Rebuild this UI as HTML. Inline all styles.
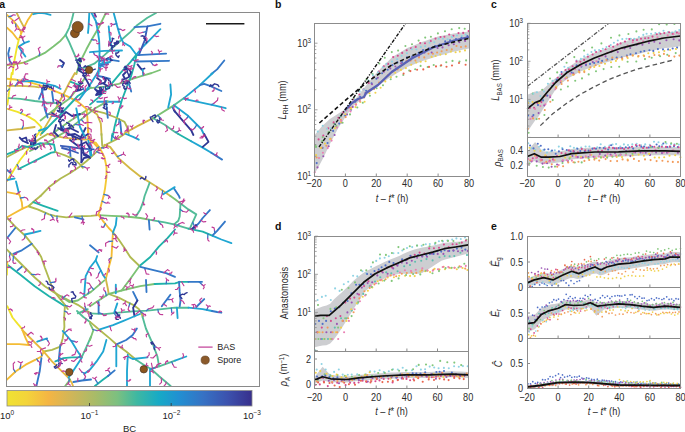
<!DOCTYPE html>
<html><head><meta charset="utf-8"><style>
html,body{margin:0;padding:0;background:#fff;overflow:hidden}
svg{display:block}
text{font-family:"Liberation Sans",sans-serif}
</style></head><body>
<svg width="685" height="432" viewBox="0 0 685 432">
<rect width="685" height="432" fill="#fff"/>
<defs><clipPath id="netclip"><rect x="7" y="13" width="252" height="373"/></clipPath></defs>
<g clip-path="url(#netclip)" fill="none" stroke-linecap="round" stroke-linejoin="round">
<path d="M12.5,74.0 L14.6,59.4 L16.8,47.9 L18.9,39.3 L21.1,33.5" stroke="#f0e42c" stroke-width="1.85"/>
<path d="M21.1,33.5 L23.9,27.8 L27.5,20.6 L32.6,13.0" stroke="#f4bc34" stroke-width="1.85"/>
<path d="M7.0,14.9 L13.2,20.6 L18.2,27.1 L21.1,32.1" stroke="#f4bc34" stroke-width="1.85"/>
<path d="M7.0,27.8 L12.5,32.8 L17.5,39.3" stroke="#f4bc34" stroke-width="1.85"/>
<path d="M16.8,13.0 L20.4,20.6 L23.9,27.1" stroke="#d2b848" stroke-width="1.85"/>
<path d="M7.0,65.1 L14.6,64.4 L24.7,62.3" stroke="#b0ba50" stroke-width="1.85"/>
<path d="M24.7,62.3 L34.7,57.9 L44.8,52.9 L53.4,46.5 L60.6,40.7 L65.6,35.0" stroke="#7cc274" stroke-width="1.85"/>
<path d="M65.6,35.0 L69.2,27.8 L72.0,19.2 L73.5,13.0" stroke="#52bc98" stroke-width="1.85"/>
<path d="M65.6,35.0 L69.2,42.2 L73.5,52.2 L77.8,62.3 L80.0,69.4" stroke="#52bc98" stroke-width="1.85"/>
<path d="M76.4,74.0 L78.5,66.6 L82.1,58.0 L86.4,49.3 L91.0,40.7 L98.6,27.8 L105.8,13.0" stroke="#7cc274" stroke-width="1.85"/>
<path d="M18.9,46.5 L24.7,42.9 L29.0,41.4" stroke="#1fa6d2" stroke-width="1.85"/>
<path d="M18.9,47.2 L22.5,52.2 L25.4,56.5" stroke="#1fa6d2" stroke-width="1.85"/>
<path d="M9.6,47.9 L8.2,53.6 L9.6,60.8 L11.7,63.7" stroke="#3478c8" stroke-width="1.85"/>
<path d="M33.3,14.2 L39.0,12.9 L44.8,13.4 L50.5,14.9" stroke="#1fa6d2" stroke-width="1.85"/>
<path d="M89.3,13.0 L88.6,26.4 L88.0,33.0" stroke="#1fa6d2" stroke-width="1.85"/>
<path d="M80.0,69.4 L86.0,67.0 L94.3,63.7 L104.4,55.1 L118.7,42.2 L130.2,32.1 L137.4,24.9 L147.4,17.7 L156.0,13.0" stroke="#52bc98" stroke-width="1.85"/>
<path d="M136.0,55.1 L143.1,46.5 L150.3,39.3 L160.4,29.2" stroke="#1fa6d2" stroke-width="1.85"/>
<path d="M134.5,27.1 L147.4,26.4 L160.4,23.8" stroke="#3478c8" stroke-width="1.85"/>
<path d="M147.4,26.4 L144.6,40.7 L138.8,55.1" stroke="#3a5cb8" stroke-width="1.85"/>
<path d="M113.7,13.0 L117.3,26.4 L120.2,36.4 L123.0,42.2 L130.2,46.5 L134.5,52.2 L136.5,55.0" stroke="#1fa6d2" stroke-width="1.85"/>
<path d="M137.4,55.1 L166.1,53.6" stroke="#3478c8" stroke-width="1.85"/>
<path d="M136.0,61.5 L169.0,60.8" stroke="#3478c8" stroke-width="1.85"/>
<path d="M91.3,12.5 L95.9,21.3 L97.7,30.5 L99.1,39.8 L99.6,52.0 L98.6,74.0" stroke="#1fa6d2" stroke-width="1.85"/>
<path d="M90.0,52.2 L104.4,50.8 L122.0,50.5" stroke="#1fa6d2" stroke-width="1.85"/>
<path d="M94.0,12.5 L95.9,16.6" stroke="#2f3794" stroke-width="1.85"/>
<path d="M108.7,26.4 L110.1,40.7 L112.0,48.0" stroke="#1fa6d2" stroke-width="1.85"/>
<path d="M224.3,60.5 L217.1,69.4 L211.3,74.0" stroke="#3478c8" stroke-width="1.85"/>
<path d="M12.5,74.0 L11.7,73.0 L9.6,87.4 L8.2,98.8 L7.4,104.6" stroke="#f0e42c" stroke-width="1.85"/>
<path d="M7.0,78.7 L14.6,79.5 L27.5,81.6 L41.9,85.9 L56.3,91.7 L66.3,95.9" stroke="#f4c834" stroke-width="1.85"/>
<path d="M66.3,95.9 L77.8,101.7 L86.4,108.9" stroke="#f4bc34" stroke-width="1.85"/>
<path d="M7.0,85.9 L20.4,85.9 L34.7,86.6 L39.0,87.4" stroke="#d2b848" stroke-width="1.85"/>
<path d="M40.5,135.0 L49.1,120.4 L56.3,107.5 L63.4,94.5 L69.2,83.0 L74.9,73.0 L76.4,74.0" stroke="#d2b848" stroke-width="1.85"/>
<path d="M20.4,81.6 L31.8,80.9 L46.2,83.8 L54.8,85.9 L60.6,88.8" stroke="#1fa6d2" stroke-width="1.85"/>
<path d="M8.9,98.1 L20.4,98.8 L34.7,101.0 L46.2,102.4 L56.3,103.2" stroke="#52bc98" stroke-width="1.85"/>
<path d="M7.4,108.9 L17.5,111.8 L27.5,116.1 L34.7,120.4 L39.0,124.7 L41.4,127.1 L39.8,131.3 L35.6,137.5 L32.0,143.0 L28.5,148.5 L24.0,155.0 L19.7,160.5 L13.5,170.5 L7.0,181.0" stroke="#f0e42c" stroke-width="1.85"/>
<path d="M50.5,135.0 L70.0,121.0 L91.0,107.5" stroke="#7cc274" stroke-width="1.85"/>
<path d="M41.9,133.3 L60.0,115.0 L77.8,96.0 L91.0,87.4" stroke="#1fb2aa" stroke-width="1.85"/>
<path d="M40.5,120.4 L55.0,109.0 L69.2,98.8 L78.0,88.0 L86.4,75.9" stroke="#7cc274" stroke-width="1.85"/>
<path d="M43.3,88.8 L39.0,98.8" stroke="#3478c8" stroke-width="1.85"/>
<path d="M41.9,88.8 L44.8,108.9 L47.6,117.5" stroke="#3478c8" stroke-width="1.85"/>
<path d="M52.0,91.7 L53.4,101.7" stroke="#3478c8" stroke-width="1.85"/>
<path d="M86.4,108.9 L87.4,117.8 L88.3,136.3 L91.1,141.9" stroke="#f4bc34" stroke-width="1.85"/>
<path d="M7.0,130.4 L20.4,129.0 L34.7,127.0" stroke="#d2b848" stroke-width="1.85"/>
<path d="M90.0,88.1 L104.4,86.6 L118.7,83.8 L133.1,78.7 L144.6,75.2 L151.7,73.0 L160.0,70.0" stroke="#7cc274" stroke-width="1.85"/>
<path d="M136.5,55.0 L134.4,64.4 L131.2,75.8 L127.1,86.2 L121.9,100.0 L117.3,116.1 L114.4,127.6 L113.0,135.0" stroke="#1fb2aa" stroke-width="1.85"/>
<path d="M90.0,104.6 L98.6,97.4 L110.4,85.2 L120.8,72.7 L130.2,62.3 L136.0,55.1" stroke="#1fb2aa" stroke-width="1.85"/>
<path d="M90.0,109.6 L104.4,113.2 L115.8,117.5 L124.5,121.8 L128.0,129.0 L128.8,135.0" stroke="#b0ba50" stroke-width="1.85"/>
<path d="M90.0,109.6 L97.2,114.6 L100.8,123.3 L101.5,135.0" stroke="#d2b848" stroke-width="1.85"/>
<path d="M124.5,133.3 L137.4,126.1 L153.2,118.2" stroke="#d4b440" stroke-width="1.85"/>
<path d="M153.2,118.2 L175.0,104.6" stroke="#7cc274" stroke-width="1.85"/>
<path d="M153.2,118.2 L164.7,124.7 L175.0,131.9 L178.3,134.0" stroke="#52bc98" stroke-width="1.85"/>
<path d="M170.4,84.5 L171.1,94.5 L168.2,107.5" stroke="#1fa6d2" stroke-width="1.85"/>
<path d="M172.6,107.5 L175.0,111.8" stroke="#3478c8" stroke-width="1.85"/>
<path d="M97.2,101.7 L120.2,101.7" stroke="#1fa6d2" stroke-width="1.85"/>
<path d="M120.2,121.8 L121.6,135.0" stroke="#3478c8" stroke-width="1.85"/>
<path d="M212.8,73.0 L199.8,85.2 L184.0,98.1" stroke="#1fa6d2" stroke-width="1.85"/>
<path d="M184.0,98.1 L174.0,105.3" stroke="#52bc98" stroke-width="1.85"/>
<path d="M184.0,98.8 L214.2,105.3 L225.7,108.2" stroke="#1fa6d2" stroke-width="1.85"/>
<path d="M199.8,85.2 L204.2,83.8 L209.9,85.9 L221.4,91.0" stroke="#3478c8" stroke-width="1.85"/>
<path d="M174.0,105.3 L188.4,116.1 L201.3,129.0 L204.2,135.0" stroke="#1fa6d2" stroke-width="1.85"/>
<path d="M174.0,110.3 L181.2,118.9 L191.2,130.4 L193.4,135.0" stroke="#2f3794" stroke-width="1.85"/>
<path d="M178.3,134.0 L191.2,141.2" stroke="#1fb2aa" stroke-width="1.85"/>
<path d="M191.2,141.2 L202.7,147.6 L211.3,152.7" stroke="#1fa6d2" stroke-width="1.85"/>
<path d="M211.3,152.7 L222.1,159.6" stroke="#3478c8" stroke-width="1.85"/>
<path d="M204.2,134.0 L208.5,141.9 L202.7,146.9" stroke="#2f3794" stroke-width="1.85"/>
<path d="M174.0,188.6 L179.0,196.0 L179.7,197.9" stroke="#3478c8" stroke-width="1.85"/>
<path d="M7.0,157.0 L20.4,149.8 L30.4,145.5 L40.5,138.3 L47.6,134.0" stroke="#b0ba50" stroke-width="1.85"/>
<path d="M47.6,134.0 L56.3,136.2 L63.4,137.6 L74.9,139.0 L86.4,139.7 L91.0,138.3" stroke="#dcb848" stroke-width="1.85"/>
<path d="M40.5,196.0 L49.1,187.1 L60.6,178.5 L70.6,172.8 L79.2,167.0 L86.4,161.3 L91.0,157.0 L98.6,149.8 L107.2,144.0 L115.8,139.7 L124.5,134.0" stroke="#b0ba50" stroke-width="1.85"/>
<path d="M16.0,181.4 L18.9,192.9" stroke="#1fa6d2" stroke-width="1.85"/>
<path d="M7.0,180.0 L14.6,178.5" stroke="#1fa6d2" stroke-width="1.85"/>
<path d="M7.0,192.1 L18.9,194.3" stroke="#f4bc34" stroke-width="1.85"/>
<path d="M7.0,169.9 L10.3,172.8" stroke="#3478c8" stroke-width="1.85"/>
<path d="M91.1,141.9 L95.7,142.6 L100.0,148.4 L104.4,157.0 L106.5,167.0 L106.5,177.1 L105.0,188.6 L103.6,196.0" stroke="#f4c834" stroke-width="1.85"/>
<path d="M104.4,144.8 L110.1,146.9 L118.7,158.4 L130.2,168.5 L140.3,176.4 L150.3,182.8 L161.8,190.0 L170.4,196.0" stroke="#d4b844" stroke-width="1.85"/>
<path d="M101.5,134.0 L102.2,145.5" stroke="#b0ba50" stroke-width="1.85"/>
<path d="M112.3,134.0 L111.5,140.5" stroke="#1fb2aa" stroke-width="1.85"/>
<path d="M125.9,134.0 L133.1,136.9 L138.8,139.7" stroke="#1fa6d2" stroke-width="1.85"/>
<path d="M149.6,182.8 L144.6,196.0 L143.1,202.2 L140.3,209.4 L135.9,216.5" stroke="#52bc98" stroke-width="1.85"/>
<path d="M163.2,194.3 L174.7,187.1" stroke="#1fa6d2" stroke-width="1.85"/>
<path d="M90.0,142.6 L91.4,155.5" stroke="#1fa6d2" stroke-width="1.85"/>
<path d="M7.0,217.3 L14.6,213.0 L22.5,208.6 L29.0,205.8" stroke="#f4bc34" stroke-width="1.85"/>
<path d="M18.9,194.3 L19.6,195.0 L21.8,202.2 L22.5,208.6" stroke="#f4bc34" stroke-width="1.85"/>
<path d="M29.0,205.8 L34.7,200.7 L40.5,196.0" stroke="#b0ba50" stroke-width="1.85"/>
<path d="M29.0,206.5 L37.6,209.4 L49.1,214.4 L54.8,215.8 L66.3,217.3 L74.9,216.5 L91.0,215.8 L98.6,215.1" stroke="#b0ba50" stroke-width="1.85"/>
<path d="M98.6,215.1 L111.5,215.8 L125.9,216.5 L140.3,218.0 L151.7,220.1" stroke="#7cc274" stroke-width="1.85"/>
<path d="M151.7,220.1 L164.7,222.3 L174.0,224.4 L188.4,228.7" stroke="#52bc98" stroke-width="1.85"/>
<path d="M188.4,228.7 L202.7,231.6 L212.8,235.9" stroke="#1fb2aa" stroke-width="1.85"/>
<path d="M212.8,235.9 L221.4,239.5 L231.4,243.1" stroke="#1fa6d2" stroke-width="1.85"/>
<path d="M33.3,202.2 L43.3,205.8 L53.4,209.4 L57.7,210.8" stroke="#1fb2aa" stroke-width="1.85"/>
<path d="M7.0,218.0 L16.0,227.3 L24.7,235.2 L31.8,243.8 L37.6,251.0 L41.2,257.0 L44.8,267.5 L49.1,279.0 L53.4,290.5 L59.1,297.6 L64.9,304.8 L67.7,309.1" stroke="#b0ba50" stroke-width="1.85"/>
<path d="M15.3,228.0 L7.0,238.1" stroke="#3478c8" stroke-width="1.85"/>
<path d="M24.7,234.5 L31.8,233.0 L40.5,230.9" stroke="#1fa6d2" stroke-width="1.85"/>
<path d="M31.8,243.8 L21.8,250.3 L13.2,253.9" stroke="#3478c8" stroke-width="1.85"/>
<path d="M74.9,217.3 L83.5,219.4" stroke="#3478c8" stroke-width="1.85"/>
<path d="M103.6,196.0 L101.5,203.6 L99.3,212.2 L97.9,215.1" stroke="#f4bc34" stroke-width="1.85"/>
<path d="M98.6,215.1 L102.9,220.8 L108.7,228.0 L113.0,232.3 L112.3,242.4 L111.5,257.0 L108.7,267.5 L105.8,279.0" stroke="#f4bc34" stroke-width="1.85"/>
<path d="M113.0,232.3 L118.7,239.5 L124.5,248.1 L130.2,257.0 L139.5,266.0" stroke="#b0ba50" stroke-width="1.85"/>
<path d="M175.0,229.5 L167.5,238.1 L158.9,246.7 L150.3,257.0 L139.5,266.0" stroke="#1fb2aa" stroke-width="1.85"/>
<path d="M116.6,218.0 L115.8,225.2 L113.0,232.3" stroke="#1fa6d2" stroke-width="1.85"/>
<path d="M90.0,245.3 L98.6,252.4" stroke="#3478c8" stroke-width="1.85"/>
<path d="M148.9,220.1 L149.6,229.5" stroke="#3478c8" stroke-width="1.85"/>
<path d="M170.4,196.0 L175.0,199.3 L180.5,203.6" stroke="#7cc274" stroke-width="1.85"/>
<path d="M180.5,203.6 L188.4,209.4 L196.3,214.4 L192.7,222.3 L189.8,228.7" stroke="#52bc98" stroke-width="1.85"/>
<path d="M180.5,203.6 L179.7,216.5 L178.3,220.8 L174.0,224.4" stroke="#52bc98" stroke-width="1.85"/>
<path d="M194.1,228.0 L198.4,223.7 L202.7,218.0 L209.9,210.1" stroke="#3478c8" stroke-width="1.85"/>
<path d="M192.0,229.0 L196.0,225.0" stroke="#2f3794" stroke-width="1.85"/>
<path d="M212.8,235.2 L217.1,230.9 L225.0,221.6" stroke="#3478c8" stroke-width="1.85"/>
<path d="M7.0,249.6 L13.2,256.0 L24.7,267.5 L34.7,277.5 L44.8,286.2 L53.4,291.9 L60.6,296.2 L69.2,300.5 L77.8,304.8 L86.4,310.6 L91.0,313.4" stroke="#b0ba50" stroke-width="1.85"/>
<path d="M7.0,264.6 L20.4,274.7 L34.7,286.2 L49.1,296.2 L60.6,303.4 L64.9,306.3" stroke="#1fb2aa" stroke-width="1.85"/>
<path d="M60.6,296.2 L69.2,302.0 L77.8,300.5 L86.4,294.8 L91.0,291.9 L104.4,280.4" stroke="#7cc274" stroke-width="1.85"/>
<path d="M97.2,256.0 L95.7,260.3 L90.0,267.5 L85.7,276.1 L85.0,284.7 L84.2,296.2" stroke="#1fa6d2" stroke-width="1.85"/>
<path d="M95.7,260.3 L102.9,274.7 L105.8,279.0" stroke="#1fa6d2" stroke-width="1.85"/>
<path d="M7.4,261.7 L6.9,274.7" stroke="#f0e42c" stroke-width="1.85"/>
<path d="M64.9,306.3 L64.1,318.0 L64.4,326.9 L62.7,338.4 L60.3,346.6 L52.0,349.9 L43.8,351.5" stroke="#b0ba50" stroke-width="1.85"/>
<path d="M77.8,313.4 L87.8,309.1" stroke="#52bc98" stroke-width="1.85"/>
<path d="M17.5,270.4 L21.8,266.8" stroke="#3478c8" stroke-width="1.85"/>
<path d="M105.8,279.0 L107.9,289.0 L108.7,294.0" stroke="#d2b848" stroke-width="1.85"/>
<path d="M108.7,294.0 L118.7,297.6 L127.3,302.0 L133.1,304.8 L138.8,309.1 L141.7,313.4 L142.6,317.0" stroke="#b0ba50" stroke-width="1.85"/>
<path d="M142.6,317.0 L145.9,328.5 L152.5,343.3 L157.4,356.5 L159.1,366.3" stroke="#52bc98" stroke-width="1.85"/>
<path d="M90.0,306.3 L98.6,300.5 L108.7,294.0 L121.6,290.5 L140.3,286.2 L154.6,284.0" stroke="#7cc274" stroke-width="1.85"/>
<path d="M154.6,284.0 L175.0,283.3 L179.7,281.8 L188.4,281.8" stroke="#1fb2aa" stroke-width="1.85"/>
<path d="M188.4,281.8 L202.0,281.8" stroke="#3478c8" stroke-width="1.85"/>
<path d="M121.6,290.5 L130.2,279.0 L139.5,266.0" stroke="#7cc274" stroke-width="1.85"/>
<path d="M140.3,266.8 L154.6,270.4 L166.1,273.2 L175.0,276.8" stroke="#3478c8" stroke-width="1.85"/>
<path d="M90.0,313.4 L104.4,314.1 L118.7,312.7 L133.1,311.3 L147.4,310.6 L161.8,309.1 L175.0,307.7 L188.4,307.7" stroke="#52bc98" stroke-width="1.85"/>
<path d="M188.4,307.7 L202.7,309.1 L212.0,311.0" stroke="#1fa6d2" stroke-width="1.85"/>
<path d="M212.0,311.0 L217.1,312.0 L221.4,312.7" stroke="#3478c8" stroke-width="1.85"/>
<path d="M98.6,302.0 L98.6,313.4" stroke="#3478c8" stroke-width="1.85"/>
<path d="M133.1,291.9 L137.4,300.5" stroke="#3478c8" stroke-width="1.85"/>
<path d="M137.4,300.5 L133.1,307.7 L134.5,316.3" stroke="#2f3794" stroke-width="1.85"/>
<path d="M115.8,284.7 L115.8,293.3" stroke="#1fa6d2" stroke-width="1.85"/>
<path d="M117.3,303.4 L114.4,312.0" stroke="#1fa6d2" stroke-width="1.85"/>
<path d="M115.8,312.0 L120.2,318.0" stroke="#2f3794" stroke-width="1.85"/>
<path d="M161.8,306.3 L170.4,294.8" stroke="#3478c8" stroke-width="1.85"/>
<path d="M146.0,280.0 L146.5,292.0" stroke="#3478c8" stroke-width="1.85"/>
<path d="M179.0,281.8 L179.7,291.9 L180.5,300.5 L179.7,306.3" stroke="#3478c8" stroke-width="1.85"/>
<path d="M196.3,307.0 L204.2,299.1" stroke="#3478c8" stroke-width="1.85"/>
<path d="M176.9,307.7 L177.6,318.0" stroke="#1fa6d2" stroke-width="1.85"/>
<path d="M7.4,306.3 L12.5,317.5 L17.5,323.6 L22.4,329.3" stroke="#f0e42c" stroke-width="1.85"/>
<path d="M22.4,330.2 L32.3,340.0 L42.2,349.9 L52.0,361.4 L61.9,371.3 L68.5,377.8 L71.8,382.8 L73.0,386.0" stroke="#e8b840" stroke-width="1.85"/>
<path d="M22.4,330.2 L25.7,338.4 L29.0,345.0" stroke="#f4bc34" stroke-width="1.85"/>
<path d="M7.0,344.1 L19.2,344.1 L29.0,345.0" stroke="#f4bc34" stroke-width="1.85"/>
<path d="M7.0,379.5 L15.9,371.3 L25.7,364.7 L35.6,359.7 L41.4,356.5 L43.8,351.5" stroke="#f4bc34" stroke-width="1.85"/>
<path d="M41.4,358.1 L39.7,371.3 L36.4,386.0" stroke="#3478c8" stroke-width="1.85"/>
<path d="M62.7,331.0 L71.8,341.7 L76.7,349.9 L81.6,357.3" stroke="#1fa6d2" stroke-width="1.85"/>
<path d="M55.3,361.4 L63.5,358.1 L71.8,357.3 L81.6,357.3" stroke="#1fb2aa" stroke-width="1.85"/>
<path d="M81.6,357.3 L86.6,346.6 L91.0,336.7" stroke="#52bc98" stroke-width="1.85"/>
<path d="M81.6,358.1 L75.1,368.0 L68.5,377.8" stroke="#1fa6d2" stroke-width="1.85"/>
<path d="M77.0,311.0 L83.3,317.0 L90.0,321.9" stroke="#52bc98" stroke-width="1.85"/>
<path d="M60.3,345.0 L58.6,361.4" stroke="#3478c8" stroke-width="1.85"/>
<path d="M65.2,386.0 L70.1,379.5" stroke="#7cc274" stroke-width="1.85"/>
<path d="M73.4,382.0 L82.0,380.5 L91.0,379.5" stroke="#3478c8" stroke-width="1.85"/>
<path d="M37.2,341.7 L47.1,338.4" stroke="#1fa6d2" stroke-width="1.85"/>
<path d="M90.0,321.9 L99.9,330.2 L109.7,338.4 L117.1,345.0 L126.2,351.5 L136.0,359.7" stroke="#b0ba50" stroke-width="1.85"/>
<path d="M136.0,359.7 L145.9,366.3 L150.8,368.8 L159.1,376.2 L170.6,386.0" stroke="#52bc98" stroke-width="1.85"/>
<path d="M99.9,329.3 L113.0,325.2 L122.9,321.1 L132.7,317.0 L140.0,314.0" stroke="#1fa6d2" stroke-width="1.85"/>
<path d="M117.1,344.1 L126.2,340.0 L132.7,335.1 L136.9,328.5" stroke="#3478c8" stroke-width="1.85"/>
<path d="M150.8,368.8 L159.1,366.3 L175.0,360.6" stroke="#52bc98" stroke-width="1.85"/>
<path d="M175.0,360.6 L186.3,356.5" stroke="#1fa6d2" stroke-width="1.85"/>
<path d="M106.4,340.0 L103.2,351.5 L96.6,361.4 L90.0,369.6 L84.0,374.0" stroke="#1fa6d2" stroke-width="1.85"/>
<path d="M116.3,345.8 L116.3,359.7 L116.3,366.3" stroke="#1fa6d2" stroke-width="1.85"/>
<path d="M127.8,354.8 L127.0,371.3 L127.0,386.0" stroke="#1fa6d2" stroke-width="1.85"/>
<path d="M150.0,368.8 L150.0,386.0" stroke="#1fa6d2" stroke-width="1.85"/>
<path d="M94.9,386.0 L103.2,379.5 L108.0,376.0" stroke="#1fb2aa" stroke-width="1.85"/>
<path d="M108.0,376.0 L114.7,370.4" stroke="#3478c8" stroke-width="1.85"/>
<path d="M127.8,356.5 L132.7,359.0 L147.5,357.3" stroke="#1fa6d2" stroke-width="1.85"/>
<path d="M90.0,323.6 L93.3,330.2 L90.0,340.0" stroke="#7cc274" stroke-width="1.85"/>
<path d="M58.1,128.0 L67.7,133.5 L80.0,139.0 L82.8,133.5 L85.6,128.0" stroke="#2f3794" stroke-width="1.85"/>
<path d="M60.9,145.8 L70.0,147.0 L81.4,148.6 L93.8,149.3" stroke="#3a5cb8" stroke-width="1.85"/>
<path d="M81.4,140.3 L81.4,148.6 L81.4,162.3" stroke="#2f3794" stroke-width="1.85"/>
<path d="M82.8,152.7 L89.7,156.8 L84.0,158.0 L81.4,162.3" stroke="#2f3794" stroke-width="1.85"/>
<path d="M88.3,140.3 L89.5,148.0 L90.4,155.4" stroke="#1fa6d2" stroke-width="1.85"/>
<path d="M69.8,147.2 L70.5,156.8" stroke="#3478c8" stroke-width="1.85"/>
<path d="M88.3,128.0 L88.3,138.3 L93.8,143.1 L100.0,150.0" stroke="#f4bc34" stroke-width="1.85"/>
<path d="M29.3,147.2 L40.3,143.1 L54.0,144.5 L55.4,152.0" stroke="#1fb2aa" stroke-width="1.85"/>
<path d="M55.4,152.0 L51.3,152.7 L40.3,158.2 L26.6,165.0 L18.3,169.2" stroke="#1fb2aa" stroke-width="1.85"/>
<path d="M55.4,152.0 L65.0,155.4 L74.6,159.6 L80.0,164.4 L82.8,167.8" stroke="#b0ba50" stroke-width="1.85"/>
<path d="M6.0,154.7 L14.2,151.3 L22.5,145.8 L29.3,147.2" stroke="#1fb2aa" stroke-width="1.85"/>
<path d="M39.0,130.7 L47.2,128.0" stroke="#1fa6d2" stroke-width="1.85"/>
<path d="M19.7,137.6 L23.0,141.0 L28.0,143.1" stroke="#2f3794" stroke-width="1.85"/>
<path d="M22.0,139.0 L26.0,137.5 L27.0,141.0" stroke="#2f3794" stroke-width="1.85"/>
<path d="M79.2,99.6 L88.5,87.1 L95.8,75.6 L104.2,60.0" stroke="#1fa6d2" stroke-width="1.85"/>
<path d="M96.9,75.6 L103.0,77.0 L110.0,78.8" stroke="#3478c8" stroke-width="1.85"/>
<path d="M84.4,76.7 L87.0,81.0 L89.6,86.0" stroke="#2f3794" stroke-width="1.85"/>
<path d="M70.8,81.9 L79.2,85.0" stroke="#1fb2aa" stroke-width="1.85"/>
<path d="M99.0,64.2 L104.0,63.0 L110.0,62.0" stroke="#1fa6d2" stroke-width="1.85"/>
<path d="M100.0,61.2 L106.2,59.2 L118.8,61.2" stroke="#3478c8" stroke-width="1.85"/>
<path d="M100.0,65.4 L108.0,64.0" stroke="#3478c8" stroke-width="1.85"/>
<path d="M137.5,64.4 L141.7,69.6 L144.5,68.5" stroke="#2f3794" stroke-width="1.85"/>
<path d="M124.0,70.0 L128.0,68.5 L131.0,72.0 L129.0,77.0 L125.0,79.0 L123.0,75.0 L126.0,72.0" stroke="#2f3794" stroke-width="1.85"/>
<path d="M103.0,77.0 L106.0,80.0 L104.0,84.0 L108.0,86.0" stroke="#2f3794" stroke-width="1.85"/>
<path d="M129.2,84.2 L131.2,91.5" stroke="#3478c8" stroke-width="1.85"/>
<path d="M142.7,69.6 L143.2,74.8" stroke="#1fa6d2" stroke-width="1.85"/>
<path d="M77.0,62.0 L80.0,66.0 L78.0,70.0 L83.0,73.0 L84.0,76.0" stroke="#2f3794" stroke-width="1.85"/>
<path d="M97.0,78.0 L101.0,81.0 L99.0,84.0 L104.0,83.0" stroke="#2f3794" stroke-width="1.85"/>
<path d="M95.0,89.0 L98.0,92.0 L96.0,95.0 L101.0,94.0" stroke="#2f3794" stroke-width="1.85"/>
<path d="M75.0,86.0 L78.0,89.0 L76.0,91.0 L80.0,90.0" stroke="#2f3794" stroke-width="1.85"/>
<path d="M60.0,60.0 L64.0,63.0 L62.0,67.0" stroke="#2f3794" stroke-width="1.85"/>
<path d="M30.0,151.0 L48.5,141.9 L67.0,130.7 L85.6,115.9 L94.8,108.5 L107.8,101.1" stroke="#7cc274" stroke-width="1.85"/>
<path d="M52.0,113.0 L60.0,118.0 L66.0,112.0 L72.0,116.0 L80.0,114.0" stroke="#2f3794" stroke-width="1.85"/>
<path d="M60.0,122.0 L62.0,130.0 L70.0,128.0 L78.0,132.0" stroke="#2f3794" stroke-width="1.85"/>
<path d="M68.0,135.0 L75.0,134.0 L82.0,138.0 L88.0,134.0" stroke="#2f3794" stroke-width="1.85"/>
<path d="M70.0,140.0 L78.0,146.0 L86.0,142.0 L91.0,150.0" stroke="#2f3794" stroke-width="1.85"/>
<path d="M82.0,145.0 L84.0,155.0 L90.0,158.0" stroke="#2f3794" stroke-width="1.85"/>
<path d="M56.0,125.0 L54.0,132.0 L58.0,136.0" stroke="#2f3794" stroke-width="1.85"/>
<path d="M76.3,108.5 L80.0,127.0 L85.6,138.0" stroke="#1fa6d2" stroke-width="1.85"/>
<path d="M106.0,101.0 L107.8,117.8" stroke="#3478c8" stroke-width="1.85"/>
<path d="M62.0,148.0 L70.0,150.0 L78.0,153.0" stroke="#3a5cb8" stroke-width="1.85"/>
<path d="M83.9,67.0 L85.3,65.8 L86.6,67.1 L88.2,66.2 L89.5,67.4 L91.0,68.5 L91.8,70.0 L93.6,69.7 L95.3,69.1" stroke="#2f3794" stroke-width="1.4"/>
<path d="M79.8,66.6 L78.4,65.6 L79.9,64.6 L80.4,66.3 L79.9,68.0 L78.6,69.3 L79.6,70.8 L80.6,69.3 L81.8,67.9 L80.3,67.0 L78.9,68.2" stroke="#2f3794" stroke-width="1.4"/>
<path d="M81.1,58.5 L79.4,58.2 L78.5,59.8 L79.5,61.3 L81.3,61.6 L80.8,59.9 L79.1,60.5 L77.4,60.0 L75.6,60.1" stroke="#2f3794" stroke-width="1.4"/>
<path d="M85.2,72.9 L86.9,72.5 L87.4,70.8 L86.4,69.3 L85.1,70.5 L83.4,69.8 L81.6,69.9 L81.2,68.2" stroke="#2f3794" stroke-width="1.4"/>
<path d="M112.2,49.6 L111.3,48.0 L112.9,47.3 L111.9,45.9 L110.3,45.1 L109.8,43.4" stroke="#2f3794" stroke-width="1.4"/>
<path d="M112.7,45.7 L114.4,46.2 L114.9,44.5 L114.1,42.9 L115.9,42.6 L117.0,44.0 L118.5,42.9 L118.3,41.1 L116.5,41.3 L117.1,43.1 L115.7,44.2" stroke="#2f3794" stroke-width="1.4"/>
<path d="M108.8,45.6 L108.9,43.8 L110.5,43.0 L111.8,41.7 L112.4,40.0 L112.2,38.2 L113.9,38.8" stroke="#2f3794" stroke-width="1.4"/>
<path d="M42.0,88.3 L43.1,86.9 L44.6,87.9 L46.1,86.9 L47.1,85.4 L48.7,86.2 L49.7,87.7 L51.2,86.7 L51.5,88.4 L53.3,88.8" stroke="#2f3794" stroke-width="1.4"/>
<path d="M44.6,87.9 L44.5,89.7 L46.3,89.5 L46.9,87.8 L48.2,86.6 L46.6,85.8 L44.8,85.8 L43.2,85.0" stroke="#2f3794" stroke-width="1.4"/>
<path d="M57.3,110.5 L58.9,111.2 L60.1,109.9 L59.0,108.5 L60.5,107.4 L61.9,108.5 L63.6,107.9" stroke="#2f3794" stroke-width="1.4"/>
<path d="M57.9,111.4 L59.6,112.1 L61.4,112.0 L63.2,111.7 L62.7,109.9 L61.1,110.8 L62.0,112.4" stroke="#2f3794" stroke-width="1.4"/>
<path d="M61.1,108.5 L59.6,107.6 L60.0,105.9 L61.1,104.4 L60.8,102.7 L59.0,102.5 L58.0,101.0 L56.7,102.3 L57.1,104.0" stroke="#2f3794" stroke-width="1.4"/>
<path d="M82.5,89.2 L80.8,90.0 L80.2,88.3 L81.3,86.8 L79.7,86.0 L78.0,85.7 L76.8,87.1 L78.4,87.9" stroke="#2f3794" stroke-width="1.4"/>
<path d="M80.3,83.1 L81.6,81.9 L82.8,83.2 L81.1,83.9 L79.4,83.5 L78.4,81.9" stroke="#2f3794" stroke-width="1.4"/>
<path d="M82.7,75.7 L84.5,75.9 L86.1,75.1 L86.7,73.4 L84.9,73.3 L83.3,72.5" stroke="#2f3794" stroke-width="1.4"/>
<path d="M64.1,120.7 L62.9,119.4 L61.7,120.8 L60.4,121.9 L58.6,121.5 L59.1,119.8 L60.8,119.2" stroke="#2f3794" stroke-width="1.4"/>
<path d="M73.6,127.9 L72.5,126.5 L71.3,125.1 L70.1,126.5 L68.6,125.5 L69.9,124.2 L68.3,123.4 L66.7,122.6" stroke="#2f3794" stroke-width="1.4"/>
<path d="M63.2,126.6 L61.5,127.2 L62.3,128.8 L62.0,130.6 L60.5,129.7 L61.3,128.1" stroke="#2f3794" stroke-width="1.4"/>
<path d="M128.8,76.1 L128.4,74.4 L127.6,72.7 L127.2,71.0 L126.9,69.2 L126.7,67.4 L125.3,66.3 L124.2,67.7 L126.0,68.2 L125.0,69.8" stroke="#2f3794" stroke-width="1.4"/>
<path d="M123.9,79.2 L122.1,79.2 L122.7,80.9 L124.4,81.6 L125.1,83.2 L126.9,83.1 L127.3,81.4 L129.0,81.8 L130.2,83.2" stroke="#2f3794" stroke-width="1.4"/>
<path d="M126.5,80.1 L127.4,81.7 L127.4,83.5 L125.7,84.1 L124.3,83.0 L122.7,83.8 L122.9,85.6 L124.6,86.3 L123.7,87.9 L124.9,89.3 L126.4,88.3" stroke="#2f3794" stroke-width="1.4"/>
<path d="M106.1,86.0 L105.3,87.5 L106.0,89.2 L107.8,88.9 L109.4,88.3 L110.0,86.6" stroke="#2f3794" stroke-width="1.4"/>
<path d="M105.3,81.1 L105.1,79.3 L106.4,78.1 L107.9,79.0 L108.8,80.6 L110.4,81.2 L110.3,83.0 L111.6,84.3 L112.2,85.9" stroke="#2f3794" stroke-width="1.4"/>
<path d="M99.1,91.0 L97.3,90.5 L97.5,92.3 L99.3,92.3 L101.1,92.0 L100.2,90.4 L101.5,89.2 L101.1,87.5 L99.3,87.6 L99.9,89.3 L99.6,91.1" stroke="#2f3794" stroke-width="1.4"/>
<path d="M97.7,93.4 L99.4,92.8 L101.0,93.5 L102.3,92.2 L103.4,90.8 L102.4,89.3 L101.4,90.9 L100.6,92.5" stroke="#2f3794" stroke-width="1.4"/>
<path d="M106.9,107.7 L106.3,109.4 L104.8,108.6 L103.2,107.7 L104.6,106.6 L103.9,105.0 L105.4,103.9 L107.1,104.3" stroke="#2f3794" stroke-width="1.4"/>
<path d="M153.0,121.6 L152.0,120.1 L150.8,118.9 L150.3,117.1 L152.0,116.8 L153.4,115.6 L155.1,114.9 L155.9,116.5 L154.7,117.8" stroke="#2f3794" stroke-width="1.4"/>
<path d="M159.5,121.9 L158.1,123.0 L156.8,121.6 L157.6,120.0 L159.1,121.0 L160.2,119.5 L159.4,117.9" stroke="#2f3794" stroke-width="1.4"/>
<path d="M72.1,136.5 L73.1,138.0 L72.6,139.7 L74.4,139.6 L76.1,139.5 L75.6,137.8 L74.1,136.7 L72.4,136.2" stroke="#2f3794" stroke-width="1.4"/>
<path d="M68.5,159.8 L69.4,161.3 L70.7,160.1 L72.1,159.0 L73.9,159.2 L73.5,161.0" stroke="#2f3794" stroke-width="1.4"/>
<path d="M74.6,162.0 L75.9,163.2 L76.1,165.0 L74.3,164.8 L72.5,164.6 L73.1,162.9 L71.3,162.4 L70.2,163.8 L68.9,165.1 L68.9,166.9" stroke="#2f3794" stroke-width="1.4"/>
<path d="M33.6,142.9 L32.4,144.3 L30.6,144.5 L30.8,142.7 L32.6,142.8 L34.2,143.5 L35.9,143.0 L35.5,141.2 L35.5,139.4 L34.1,138.3" stroke="#2f3794" stroke-width="1.4"/>
<path d="M29.0,139.8 L29.7,141.4 L31.0,140.2 L31.8,141.8 L32.5,143.5 L33.7,144.7" stroke="#2f3794" stroke-width="1.4"/>
<path d="M35.0,141.9 L34.7,143.7 L33.0,143.1 L31.2,142.8 L31.7,141.0 L33.5,140.9 L35.1,140.1 L35.3,138.3 L35.4,136.5 L34.4,135.0 L35.9,134.0" stroke="#2f3794" stroke-width="1.4"/>
<path d="M37.7,146.9 L36.9,148.5 L35.4,149.5 L34.6,147.9 L32.9,148.6 L31.6,147.4" stroke="#2f3794" stroke-width="1.4"/>
<path d="M46.1,281.2 L47.6,282.1 L47.8,283.9 L49.4,284.7 L51.1,285.4 L52.7,286.2 L54.0,287.4 L53.0,288.9 L51.4,289.7 L49.7,289.1 L49.1,287.4" stroke="#2f3794" stroke-width="1.4"/>
<path d="M72.4,302.1 L71.9,300.4 L71.7,298.6 L73.4,298.2 L75.2,298.0 L75.8,296.3 L74.6,295.0 L73.5,293.5 L73.0,291.8 L71.2,292.1" stroke="#2f3794" stroke-width="1.4"/>
<path d="M90.7,312.8 L91.0,314.6 L92.3,315.7 L91.0,316.9 L91.5,318.7 L89.8,318.4 L89.9,316.7" stroke="#2f3794" stroke-width="1.4"/>
<path d="M181.9,298.7 L180.9,297.2 L179.6,296.0 L181.0,294.9 L182.6,294.1 L184.3,294.6 L185.4,293.3 L187.1,292.6" stroke="#2f3794" stroke-width="1.4"/>
<path d="M209.8,86.4 L210.7,84.8 L211.9,86.1 L213.3,84.9 L214.6,83.8 L216.3,84.4 L218.0,85.0 L218.9,86.6" stroke="#2f3794" stroke-width="1.4"/>
<path d="M145.9,176.4 L145.7,178.1 L144.7,179.6 L143.2,178.5 L141.7,177.6 L140.3,178.7" stroke="#2f3794" stroke-width="1.4"/>
<path d="M152.6,341.9 L150.9,342.6 L151.8,344.2 L153.2,343.1 L154.0,344.7 L155.0,346.2 L154.1,347.8 L154.5,349.6" stroke="#2f3794" stroke-width="1.4"/>
<path d="M56.9,364.6 L55.9,366.1 L54.2,366.8 L55.4,368.2 L57.1,367.7 L58.5,366.5 L59.1,364.8 L58.7,363.1 L60.5,362.9 L62.2,363.6" stroke="#2f3794" stroke-width="1.4"/>
<path d="M118.3,319.4 L116.5,319.2 L115.4,317.8 L116.7,316.5 L118.4,316.0 L119.8,314.9" stroke="#2f3794" stroke-width="1.4"/>
<path d="M146.0,43.0 L147.0,41.5 L145.5,40.5 L145.5,38.7 L143.8,38.3 L144.5,36.6 L142.9,35.8 L141.1,36.1" stroke="#2f3794" stroke-width="1.4"/>
<path d="M118.9,51.8 L117.6,53.1 L115.8,53.0 L115.9,54.8 L117.1,56.2 L118.4,57.4 L119.1,55.7" stroke="#2f3794" stroke-width="1.4"/>
<path d="M112.4,60.4 L110.7,60.7 L110.9,58.9 L109.8,57.5 L108.1,57.9 L106.6,58.9 L107.1,60.6" stroke="#2f3794" stroke-width="1.4"/>
<path d="M8.8,16.6 L11.7,16.0 M15.7,23.9 L15.8,26.4 M39.1,55.7 L39.8,53.0 M79.3,67.2 L81.6,68.4 M91.6,39.6 L94.0,40.0 M24.5,43.0 L22.8,39.9 M21.4,50.7 L21.3,53.0 M146.4,31.5 L142.9,32.3 M116.6,23.7 L113.6,24.5 M118.1,29.0 L120.8,29.3 M150.4,61.2 L153.0,64.8 M96.2,22.7 L98.6,23.6 M99.4,55.8 L102.9,58.5 M93.3,51.9 L94.3,54.2 M9.4,88.9 L7.2,91.1 M17.4,80.0 L18.4,81.7 M63.4,94.7 L64.0,96.6 M69.9,97.7 L71.3,96.2 M15.2,85.9 L17.5,82.7 M51.5,116.2 L55.9,116.4 M22.7,81.5 L24.1,78.2 M53.9,85.7 L53.3,87.9 M20.8,113.2 L22.2,111.6 M17.2,164.6 L18.2,166.7 M62.4,126.5 L65.0,129.3 M84.7,91.5 L82.9,87.7 M46.4,113.8 L49.6,114.3 M22.1,128.8 L23.4,125.6 M95.6,87.5 L98.8,84.5 M103.3,86.7 L103.6,89.0 M132.6,59.4 L134.4,60.6 M119.3,119.2 L118.8,123.0 M157.7,115.4 L160.8,118.3 M175.7,132.3 L178.2,131.3 M211.3,104.7 L213.7,103.5 M188.3,116.1 L186.6,118.5 M196.9,124.6 L194.5,128.3 M32.3,144.2 L32.0,141.8 M96.6,151.7 L99.1,152.9 M101.6,147.8 L103.7,148.0 M98.9,146.9 L96.7,148.6 M103.9,194.4 L108.0,195.5 M117.3,156.6 L121.3,155.0 M162.6,190.6 L162.3,193.7 M112.1,135.8 L114.7,138.3 M90.7,149.2 L87.9,151.5 M20.5,198.0 L24.6,197.4 M45.6,212.9 L44.6,215.3 M50.8,214.8 L52.9,217.7 M57.0,216.1 L57.0,218.5 M82.0,216.2 L82.8,220.6 M158.5,221.3 L160.6,224.0 M177.2,225.3 L178.9,224.1 M207.9,233.8 L207.7,238.3 M25.1,235.7 L24.6,238.0 M50.4,282.6 L54.9,282.0 M65.3,305.5 L67.7,306.2 M102.2,201.2 L105.1,202.8 M100.6,217.7 L104.1,218.7 M105.3,223.7 L103.8,226.9 M112.9,234.0 L114.9,234.6 M112.4,241.2 L108.7,241.5 M111.3,257.8 L109.3,259.0 M192.7,222.4 L194.3,225.7 M180.1,209.3 L182.6,211.2 M214.7,233.3 L214.5,230.1 M10.2,252.9 L9.5,256.4 M13.5,256.3 L13.0,260.7 M31.5,274.3 L35.8,274.6 M63.4,297.6 L65.3,296.0 M88.0,293.8 L88.8,291.6 M93.7,289.6 L91.3,286.8 M100.8,270.5 L98.7,273.7 M64.6,311.2 L66.9,312.2 M86.3,309.7 L85.0,306.6 M129.9,303.2 L128.8,306.9 M153.9,347.0 L156.3,347.2 M106.3,295.5 L105.4,291.5 M166.2,283.6 L166.5,280.9 M199.0,281.8 L202.2,284.7 M144.5,267.9 L145.2,269.8 M114.0,313.2 L116.1,315.8 M139.5,311.0 L142.8,313.3 M146.3,310.7 L148.3,309.0 M157.9,309.5 L158.4,312.3 M171.3,308.1 L171.8,312.6 M206.6,309.9 L207.8,307.7 M98.6,312.5 L102.3,313.8 M166.8,299.6 L170.0,299.5 M69.3,379.0 L68.8,382.2 M15.2,372.0 L13.5,369.1 M19.9,368.6 L20.7,365.0 M36.8,359.0 L38.1,361.1 M41.8,355.6 L41.4,353.4 M64.3,332.9 L67.2,330.7 M70.8,340.6 L74.9,341.5 M80.6,355.8 L77.5,357.8 M59.0,357.5 L62.9,359.3 M83.2,380.4 L84.7,378.5 M46.2,338.7 L48.1,341.2 M151.1,369.1 L155.4,367.7 M130.8,336.6 L132.8,337.5 M171.7,361.8 L172.7,364.3 M84.8,373.4 L81.9,372.2 M98.0,383.6 L95.6,379.9 M110.6,373.8 L109.2,371.4 M92.9,329.5 L97.0,330.7 M38.4,143.8 L40.5,145.4 M81.7,166.4 L84.9,167.2 M107.6,59.4 L109.4,57.5 M100.8,65.3 L104.4,67.3 M62.8,65.5 L60.1,65.9 M75.0,124.3 L78.3,124.8 M81.2,119.4 L83.0,121.5" stroke="#3478c8" stroke-width="1.3"/>
<path d="M13.5,67.4 L10.6,66.3 M10.6,66.3 L8.9,68.4 M14.1,62.9 L18.4,63.2 M18.4,63.2 L20.3,60.8 M19.6,37.3 L21.5,37.3 L22.5,38.9 M22.8,30.1 L24.6,29.2 L24.5,27.2 M24.6,29.2 L25.3,27.4 M11.7,16.0 L13.3,14.8 L15.3,15.1 M12.8,20.2 L11.7,21.9 L12.6,23.6 M11.7,21.9 L13.0,23.2 M15.8,26.4 L16.5,28.8 L18.9,29.4 M16.5,28.8 L14.8,31.0 M19.9,30.0 L22.4,30.0 L24.1,31.9 M22.4,30.0 L23.7,27.1 M19.1,17.8 L14.9,20.7 M11.6,64.7 L13.9,61.7 M13.9,61.7 L16.8,61.9 M17.1,63.9 L18.0,68.1 M18.0,68.1 L15.7,69.9 M24.0,62.4 L25.3,64.2 L27.5,63.8 M25.3,64.2 L27.9,63.8 M39.8,53.0 L38.3,48.6 M38.3,48.6 L40.1,47.2 M75.2,56.1 L77.3,56.7 L79.0,55.4 M77.3,56.7 L78.6,54.1 M81.6,68.4 L83.3,70.0 L83.7,72.2 M81.9,58.6 L83.5,58.7 L84.8,59.7 M83.5,58.7 L83.9,60.6 M94.0,40.0 L95.8,39.9 L97.0,41.3 M99.9,25.0 L98.6,24.2 L97.2,25.1 M105.1,14.4 L106.9,13.7 L108.7,14.1 M19.3,46.3 L23.0,49.5 M23.0,49.5 L23.0,52.1 M22.8,39.9 L22.9,37.5 L24.9,36.1 M22.9,37.5 L20.5,35.5 M21.3,53.0 L20.6,55.2 L21.8,57.3 M20.6,55.2 L22.0,58.1 M9.0,57.6 L10.2,57.5 L10.8,56.4 L12.1,56.6 M10.4,61.8 L9.7,64.0 L7.6,64.3 M9.7,64.0 L7.5,64.4 M88.7,23.8 L92.0,25.8 M98.5,60.2 L98.7,58.3 L97.2,57.2 M98.7,58.3 L96.9,56.8 M109.9,50.1 L112.1,51.3 L114.4,50.4 M112.1,51.3 L112.8,53.7 M154.2,35.4 L156.3,36.6 L158.7,36.3 M142.9,32.3 L139.7,33.3 M139.7,33.3 L137.7,32.5 M145.3,37.0 L147.0,38.4 L146.5,40.5 M147.0,38.4 L146.8,40.9 M140.8,50.1 L139.3,49.7 L139.2,48.1 M113.6,24.5 L112.4,24.3 L111.4,23.4 L110.3,23.9 M112.4,24.3 L111.1,26.4 M120.8,29.3 L122.7,30.6 L124.9,29.7 M122.7,30.6 L124.4,29.8 M119.9,35.3 L118.7,36.6 L118.6,38.3 M123.4,42.4 L122.9,43.3 L123.1,44.3 L122.5,45.1 M122.9,43.3 L124.6,45.6 M151.8,54.3 L152.4,52.7 L151.4,51.3 M159.3,54.0 L159.3,51.8 L158.2,49.9 M159.3,51.8 L161.7,51.0 M153.0,64.8 L154.9,65.6 L156.5,64.2 M154.9,65.6 L157.3,64.7 M98.6,23.6 L101.2,24.0 L103.6,22.7 M101.2,24.0 L102.7,22.2 M97.6,30.0 L99.1,31.0 L99.7,32.6 M99.2,42.8 L98.1,43.9 L96.7,43.2 M102.9,58.5 L107.2,60.8 M98.9,67.7 L100.5,69.1 L102.5,68.7 M100.5,69.1 L100.0,71.8 M94.3,54.2 L95.2,55.4 L96.8,55.6 L98.0,56.7 M94.9,14.4 L94.5,15.4 L94.9,16.4 L95.9,16.7 M109.2,31.9 L111.1,33.0 L110.9,35.1 M110.7,42.8 L109.5,43.2 L108.7,42.3 L108.9,41.1 M109.5,43.2 L108.6,46.1 M7.2,91.1 L6.0,92.5 L6.7,94.1 L6.1,95.8 M6.0,92.5 L6.3,94.6 M18.4,81.7 L18.7,82.9 L19.8,83.0 L20.8,82.4 M18.7,82.9 L16.8,85.0 M23.7,81.0 L25.5,79.1 L24.2,76.8 M25.5,79.1 L28.2,79.8 M39.4,85.2 L40.2,86.9 L42.0,87.7 M64.0,96.6 L64.7,99.2 L62.7,101.0 M71.3,96.2 L73.5,91.8 M73.5,91.8 L75.3,91.3 M80.9,104.3 L79.9,106.0 L78.0,105.9 M9.6,85.9 L10.4,85.0 L11.6,84.8 L12.3,83.8 M10.4,85.0 L10.3,81.9 M17.5,82.7 L21.3,81.3 M21.3,81.3 L22.3,78.9 M22.6,86.0 L22.7,84.2 L21.7,82.6 L20.0,83.1 M22.7,84.2 L20.7,83.3 M28.9,86.3 L30.9,84.9 L30.4,82.5 M55.9,116.4 L57.9,116.8 L59.5,118.2 M57.9,116.8 L59.0,115.0 M58.2,104.0 L57.4,100.6 M57.4,100.6 L55.0,99.6 M62.0,97.1 L61.3,95.6 L62.0,94.1 M67.6,86.1 L71.6,87.7 M71.3,79.3 L75.4,81.3 M24.1,78.2 L25.5,73.9 M25.5,73.9 L27.8,73.9 M46.5,83.9 L47.3,81.9 L46.8,79.8 M47.3,81.9 L49.8,81.5 M53.3,87.9 L52.9,90.3 L55.0,91.7 M52.9,90.3 L54.7,91.2 M59.1,88.0 L60.0,86.5 L59.4,84.8 M11.8,98.3 L13.1,95.9 L15.7,95.2 M24.8,99.5 L26.1,98.6 L26.4,97.1 M26.1,98.6 L26.5,96.7 M42.6,102.0 L43.1,103.2 L44.4,103.5 L45.6,102.8 M43.1,103.2 L42.1,106.0 M50.4,102.7 L51.1,103.6 L52.3,103.7 L53.1,102.9 M51.1,103.6 L50.5,106.3 M8.8,109.3 L10.0,107.7 L11.9,107.1 M10.0,107.7 L9.8,105.4 M22.2,111.6 L22.7,110.2 L21.5,109.4 L20.4,110.3 M22.7,110.2 L21.0,109.3 M26.4,115.6 L28.0,114.3 L30.1,114.0 M33.3,141.0 L32.0,140.2 L31.9,138.6 M32.0,140.2 L29.9,140.6 M26.5,151.3 L26.9,152.9 L26.3,154.3 M18.2,166.7 L18.3,168.3 L19.5,169.4 L21.1,169.3 M11.2,174.3 L11.6,175.8 L10.3,176.7 L10.4,178.2 M11.6,175.8 L13.7,176.5 M7.4,180.3 L6.2,180.7 L5.0,180.1 L3.7,180.4 M6.2,180.7 L4.5,179.5 M52.3,133.7 L54.9,137.2 M65.0,129.3 L68.4,130.3 M68.4,130.3 L68.9,133.2 M73.6,118.7 L74.3,116.3 L73.3,114.0 M75.5,98.5 L77.4,100.1 L79.8,99.1 M82.9,87.7 L82.5,86.8 L82.6,85.8 L83.5,85.3 M82.5,86.8 L80.2,87.1 M58.6,106.4 L60.3,106.9 L60.7,108.7 M60.3,106.9 L61.2,109.6 M77.6,88.5 L76.7,87.1 L75.0,87.0 M76.7,87.1 L77.9,85.5 M81.8,82.5 L80.3,81.3 L78.5,81.7 M80.3,81.3 L81.1,78.4 M86.3,76.0 L88.0,75.4 L89.7,76.0 M88.0,75.4 L88.7,73.3 M41.2,93.6 L43.0,95.3 L43.6,97.6 M43.0,95.3 L42.5,97.6 M43.6,100.8 L46.9,103.8 M46.9,103.8 L49.2,103.7 M44.5,106.5 L47.0,108.6 M47.0,108.6 L46.3,111.6 M49.6,114.3 L54.8,115.6 M54.8,115.6 L56.6,113.1 M87.0,114.5 L84.9,115.1 L83.5,116.8 M84.9,115.1 L84.1,117.2 M87.6,122.4 L91.9,122.8 M87.9,127.7 L91.2,129.6 M91.2,129.6 L91.2,131.9 M90.1,139.9 L92.5,140.6 L94.8,139.5 M92.5,140.6 L94.3,139.4 M23.4,125.6 L23.2,120.9 M23.2,120.9 L20.9,119.6 M98.8,84.5 L101.1,82.0 M101.1,82.0 L99.7,80.1 M103.6,89.0 L103.5,90.8 L102.2,91.9 L102.8,93.5 M103.5,90.8 L106.0,91.9 M108.2,85.9 L109.0,84.4 L110.7,84.7 L111.8,83.5 M109.0,84.4 L108.3,82.2 M114.6,84.6 L117.6,87.5 M117.6,87.5 L120.2,86.9 M120.8,83.1 L122.3,79.9 M132.4,78.9 L133.3,77.2 L135.1,76.5 M133.3,77.2 L135.9,76.9 M133.4,67.9 L130.3,69.8 M130.3,69.8 L128.0,68.0 M129.2,80.8 L125.1,80.9 M125.1,80.9 L124.7,83.1 M127.0,86.5 L128.2,88.7 L130.6,88.4 M128.2,88.7 L130.6,88.8 M122.9,97.5 L124.4,98.8 L126.4,98.1 M119.7,107.7 L121.0,108.1 L121.8,106.9 L121.8,105.5 M121.0,108.1 L123.0,105.9 M113.6,131.9 L114.9,132.7 L116.4,132.4 L117.8,132.8 M92.8,102.2 L92.4,100.4 L90.7,99.9 M98.7,97.3 L100.1,98.6 L102.0,98.3 M100.1,98.6 L102.9,97.8 M102.5,93.4 L105.6,93.5 M123.0,70.3 L125.8,71.3 M127.5,65.3 L129.7,66.7 L132.1,65.4 M134.4,60.6 L135.9,61.1 L136.7,59.8 L138.3,59.8 M93.6,110.5 L94.7,109.7 L94.5,108.4 L95.5,107.6 M109.6,115.2 L110.3,113.9 L110.0,112.4 L108.6,112.0 M118.8,123.0 L118.5,124.4 L117.0,124.6 L116.5,125.9 M127.5,127.9 L126.7,130.0 L125.0,131.3 M126.7,130.0 L128.1,131.5 M94.5,112.7 L95.9,111.3 L97.8,111.6 M98.2,117.0 L101.7,118.7 M101.7,118.7 L102.3,121.7 M128.0,131.3 L128.0,125.8 M132.2,129.0 L131.8,127.1 L130.1,126.0 M131.8,127.1 L133.0,125.2 M143.6,123.0 L143.0,121.6 L143.2,120.0 M143.0,121.6 L144.7,120.3 M160.8,118.3 L161.7,120.0 L163.5,120.2 M166.1,125.7 L167.5,130.2 M167.5,130.2 L165.5,131.6 M171.3,129.3 L173.4,128.4 L173.7,126.2 M178.2,131.3 L179.4,130.3 L180.8,130.8 M179.4,130.3 L179.0,127.8 M112.9,101.7 L113.5,102.6 L113.1,103.5 L112.1,103.6 M119.0,101.7 L119.2,99.1 L118.0,96.7 M119.2,99.1 L120.9,97.6 M194.7,89.4 L194.4,90.5 L195.5,91.2 L195.2,92.3 M184.6,97.6 L185.6,98.9 L185.6,100.5 M185.6,98.9 L188.3,98.1 M195.7,101.3 L196.5,100.0 L198.0,100.3 M213.7,103.5 L217.5,100.2 M217.5,100.2 L217.9,97.8 M221.5,107.2 L222.0,109.8 L224.3,111.1 M214.0,87.7 L214.2,90.0 L212.3,91.2 M214.2,90.0 L213.0,91.4 M174.4,105.6 L173.6,108.6 M173.6,108.6 L174.8,110.0 M179.5,109.4 L179.1,114.3 M179.1,114.3 L180.6,115.9 M186.6,118.5 L183.7,121.0 M183.7,121.0 L184.7,123.7 M194.5,128.3 L192.5,130.0 L190.4,128.5 M200.4,128.1 L202.0,128.2 L203.2,127.2 M202.0,128.2 L203.6,126.5 M203.8,134.2 L202.5,137.8 M202.5,137.8 L200.0,137.9 M214.6,154.8 L216.4,154.5 L217.3,156.0 M216.4,154.5 L217.1,152.7 M205.2,135.8 L203.2,137.0 L201.1,136.2 M15.7,152.3 L15.9,150.7 L14.8,149.5 M15.9,150.7 L18.6,150.4 M22.4,148.9 L23.2,147.6 L24.6,146.9 M23.2,147.6 L22.1,145.6 M32.0,141.8 L33.6,137.2 M33.6,137.2 L32.6,135.6 M49.5,134.5 L50.0,133.4 L51.0,132.9 L52.1,133.2 M50.0,133.4 L52.2,133.3 M63.5,137.6 L65.7,136.1 L66.5,133.5 M65.7,136.1 L67.5,137.4 M81.3,139.4 L82.5,138.2 L84.2,138.0 L85.5,136.8 M48.5,187.7 L49.8,188.8 L49.8,190.4 M54.4,183.1 L54.5,181.5 L55.9,180.7 M70.3,173.0 L70.5,171.2 L72.2,170.6 M70.5,171.2 L72.2,170.5 M75.3,169.6 L75.6,167.5 L74.1,166.0 M99.1,152.9 L102.7,153.7 M102.7,153.7 L103.1,155.7 M103.7,148.0 L106.3,147.2 L107.3,144.7 M106.3,147.2 L108.3,148.2 M116.3,139.4 L116.3,138.2 L115.5,137.3 L115.4,136.2 M116.3,138.2 L118.3,135.7 M122.5,135.3 L122.4,133.9 L121.2,133.3 L120.6,132.1 M122.4,133.9 L120.6,133.1 M16.6,193.9 L20.3,191.5 M8.6,171.3 L9.7,171.0 L10.7,171.4 L11.7,171.0 M9.7,171.0 L10.7,169.0 M96.7,148.6 L93.9,151.9 M93.9,151.9 L94.1,154.1 M104.7,158.4 L103.2,158.9 L102.1,157.7 M103.2,158.9 L101.3,157.9 M106.1,165.3 L108.0,165.8 L108.8,167.4 M108.0,165.8 L109.9,164.2 M106.5,171.1 L107.5,172.5 L109.1,172.2 M107.5,172.5 L110.0,172.3 M106.5,175.7 L105.7,176.6 L106.1,177.7 L105.1,178.5 M108.0,195.5 L109.4,196.4 L110.2,197.8 M109.4,196.4 L108.5,198.6 M114.0,152.1 L113.5,153.1 L112.6,153.6 L111.5,153.5 M113.5,153.1 L111.5,153.2 M121.3,155.0 L123.5,154.0 L125.4,155.4 M123.5,154.0 L123.5,152.1 M120.7,160.1 L120.3,161.3 L121.2,162.2 L120.6,163.3 M120.3,161.3 L118.2,161.1 M156.6,186.7 L157.4,188.9 L155.9,190.7 M162.3,193.7 L160.9,197.8 M160.9,197.8 L162.6,199.0 M114.7,138.3 L119.3,139.4 M136.0,138.3 L138.1,135.0 M143.0,202.4 L143.8,203.2 L143.8,204.2 L144.7,204.8 M143.8,203.2 L143.4,205.0 M137.3,214.2 L134.9,215.3 L132.6,214.0 M134.9,215.3 L133.0,214.1 M90.0,142.9 L92.5,143.0 L93.9,140.9 M87.9,151.5 L86.9,153.0 L85.1,153.0 M24.6,197.4 L26.2,197.7 L27.4,198.7 L28.0,200.2 M35.4,200.2 L38.0,202.8 M38.0,202.8 L39.9,202.8 M44.6,215.3 L44.4,218.6 M44.4,218.6 L41.6,219.9 M52.9,217.7 L53.1,219.2 L54.4,220.1 M53.1,219.2 L50.3,220.4 M57.0,218.5 L56.7,220.0 L57.9,220.8 M56.7,220.0 L58.0,222.2 M69.0,217.1 L71.9,213.0 M82.8,220.6 L83.4,224.4 M96.1,215.3 L96.6,211.9 M96.6,211.9 L99.5,210.6 M100.3,215.2 L101.0,217.6 L99.6,219.7 M101.0,217.6 L103.9,218.0 M121.2,216.3 L122.1,217.3 L123.5,217.5 L124.0,218.8 M128.9,216.8 L129.1,214.6 L127.7,212.9 M129.1,214.6 L126.4,213.3 M146.1,219.1 L147.6,216.1 M147.6,216.1 L145.8,213.7 M152.6,220.3 L154.1,219.5 L154.7,218.1 M154.1,219.5 L154.3,217.5 M160.6,224.0 L162.4,225.3 L163.0,227.5 M178.9,224.1 L182.1,222.4 M182.1,222.4 L184.2,223.3 M207.7,238.3 L207.9,240.0 L209.1,241.2 M8.0,219.0 L9.6,219.3 L10.5,220.8 M9.6,219.3 L11.1,218.1 M13.3,224.6 L12.7,226.3 L10.9,226.8 M12.7,226.3 L10.4,226.6 M20.6,231.4 L22.5,230.0 L24.9,229.8 M24.6,238.0 L23.6,239.4 L22.1,240.1 M37.4,250.7 L37.1,252.2 L38.3,253.1 L38.5,254.6 M37.1,252.2 L39.0,253.1 M42.6,261.2 L43.8,261.5 L44.9,260.9 L46.1,261.3 M43.8,261.5 L44.4,264.1 M54.9,282.0 L56.0,281.0 L55.6,279.4 M56.0,281.0 L55.9,278.2 M60.8,299.7 L62.3,298.7 L64.0,299.1 M62.3,298.7 L62.5,296.2 M67.7,306.2 L69.9,306.9 L71.7,305.3 M7.5,237.5 L10.6,241.5 M10.6,241.5 L9.2,243.7 M33.7,232.5 L33.8,230.1 L31.6,228.9 M33.8,230.1 L31.9,228.3 M16.9,252.3 L16.7,253.6 L15.9,254.5 L14.7,254.1 M16.7,253.6 L14.1,255.0 M82.7,219.2 L82.8,221.4 L84.5,222.7 M82.8,221.4 L81.2,223.1 M105.1,202.8 L106.7,203.2 L108.2,202.8 L109.8,203.2 M106.7,203.2 L108.0,202.0 M100.5,207.5 L101.2,208.5 L100.9,209.7 L99.8,210.3 M104.1,218.7 L106.1,218.3 L107.1,220.1 M103.8,226.9 L103.0,227.5 L102.1,227.1 L101.7,226.2 M103.0,227.5 L101.3,227.0 M114.9,234.6 L116.1,235.6 L115.5,237.0 M108.7,241.5 L105.6,243.3 M105.6,243.3 L105.7,246.3 M112.1,246.3 L116.4,248.2 M116.4,248.2 L118.0,246.3 M109.3,259.0 L108.7,260.3 L109.5,261.5 L109.2,262.9 M108.4,268.5 L109.4,270.2 L108.9,272.1 M116.9,237.2 L115.7,238.5 L116.0,240.2 L117.2,241.6 M115.7,238.5 L113.3,238.6 M124.3,247.8 L124.0,249.1 L124.6,250.3 L123.7,251.3 M124.0,249.1 L126.3,250.5 M174.1,230.6 L174.7,232.9 L177.1,233.1 M174.7,232.9 L173.4,235.0 M166.2,239.4 L166.4,240.5 L167.4,240.8 L167.5,241.9 M166.4,240.5 L164.4,242.0 M155.4,250.9 L156.6,252.4 L156.2,254.2 M156.6,252.4 L156.5,254.2 M97.2,251.2 L99.3,249.6 L102.0,250.0 M99.3,249.6 L101.5,251.3 M178.7,202.2 L182.8,201.1 M182.8,201.1 L184.0,198.9 M181.3,204.2 L184.8,200.3 M194.3,225.7 L195.7,226.7 L197.5,226.8 M195.7,226.7 L195.2,229.2 M189.9,228.5 L192.9,230.4 M192.9,230.4 L193.6,232.3 M182.6,211.2 L186.6,212.2 M186.6,212.2 L188.5,210.1 M174.2,224.2 L175.0,226.3 L173.9,228.3 M175.0,226.3 L177.3,227.0 M201.0,220.3 L203.1,221.9 L205.8,221.6 M206.0,214.4 L205.5,213.5 L204.5,213.5 L203.8,212.6 M214.5,230.1 L214.1,227.9 L212.0,227.1 M9.5,256.4 L10.4,259.7 M10.4,259.7 L9.0,261.5 M13.0,260.7 L13.0,262.3 L14.1,263.5 L15.8,263.1 M25.9,268.7 L26.1,270.9 L24.5,272.3 M26.1,270.9 L24.4,272.2 M35.8,274.6 L37.9,274.0 L40.1,274.7 M40.1,282.1 L40.4,283.5 L39.8,284.7 L38.7,285.5 M51.1,290.4 L52.1,289.8 L52.9,290.6 L54.0,290.8 M52.1,289.8 L51.9,287.8 M65.3,296.0 L67.1,294.8 L69.0,295.9 M83.7,308.8 L84.5,311.4 L82.2,312.9 M84.5,311.4 L86.3,312.0 M88.2,311.7 L87.9,313.3 L89.0,314.5 L88.9,316.1 M87.9,313.3 L89.3,314.8 M51.7,297.8 L53.5,297.6 L55.1,298.3 M83.8,296.6 L84.8,297.7 L86.4,297.9 M88.8,291.6 L88.3,289.5 L90.1,288.4 M88.3,289.5 L90.9,287.8 M91.3,286.8 L89.2,283.4 M89.2,283.4 L86.8,282.9 M99.7,284.5 L100.3,282.1 L98.7,280.1 M90.4,267.0 L91.1,268.4 L92.7,268.6 M91.1,268.4 L93.4,268.6 M88.0,271.5 L90.4,272.7 L91.5,275.1 M90.4,272.7 L91.1,275.8 M85.5,278.8 L81.2,279.9 M81.2,279.9 L80.9,282.7 M84.4,293.4 L82.8,294.1 L81.5,292.9 L79.8,292.9 M82.8,294.1 L80.4,292.3 M98.7,273.7 L97.9,276.9 M97.9,276.9 L96.2,278.1 M103.3,275.3 L104.9,274.8 L105.7,273.4 M7.4,261.8 L6.0,263.1 L6.7,264.9 M6.0,263.1 L3.6,263.0 M7.2,267.1 L9.1,267.6 L10.7,266.7 M66.9,312.2 L68.3,314.3 L70.6,313.5 M64.1,317.4 L65.5,318.5 L65.2,320.1 M61.4,342.9 L62.3,343.7 L61.7,344.9 L60.5,344.9 M62.3,343.7 L64.9,343.2 M85.0,306.6 L84.6,303.0 M117.1,297.0 L117.1,299.3 L115.1,300.3 M117.1,299.3 L119.0,299.8 M125.7,301.2 L124.8,303.0 L123.1,304.1 M124.8,303.0 L126.4,305.6 M128.8,306.9 L128.1,309.4 L129.9,311.2 M128.1,309.4 L129.2,311.1 M139.9,310.7 L135.8,314.3 M148.2,333.7 L146.1,334.7 L146.5,336.9 M156.3,347.2 L158.4,348.2 L159.5,350.1 M158.4,348.2 L160.6,347.5 M156.6,354.4 L153.0,358.0 M153.0,358.0 L150.8,357.7 M158.8,364.3 L157.2,364.5 L156.7,366.0 L157.1,367.5 M157.2,364.5 L156.1,366.7 M90.4,306.0 L89.4,304.7 L87.8,305.1 M89.4,304.7 L91.6,302.4 M96.6,301.9 L99.6,305.7 M101.6,298.6 L101.5,297.0 L103.0,296.4 L103.2,294.8 M101.5,297.0 L99.8,296.6 M105.4,291.5 L103.7,289.8 L104.1,287.5 M133.1,287.8 L132.8,286.1 L133.5,284.4 M132.8,286.1 L129.8,285.0 M166.5,280.9 L166.8,279.9 L167.9,279.9 L168.6,280.7 M166.8,279.9 L166.0,278.0 M181.5,281.8 L183.9,285.7 M202.2,284.7 L203.6,285.7 L204.2,287.4 L203.3,288.8 M203.6,285.7 L205.1,284.6 M125.1,285.9 L127.1,287.4 L129.6,286.8 M127.1,287.4 L126.4,289.7 M128.5,281.3 L129.9,281.1 L130.5,282.4 L129.9,283.6 M129.9,281.1 L131.0,278.5 M145.2,269.8 L146.3,273.9 M146.3,273.9 L148.9,274.3 M164.0,272.7 L167.6,269.6 M167.6,269.6 L169.2,270.7 M169.3,274.5 L169.9,273.1 L171.3,273.2 L172.0,271.9 M116.1,315.8 L116.4,316.9 L115.7,317.8 L115.8,318.9 M116.4,316.9 L119.5,317.1 M121.6,312.4 L121.9,310.4 L121.2,308.5 M121.9,310.4 L124.7,310.0 M142.8,313.3 L143.9,314.3 L145.4,314.4 L145.8,315.8 M143.9,314.3 L143.8,316.1 M148.3,309.0 L152.7,307.6 M152.7,307.6 L153.8,305.8 M158.4,312.3 L160.0,314.4 L162.7,314.6 M171.8,312.6 L172.5,313.5 L173.6,313.2 L173.9,312.0 M172.5,313.5 L171.3,315.0 M192.9,308.1 L193.9,307.0 L193.3,305.6 M207.8,307.7 L208.1,306.5 L209.2,305.9 L210.4,306.3 M208.1,306.5 L206.3,304.8 M218.7,312.3 L219.9,311.0 L221.5,311.6 M102.3,313.8 L103.7,315.7 L106.0,315.5 M103.7,315.7 L106.6,314.8 M115.8,287.8 L116.5,288.5 L116.6,289.5 L116.0,290.2 M163.4,304.1 L166.5,306.1 M170.0,299.5 L171.8,299.5 L173.1,298.3 M171.8,299.5 L173.0,302.2 M179.4,287.3 L177.8,288.0 L177.1,289.5 L175.4,289.5 M180.5,300.1 L182.9,301.3 L184.3,303.6 M196.4,306.9 L194.7,304.3 M194.7,304.3 L191.8,304.7 M200.9,302.4 L199.7,300.2 L201.4,298.3 M199.7,300.2 L201.8,298.1 M8.9,309.6 L10.4,308.9 L11.9,309.7 M10.4,308.9 L12.4,310.9 M21.7,328.5 L22.8,327.7 L24.1,327.6 L24.6,326.4 M27.5,335.3 L31.1,332.3 M31.1,332.3 L33.3,334.1 M32.9,340.6 L31.2,342.4 L28.7,341.9 M31.2,342.4 L28.4,341.9 M41.5,349.2 L45.5,347.9 M49.6,358.6 L48.2,360.3 L49.2,362.3 M57.9,367.3 L60.0,365.7 L60.9,363.3 M60.0,365.7 L60.0,362.8 M61.8,371.2 L63.5,370.9 L65.2,371.5 M68.8,382.2 L68.2,383.6 L66.9,384.5 M68.2,383.6 L70.3,385.2 M28.9,344.8 L30.7,345.0 L31.8,343.5 M30.7,345.0 L31.9,347.5 M13.5,369.1 L13.2,363.9 M13.2,363.9 L14.7,362.1 M20.7,365.0 L20.9,363.0 L22.6,361.8 M20.9,363.0 L18.1,361.4 M38.1,361.1 L39.4,361.9 L39.9,363.4 L39.5,365.0 M41.4,353.4 L40.3,351.2 L41.1,349.0 M40.3,351.2 L37.3,351.5 M39.3,373.2 L36.8,372.6 L34.5,373.6 M36.8,372.6 L35.8,374.6 M36.7,384.9 L34.8,385.2 L33.6,383.7 M34.8,385.2 L33.3,387.7 M67.2,330.7 L68.9,329.2 L71.2,329.0 M68.9,329.2 L71.3,330.6 M67.9,337.1 L67.1,339.7 L64.8,341.2 M67.1,339.7 L64.6,339.7 M74.9,341.5 L76.2,342.4 L77.5,341.6 M76.5,349.6 L74.9,354.4 M74.9,354.4 L72.0,355.4 M77.5,357.8 L73.7,361.5 M73.7,361.5 L71.6,360.6 M59.5,359.7 L61.2,361.7 L59.8,363.9 M81.7,357.1 L80.4,355.8 L80.5,353.9 M84.3,351.6 L86.3,350.8 L86.7,348.7 M87.1,345.5 L89.7,346.3 L92.1,345.3 M80.8,359.4 L81.0,360.9 L82.0,362.1 M85.7,318.7 L86.1,321.1 L84.9,323.1 M86.1,321.1 L84.8,322.5 M59.5,352.9 L61.0,354.4 L62.8,353.4 M61.0,354.4 L59.4,356.7 M62.9,359.3 L64.5,361.0 L66.7,360.2 M64.5,361.0 L66.8,359.4 M77.7,381.3 L77.9,378.2 M84.7,378.5 L85.6,376.7 L84.5,375.1 M85.6,376.7 L84.4,374.1 M40.8,340.5 L42.2,338.5 L41.1,336.3 M42.2,338.5 L40.3,336.2 M48.1,341.2 L49.5,343.5 L48.0,345.7 M115.8,343.8 L115.4,346.3 L113.0,346.5 M115.4,346.3 L113.1,346.7 M120.4,347.4 L121.9,346.9 L122.9,348.1 M121.9,346.9 L122.4,345.2 M144.9,365.7 L146.4,364.9 L146.8,363.2 M146.4,364.9 L148.1,366.0 M155.4,367.7 L158.4,363.8 M158.4,363.8 L160.9,363.4 M161.3,378.0 L161.5,382.3 M161.5,382.3 L159.7,384.2 M166.0,382.1 L166.0,383.6 L165.1,384.9 M166.0,383.6 L164.0,386.0 M109.4,326.3 L110.5,327.6 L110.6,329.3 L111.5,330.7 M132.8,337.5 L133.9,338.6 L135.5,338.6 L136.2,339.9 M134.8,331.9 L134.2,330.0 L135.1,328.3 M134.2,330.0 L131.7,329.0 M152.5,368.3 L151.4,363.2 M165.3,364.1 L165.8,361.9 L167.5,360.5 M165.8,361.9 L168.1,361.3 M172.7,364.3 L174.2,367.1 M174.2,367.1 L176.3,367.2 M182.5,357.9 L183.6,355.8 L182.9,353.5 M94.0,364.7 L92.1,363.8 L92.0,361.8 M92.1,363.8 L90.7,365.7 M89.6,369.9 L89.5,371.0 L88.5,371.5 L87.5,371.0 M89.5,371.0 L87.7,372.5 M81.9,372.2 L79.2,368.7 M127.7,356.4 L125.4,356.5 L123.4,357.7 M125.4,356.5 L124.7,359.4 M127.0,380.7 L129.0,381.1 L130.2,379.4 M129.0,381.1 L130.7,379.8 M150.0,371.3 L152.1,371.5 L153.7,372.9 M152.1,371.5 L152.7,369.5 M95.6,379.9 L95.1,378.8 L95.5,377.7 L96.6,377.1 M95.1,378.8 L92.6,377.8 M109.2,371.4 L107.9,370.3 L108.2,368.7 L109.6,367.9 M107.9,370.3 L105.7,370.6 M146.8,357.4 L149.2,354.8 M149.2,354.8 L149.1,352.6 M97.0,330.7 L99.2,330.2 L100.8,331.7 M64.0,131.4 L65.1,130.6 L66.2,131.5 L67.4,131.0 M65.1,130.6 L65.4,128.5 M71.3,147.2 L72.9,149.3 L75.6,150.1 M72.9,149.3 L75.8,148.2 M78.8,148.2 L79.3,146.7 L78.0,145.7 L77.9,144.1 M79.3,146.7 L78.2,145.0 M88.9,144.1 L91.4,144.9 L92.1,147.4 M70.1,152.0 L68.7,152.2 L68.0,153.6 M88.3,133.7 L90.7,134.2 L91.1,136.7 M88.5,138.5 L89.3,137.7 L89.4,136.6 L88.4,136.2 M89.3,137.7 L91.6,138.1 M98.7,148.6 L98.0,149.7 L98.9,150.8 L100.2,150.4 M40.5,145.4 L41.1,146.8 L40.7,148.3 L41.7,149.4 M42.9,143.4 L44.4,144.8 L43.4,146.7 M49.2,144.0 L51.6,148.2 M51.6,148.2 L50.2,149.6 M36.3,160.2 L36.1,161.8 L34.5,162.2 M36.1,161.8 L34.0,162.3 M29.6,163.5 L28.1,161.4 L28.8,158.9 M56.8,152.5 L57.9,156.0 M57.9,156.0 L60.2,156.0 M84.9,167.2 L87.0,168.2 L89.3,167.6 M87.0,168.2 L87.5,170.1 M19.1,148.1 L18.3,146.8 L19.1,145.6 L19.2,144.1 M29.2,147.2 L30.8,149.2 L33.4,149.1 M85.6,91.0 L85.0,87.0 M85.0,87.0 L86.7,85.2 M91.8,81.9 L90.6,79.6 L88.0,79.2 M96.0,75.2 L97.2,75.0 L97.9,76.0 L98.0,77.2 M97.2,75.0 L97.5,72.7 M74.4,83.2 L74.6,84.9 L76.3,85.3 M74.6,84.9 L73.1,86.2 M104.4,62.9 L104.0,57.7 M101.6,60.7 L101.7,58.6 L102.9,56.8 M101.7,58.6 L100.1,56.6 M109.4,57.5 L110.4,56.2 L112.0,55.7 M110.4,56.2 L112.9,57.2 M104.4,67.3 L105.9,68.5 L106.0,70.4 M105.9,68.5 L107.5,67.2 M105.6,64.4 L106.3,65.4 L105.9,66.5 L106.3,67.6 M106.3,65.4 L108.3,64.4 M128.3,68.8 L130.2,68.7 L131.5,67.2 M103.3,77.3 L103.1,78.8 L104.3,79.8 M143.0,72.3 L144.2,73.4 L143.5,75.0 M76.4,90.9 L76.0,89.0 L77.2,87.6 M76.0,89.0 L77.6,87.0 M60.1,65.9 L58.4,65.7 L57.7,67.3 M43.0,144.6 L45.1,147.8 M47.6,142.3 L46.7,140.4 L44.6,140.6 M46.7,140.4 L44.7,139.7 M51.9,139.8 L53.2,140.6 L53.9,141.9 L53.1,143.1 M64.1,132.5 L64.6,130.3 L66.4,129.0 M64.6,130.3 L66.6,129.8 M78.3,124.8 L80.9,124.2 L83.3,125.4 M83.0,121.5 L84.2,123.0 L86.1,123.5 M84.2,123.0 L86.4,122.4 M85.7,115.8 L84.4,113.7 L82.1,114.4 M91.6,111.0 L88.2,106.8 M88.2,106.8 L85.7,106.6 M104.0,103.3 L104.5,97.9 M104.5,97.9 L107.4,97.2 M63.3,114.7 L65.5,116.2 L64.7,118.7 M65.5,116.2 L65.3,119.0 M72.5,141.9 L74.1,141.1 L74.1,139.2 L72.5,138.4 M82.3,146.5 L84.0,146.4 L85.0,145.0 M84.0,146.4 L85.2,148.5" stroke="#c03c96" stroke-width="1.15"/>
</g>
<rect x="6.5" y="12.5" width="253" height="374" fill="none" stroke="#8a8a8a" stroke-width="1"/>
<circle cx="74.9" cy="33.3" r="4.4" fill="#8b561f" stroke="#4a3826" stroke-width="0.7"/>
<circle cx="77.7" cy="26.9" r="5.5" fill="#8b561f" stroke="#4a3826" stroke-width="0.7"/>
<circle cx="89.1" cy="69.9" r="3.7" fill="#8b561f" stroke="#4a3826" stroke-width="0.7"/>
<circle cx="69.3" cy="372.1" r="3.7" fill="#8b561f" stroke="#4a3826" stroke-width="0.7"/>
<circle cx="143.8" cy="369.3" r="3.7" fill="#8b561f" stroke="#4a3826" stroke-width="0.7"/>
<line x1="206" y1="23.8" x2="244.4" y2="23.8" stroke="#1a1a1a" stroke-width="1.6"/>
<line x1="198.3" y1="347.1" x2="212.6" y2="347.1" stroke="#c03c96" stroke-width="1.2"/>
<text x="217.3" y="350.3" font-size="9" fill="#222" font-family="Liberation Sans, sans-serif">BAS</text>
<circle cx="205.2" cy="360.1" r="4.1" fill="#8b5a2b" stroke="#5e3c1c" stroke-width="0.6"/>
<text x="217.3" y="363.3" font-size="9" fill="#222" font-family="Liberation Sans, sans-serif">Spore</text>
<defs><linearGradient id="cb" x1="0" x2="1" y1="0" y2="0"><stop offset="0" stop-color="#f0e232"/><stop offset="0.08" stop-color="#f3d43a"/><stop offset="0.17" stop-color="#f4b544"/><stop offset="0.27" stop-color="#cdb65a"/><stop offset="0.36" stop-color="#a8bb68"/><stop offset="0.45" stop-color="#7cc080"/><stop offset="0.53" stop-color="#3eb8a2"/><stop offset="0.62" stop-color="#17aac6"/><stop offset="0.7" stop-color="#2190d2"/><stop offset="0.8" stop-color="#3672c4"/><stop offset="0.9" stop-color="#3c52ae"/><stop offset="1" stop-color="#372f8c"/></linearGradient></defs>
<rect x="7" y="390.5" width="245" height="15.5" fill="url(#cb)" stroke="#8a8a8a" stroke-width="0.8"/>
<line x1="89.5" y1="406" x2="89.5" y2="403" stroke="#333" stroke-width="0.8"/>
<line x1="171.2" y1="406" x2="171.2" y2="403" stroke="#333" stroke-width="0.8"/>
<text x="0" y="418.5" font-size="9.5" text-anchor="start" fill="#222" font-family="Liberation Sans, sans-serif">10<tspan font-size="6.5" dy="-4">0</tspan></text>
<text x="89.5" y="418.5" font-size="9.5" text-anchor="middle" fill="#222" font-family="Liberation Sans, sans-serif">10<tspan font-size="6.5" dy="-4">&#8722;1</tspan></text>
<text x="171.5" y="418.5" font-size="9.5" text-anchor="middle" fill="#222" font-family="Liberation Sans, sans-serif">10<tspan font-size="6.5" dy="-4">&#8722;2</tspan></text>
<text x="261" y="418.5" font-size="9.5" text-anchor="end" fill="#222" font-family="Liberation Sans, sans-serif">10<tspan font-size="6.5" dy="-4">&#8722;3</tspan></text>
<text x="129.5" y="431.5" font-size="9.5" text-anchor="middle" fill="#222" font-family="Liberation Sans, sans-serif">BC</text>
<polygon points="314.5,135 318.4,130.5 322.2,126 326.1,122.5 329.9,119 333.8,116.5 337.7,114 341.5,111.5 345.4,109 349.3,105.5 353.1,102 357,97 360.9,92 364.7,87.2 368.6,82.5 372.4,77.8 376.3,73 380.2,69.1 384,65.2 387.9,61.4 391.8,57.5 395.6,55.1 399.5,52.8 403.3,50.4 407.2,48 411.1,46.4 414.9,44.9 418.8,43.3 422.6,41.8 426.5,40.4 430.4,39.1 434.2,37.8 438.1,36.5 442,35.8 445.8,35 449.7,34.2 453.6,33.5 457.4,33 461.3,32.5 465.1,32 469,31.5 469,48.5 465.1,49.3 461.3,50.1 457.4,50.9 453.6,51.8 449.7,52.8 445.8,53.9 442,54.9 438.1,56 434.2,57.2 430.4,58.5 426.5,59.8 422.6,61 418.8,62.5 414.9,64 411.1,65.5 407.2,67 403.3,69.4 399.5,71.8 395.6,74.1 391.8,76.5 387.9,79.1 384,81.8 380.2,84.4 376.3,87 372.4,90.2 368.6,93.5 364.7,96.8 360.9,100 357,103 353.1,106 349.3,111.5 345.4,117 341.5,123 337.7,129 333.8,136.5 329.9,144 326.1,152 322.2,160 318.4,167 314.5,174" fill="#cdced1"/>
<circle cx="316" cy="146.9" r="1.05" fill="#82c77a"/>
<circle cx="322.7" cy="137.1" r="1.05" fill="#82c77a"/>
<circle cx="328.4" cy="132.3" r="1.05" fill="#82c77a"/>
<circle cx="333.8" cy="123.5" r="1.05" fill="#82c77a"/>
<circle cx="340.6" cy="116.4" r="1.05" fill="#82c77a"/>
<circle cx="347.4" cy="108.3" r="1.05" fill="#82c77a"/>
<circle cx="353.7" cy="98.1" r="1.05" fill="#82c77a"/>
<circle cx="360.8" cy="87.8" r="1.05" fill="#82c77a"/>
<circle cx="366.5" cy="79.4" r="1.05" fill="#82c77a"/>
<circle cx="372.6" cy="74.1" r="1.05" fill="#82c77a"/>
<circle cx="379.3" cy="63.5" r="1.05" fill="#82c77a"/>
<circle cx="384.8" cy="57.7" r="1.05" fill="#82c77a"/>
<circle cx="391.8" cy="52.1" r="1.05" fill="#82c77a"/>
<circle cx="398.1" cy="50.6" r="1.05" fill="#82c77a"/>
<circle cx="405.4" cy="46" r="1.05" fill="#82c77a"/>
<circle cx="412" cy="44.3" r="1.05" fill="#82c77a"/>
<circle cx="418.6" cy="40.6" r="1.05" fill="#82c77a"/>
<circle cx="425.2" cy="37.6" r="1.05" fill="#82c77a"/>
<circle cx="430.9" cy="36.8" r="1.05" fill="#82c77a"/>
<circle cx="437.9" cy="33.4" r="1.05" fill="#82c77a"/>
<circle cx="445" cy="31.3" r="1.05" fill="#82c77a"/>
<circle cx="451.7" cy="29.3" r="1.05" fill="#82c77a"/>
<circle cx="459.2" cy="28.1" r="1.05" fill="#82c77a"/>
<circle cx="464.7" cy="28.8" r="1.05" fill="#82c77a"/>
<circle cx="318.6" cy="139.4" r="1.05" fill="#d64b8f"/>
<circle cx="323.3" cy="135.5" r="1.05" fill="#d64b8f"/>
<circle cx="328.3" cy="128.2" r="1.05" fill="#d64b8f"/>
<circle cx="333.6" cy="122.4" r="1.05" fill="#d64b8f"/>
<circle cx="338.4" cy="117.8" r="1.05" fill="#d64b8f"/>
<circle cx="343.3" cy="112.4" r="1.05" fill="#d64b8f"/>
<circle cx="349" cy="107.4" r="1.05" fill="#d64b8f"/>
<circle cx="353.5" cy="99.5" r="1.05" fill="#d64b8f"/>
<circle cx="359.4" cy="94.5" r="1.05" fill="#d64b8f"/>
<circle cx="363.5" cy="89.3" r="1.05" fill="#d64b8f"/>
<circle cx="368.7" cy="83" r="1.05" fill="#d64b8f"/>
<circle cx="373.3" cy="77.4" r="1.05" fill="#d64b8f"/>
<circle cx="378.7" cy="71.6" r="1.05" fill="#d64b8f"/>
<circle cx="383.7" cy="66.3" r="1.05" fill="#d64b8f"/>
<circle cx="388.1" cy="63.9" r="1.05" fill="#d64b8f"/>
<circle cx="393.2" cy="57.1" r="1.05" fill="#d64b8f"/>
<circle cx="397.8" cy="55.7" r="1.05" fill="#d64b8f"/>
<circle cx="402.2" cy="52.9" r="1.05" fill="#d64b8f"/>
<circle cx="406.7" cy="50.3" r="1.05" fill="#d64b8f"/>
<circle cx="411" cy="48.2" r="1.05" fill="#d64b8f"/>
<circle cx="415.7" cy="46.9" r="1.05" fill="#d64b8f"/>
<circle cx="420.2" cy="43.1" r="1.05" fill="#d64b8f"/>
<circle cx="425" cy="43.3" r="1.05" fill="#d64b8f"/>
<circle cx="430.8" cy="41" r="1.05" fill="#d64b8f"/>
<circle cx="435.5" cy="38.6" r="1.05" fill="#d64b8f"/>
<circle cx="440.5" cy="37" r="1.05" fill="#d64b8f"/>
<circle cx="444.4" cy="36.7" r="1.05" fill="#d64b8f"/>
<circle cx="449.2" cy="34.5" r="1.05" fill="#d64b8f"/>
<circle cx="453.4" cy="35.7" r="1.05" fill="#d64b8f"/>
<circle cx="458.5" cy="33.1" r="1.05" fill="#d64b8f"/>
<circle cx="463.2" cy="32.9" r="1.05" fill="#d64b8f"/>
<circle cx="468.6" cy="31.1" r="1.05" fill="#d64b8f"/>
<circle cx="317.8" cy="131.6" r="1.05" fill="#8fd3e4"/>
<circle cx="322.7" cy="125.7" r="1.05" fill="#8fd3e4"/>
<circle cx="326.9" cy="128.7" r="1.05" fill="#8fd3e4"/>
<circle cx="330.7" cy="128.3" r="1.05" fill="#8fd3e4"/>
<circle cx="335.2" cy="124.6" r="1.05" fill="#8fd3e4"/>
<circle cx="340.7" cy="116" r="1.05" fill="#8fd3e4"/>
<circle cx="345.5" cy="110.9" r="1.05" fill="#8fd3e4"/>
<circle cx="349.7" cy="106" r="1.05" fill="#8fd3e4"/>
<circle cx="354.9" cy="99.5" r="1.05" fill="#8fd3e4"/>
<circle cx="359.7" cy="91.4" r="1.05" fill="#8fd3e4"/>
<circle cx="363.7" cy="89.5" r="1.05" fill="#8fd3e4"/>
<circle cx="368.5" cy="80.5" r="1.05" fill="#8fd3e4"/>
<circle cx="372.9" cy="75.4" r="1.05" fill="#8fd3e4"/>
<circle cx="378" cy="72.3" r="1.05" fill="#8fd3e4"/>
<circle cx="382.8" cy="67.3" r="1.05" fill="#8fd3e4"/>
<circle cx="386.4" cy="63.7" r="1.05" fill="#8fd3e4"/>
<circle cx="392" cy="61.6" r="1.05" fill="#8fd3e4"/>
<circle cx="397.2" cy="59.3" r="1.05" fill="#8fd3e4"/>
<circle cx="401.6" cy="55.8" r="1.05" fill="#8fd3e4"/>
<circle cx="406.9" cy="53.3" r="1.05" fill="#8fd3e4"/>
<circle cx="411.8" cy="49.3" r="1.05" fill="#8fd3e4"/>
<circle cx="416.4" cy="49.5" r="1.05" fill="#8fd3e4"/>
<circle cx="420.8" cy="46.9" r="1.05" fill="#8fd3e4"/>
<circle cx="425.2" cy="46.2" r="1.05" fill="#8fd3e4"/>
<circle cx="429.6" cy="42.8" r="1.05" fill="#8fd3e4"/>
<circle cx="434.3" cy="42.3" r="1.05" fill="#8fd3e4"/>
<circle cx="438.8" cy="38.8" r="1.05" fill="#8fd3e4"/>
<circle cx="443" cy="38.8" r="1.05" fill="#8fd3e4"/>
<circle cx="447.6" cy="39.3" r="1.05" fill="#8fd3e4"/>
<circle cx="452" cy="36.9" r="1.05" fill="#8fd3e4"/>
<circle cx="457" cy="35.5" r="1.05" fill="#8fd3e4"/>
<circle cx="461.8" cy="36.1" r="1.05" fill="#8fd3e4"/>
<circle cx="465.8" cy="34.5" r="1.05" fill="#8fd3e4"/>
<circle cx="316.7" cy="163.1" r="1.05" fill="#5070c8"/>
<circle cx="322.5" cy="147.9" r="1.05" fill="#5070c8"/>
<circle cx="327.6" cy="143" r="1.05" fill="#5070c8"/>
<circle cx="333.1" cy="130.9" r="1.05" fill="#5070c8"/>
<circle cx="339.2" cy="123.6" r="1.05" fill="#5070c8"/>
<circle cx="345.2" cy="115.6" r="1.05" fill="#5070c8"/>
<circle cx="351.1" cy="109.8" r="1.05" fill="#5070c8"/>
<circle cx="355.3" cy="101.7" r="1.05" fill="#5070c8"/>
<circle cx="360.1" cy="96.7" r="1.05" fill="#5070c8"/>
<circle cx="366.1" cy="90.7" r="1.05" fill="#5070c8"/>
<circle cx="371.6" cy="83.2" r="1.05" fill="#5070c8"/>
<circle cx="376.4" cy="78.8" r="1.05" fill="#5070c8"/>
<circle cx="382.1" cy="73.3" r="1.05" fill="#5070c8"/>
<circle cx="387.7" cy="69.7" r="1.05" fill="#5070c8"/>
<circle cx="392.5" cy="65.1" r="1.05" fill="#5070c8"/>
<circle cx="397.4" cy="62.4" r="1.05" fill="#5070c8"/>
<circle cx="402.1" cy="62.1" r="1.05" fill="#5070c8"/>
<circle cx="406.9" cy="57.4" r="1.05" fill="#5070c8"/>
<circle cx="412.2" cy="56.6" r="1.05" fill="#5070c8"/>
<circle cx="418.7" cy="52.9" r="1.05" fill="#5070c8"/>
<circle cx="423.1" cy="50.1" r="1.05" fill="#5070c8"/>
<circle cx="428.9" cy="48.4" r="1.05" fill="#5070c8"/>
<circle cx="435.1" cy="46" r="1.05" fill="#5070c8"/>
<circle cx="439.6" cy="44.5" r="1.05" fill="#5070c8"/>
<circle cx="445.2" cy="41.3" r="1.05" fill="#5070c8"/>
<circle cx="450.1" cy="40.3" r="1.05" fill="#5070c8"/>
<circle cx="456" cy="39.1" r="1.05" fill="#5070c8"/>
<circle cx="461.4" cy="37.9" r="1.05" fill="#5070c8"/>
<circle cx="467.4" cy="36.1" r="1.05" fill="#5070c8"/>
<circle cx="317.5" cy="167.4" r="1.05" fill="#9a55b3"/>
<circle cx="323.3" cy="156.3" r="1.05" fill="#9a55b3"/>
<circle cx="328.7" cy="146.3" r="1.05" fill="#9a55b3"/>
<circle cx="334.6" cy="135" r="1.05" fill="#9a55b3"/>
<circle cx="341.3" cy="122.4" r="1.05" fill="#9a55b3"/>
<circle cx="347" cy="114.5" r="1.05" fill="#9a55b3"/>
<circle cx="352.7" cy="106.9" r="1.05" fill="#9a55b3"/>
<circle cx="358.6" cy="98.9" r="1.05" fill="#9a55b3"/>
<circle cx="365.4" cy="93" r="1.05" fill="#9a55b3"/>
<circle cx="372" cy="84.2" r="1.05" fill="#9a55b3"/>
<circle cx="377.8" cy="77.8" r="1.05" fill="#9a55b3"/>
<circle cx="383.9" cy="71.7" r="1.05" fill="#9a55b3"/>
<circle cx="390.3" cy="68.4" r="1.05" fill="#9a55b3"/>
<circle cx="395.4" cy="66.5" r="1.05" fill="#9a55b3"/>
<circle cx="401.1" cy="63.2" r="1.05" fill="#9a55b3"/>
<circle cx="406.6" cy="61" r="1.05" fill="#9a55b3"/>
<circle cx="413.3" cy="57.3" r="1.05" fill="#9a55b3"/>
<circle cx="419" cy="55.7" r="1.05" fill="#9a55b3"/>
<circle cx="424.5" cy="52.6" r="1.05" fill="#9a55b3"/>
<circle cx="431.7" cy="52.5" r="1.05" fill="#9a55b3"/>
<circle cx="437.6" cy="48" r="1.05" fill="#9a55b3"/>
<circle cx="442.5" cy="47.4" r="1.05" fill="#9a55b3"/>
<circle cx="448.7" cy="45.2" r="1.05" fill="#9a55b3"/>
<circle cx="453.8" cy="44.3" r="1.05" fill="#9a55b3"/>
<circle cx="459.3" cy="42.3" r="1.05" fill="#9a55b3"/>
<circle cx="465.1" cy="40.9" r="1.05" fill="#9a55b3"/>
<circle cx="316.6" cy="157.5" r="1.05" fill="#f39b5a"/>
<circle cx="321.6" cy="147.7" r="1.05" fill="#f39b5a"/>
<circle cx="326.3" cy="145.8" r="1.05" fill="#f39b5a"/>
<circle cx="330.6" cy="138.8" r="1.05" fill="#f39b5a"/>
<circle cx="336.2" cy="126.6" r="1.05" fill="#f39b5a"/>
<circle cx="340.8" cy="119.8" r="1.05" fill="#f39b5a"/>
<circle cx="345.7" cy="117.1" r="1.05" fill="#f39b5a"/>
<circle cx="350.8" cy="107.8" r="1.05" fill="#f39b5a"/>
<circle cx="356.1" cy="104.4" r="1.05" fill="#f39b5a"/>
<circle cx="359.7" cy="100" r="1.05" fill="#f39b5a"/>
<circle cx="364.1" cy="97.4" r="1.05" fill="#f39b5a"/>
<circle cx="369.3" cy="90.6" r="1.05" fill="#f39b5a"/>
<circle cx="374.1" cy="89" r="1.05" fill="#f39b5a"/>
<circle cx="379.1" cy="82.6" r="1.05" fill="#f39b5a"/>
<circle cx="383.8" cy="80" r="1.05" fill="#f39b5a"/>
<circle cx="387.8" cy="75.4" r="1.05" fill="#f39b5a"/>
<circle cx="392.5" cy="71.6" r="1.05" fill="#f39b5a"/>
<circle cx="397.6" cy="69.4" r="1.05" fill="#f39b5a"/>
<circle cx="402.1" cy="64.5" r="1.05" fill="#f39b5a"/>
<circle cx="407" cy="60.7" r="1.05" fill="#f39b5a"/>
<circle cx="410.7" cy="60.6" r="1.05" fill="#f39b5a"/>
<circle cx="415.4" cy="60.6" r="1.05" fill="#f39b5a"/>
<circle cx="419" cy="57.5" r="1.05" fill="#f39b5a"/>
<circle cx="424.3" cy="57.4" r="1.05" fill="#f39b5a"/>
<circle cx="428.5" cy="53.8" r="1.05" fill="#f39b5a"/>
<circle cx="432.9" cy="53.8" r="1.05" fill="#f39b5a"/>
<circle cx="437.1" cy="52.5" r="1.05" fill="#f39b5a"/>
<circle cx="441.6" cy="51.2" r="1.05" fill="#f39b5a"/>
<circle cx="446.7" cy="50" r="1.05" fill="#f39b5a"/>
<circle cx="451.8" cy="49.4" r="1.05" fill="#f39b5a"/>
<circle cx="456.5" cy="46" r="1.05" fill="#f39b5a"/>
<circle cx="461" cy="47" r="1.05" fill="#f39b5a"/>
<circle cx="465.7" cy="46.4" r="1.05" fill="#f39b5a"/>
<circle cx="316.1" cy="155.1" r="1.05" fill="#f0d24c"/>
<circle cx="320.6" cy="148" r="1.05" fill="#f0d24c"/>
<circle cx="324.9" cy="143.5" r="1.05" fill="#f0d24c"/>
<circle cx="329.9" cy="139.3" r="1.05" fill="#f0d24c"/>
<circle cx="334.9" cy="128.3" r="1.05" fill="#f0d24c"/>
<circle cx="340.9" cy="122.1" r="1.05" fill="#f0d24c"/>
<circle cx="345.4" cy="114.2" r="1.05" fill="#f0d24c"/>
<circle cx="351.2" cy="108.8" r="1.05" fill="#f0d24c"/>
<circle cx="355.5" cy="107.1" r="1.05" fill="#f0d24c"/>
<circle cx="360.3" cy="101.9" r="1.05" fill="#f0d24c"/>
<circle cx="364.6" cy="101.8" r="1.05" fill="#f0d24c"/>
<circle cx="369.5" cy="93.2" r="1.05" fill="#f0d24c"/>
<circle cx="375.4" cy="92.7" r="1.05" fill="#f0d24c"/>
<circle cx="380.6" cy="87.7" r="1.05" fill="#f0d24c"/>
<circle cx="385.3" cy="81.4" r="1.05" fill="#f0d24c"/>
<circle cx="390.9" cy="77.3" r="1.05" fill="#f0d24c"/>
<circle cx="395.2" cy="72.8" r="1.05" fill="#f0d24c"/>
<circle cx="400.9" cy="69.9" r="1.05" fill="#f0d24c"/>
<circle cx="405.9" cy="68.1" r="1.05" fill="#f0d24c"/>
<circle cx="411.2" cy="64.8" r="1.05" fill="#f0d24c"/>
<circle cx="416.3" cy="62.5" r="1.05" fill="#f0d24c"/>
<circle cx="420.7" cy="61.8" r="1.05" fill="#f0d24c"/>
<circle cx="425.6" cy="61.3" r="1.05" fill="#f0d24c"/>
<circle cx="431.6" cy="56.9" r="1.05" fill="#f0d24c"/>
<circle cx="435.6" cy="56" r="1.05" fill="#f0d24c"/>
<circle cx="440.3" cy="54.6" r="1.05" fill="#f0d24c"/>
<circle cx="445.8" cy="54.2" r="1.05" fill="#f0d24c"/>
<circle cx="450.9" cy="51.6" r="1.05" fill="#f0d24c"/>
<circle cx="455.6" cy="52.2" r="1.05" fill="#f0d24c"/>
<circle cx="459.8" cy="51.6" r="1.05" fill="#f0d24c"/>
<circle cx="465" cy="50.4" r="1.05" fill="#f0d24c"/>
<circle cx="315.5" cy="145.8" r="1.05" fill="#82c77a"/>
<circle cx="322.3" cy="141" r="1.05" fill="#82c77a"/>
<circle cx="329.4" cy="132.3" r="1.05" fill="#82c77a"/>
<circle cx="336.3" cy="125.9" r="1.05" fill="#82c77a"/>
<circle cx="342.6" cy="122.7" r="1.05" fill="#82c77a"/>
<circle cx="350" cy="114.4" r="1.05" fill="#82c77a"/>
<circle cx="357.3" cy="107.5" r="1.05" fill="#82c77a"/>
<circle cx="362.8" cy="102.8" r="1.05" fill="#82c77a"/>
<circle cx="369.9" cy="95.7" r="1.05" fill="#82c77a"/>
<circle cx="376.6" cy="88.3" r="1.05" fill="#82c77a"/>
<circle cx="383" cy="85.2" r="1.05" fill="#82c77a"/>
<circle cx="390.7" cy="79.2" r="1.05" fill="#82c77a"/>
<circle cx="396.5" cy="76.8" r="1.05" fill="#82c77a"/>
<circle cx="403.3" cy="75" r="1.05" fill="#82c77a"/>
<circle cx="409.2" cy="70.6" r="1.05" fill="#82c77a"/>
<circle cx="415.2" cy="69.2" r="1.05" fill="#82c77a"/>
<circle cx="420.6" cy="65.9" r="1.05" fill="#82c77a"/>
<circle cx="427.7" cy="67" r="1.05" fill="#82c77a"/>
<circle cx="433.7" cy="65" r="1.05" fill="#82c77a"/>
<circle cx="440.7" cy="65.8" r="1.05" fill="#82c77a"/>
<circle cx="446.3" cy="62.3" r="1.05" fill="#82c77a"/>
<circle cx="452.5" cy="60.9" r="1.05" fill="#82c77a"/>
<circle cx="459.5" cy="61.6" r="1.05" fill="#82c77a"/>
<circle cx="466.1" cy="60.4" r="1.05" fill="#82c77a"/>
<circle cx="403.6" cy="73.6" r="1.05" fill="#e9654e"/>
<circle cx="410.4" cy="71.1" r="1.05" fill="#e9654e"/>
<circle cx="417.1" cy="69.7" r="1.05" fill="#e9654e"/>
<circle cx="423.3" cy="69.4" r="1.05" fill="#e9654e"/>
<circle cx="429" cy="66.9" r="1.05" fill="#e9654e"/>
<circle cx="436" cy="66.4" r="1.05" fill="#e9654e"/>
<circle cx="441.2" cy="65.3" r="1.05" fill="#e9654e"/>
<circle cx="446.5" cy="66.7" r="1.05" fill="#e9654e"/>
<circle cx="452" cy="65.5" r="1.05" fill="#e9654e"/>
<circle cx="459" cy="63" r="1.05" fill="#e9654e"/>
<circle cx="465.6" cy="64.7" r="1.05" fill="#e9654e"/>
<circle cx="314.7" cy="172.2" r="1.05" fill="#ea7fb3"/>
<circle cx="319" cy="158" r="1.05" fill="#ea7fb3"/>
<circle cx="322.9" cy="152.8" r="1.05" fill="#ea7fb3"/>
<circle cx="327.7" cy="148.1" r="1.05" fill="#ea7fb3"/>
<circle cx="331.6" cy="140.6" r="1.05" fill="#ea7fb3"/>
<circle cx="337" cy="127.6" r="1.05" fill="#ea7fb3"/>
<circle cx="341.3" cy="120.8" r="1.05" fill="#ea7fb3"/>
<circle cx="346.4" cy="110.6" r="1.05" fill="#ea7fb3"/>
<circle cx="350.5" cy="111.4" r="1.05" fill="#ea7fb3"/>
<circle cx="355.8" cy="104.8" r="1.05" fill="#ea7fb3"/>
<circle cx="359.9" cy="101.1" r="1.05" fill="#ea7fb3"/>
<polyline points="345,110 352,103 358,99 364,97 366,93 378,85 391.7,72 412.5,58 433,47.5 454,40.5 469,37" fill="none" stroke="#5a62b6" stroke-width="2.3" stroke-linejoin="round"/>
<polyline points="319.4,123 340,105 360.6,87.5 370.8,79.5 391.7,65 412.5,55.4 433.3,47.1 454.2,41.9 469,38.3" fill="none" stroke="#111" stroke-width="1.6" stroke-linejoin="round" stroke-dasharray="4.2,2.6"/>
<polyline points="319,147 405.5,23.5" fill="none" stroke="#111" stroke-width="1.4" stroke-linejoin="round" stroke-dasharray="3.5,1.4,1.2,1.4"/>
<rect x="314.5" y="23.5" width="155" height="153" fill="none" stroke="#8c8c8c" stroke-width="1"/>
<line x1="345.4" y1="176.5" x2="345.4" y2="173.5" stroke="#8c8c8c" stroke-width="1"/>
<line x1="376.3" y1="176.5" x2="376.3" y2="173.5" stroke="#8c8c8c" stroke-width="1"/>
<line x1="407.2" y1="176.5" x2="407.2" y2="173.5" stroke="#8c8c8c" stroke-width="1"/>
<line x1="438.1" y1="176.5" x2="438.1" y2="173.5" stroke="#8c8c8c" stroke-width="1"/>
<text transform="translate(314,186.8) scale(0.88,1)" font-size="10.4" text-anchor="middle" fill="#2b2b2b">&#8722;20</text>
<text transform="translate(345.4,186.8) scale(0.88,1)" font-size="10.4" text-anchor="middle" fill="#2b2b2b">0</text>
<text transform="translate(376.3,186.8) scale(0.88,1)" font-size="10.4" text-anchor="middle" fill="#2b2b2b">20</text>
<text transform="translate(407.2,186.8) scale(0.88,1)" font-size="10.4" text-anchor="middle" fill="#2b2b2b">40</text>
<text transform="translate(438.1,186.8) scale(0.88,1)" font-size="10.4" text-anchor="middle" fill="#2b2b2b">60</text>
<text transform="translate(469,186.8) scale(0.88,1)" font-size="10.4" text-anchor="middle" fill="#2b2b2b">80</text>
<line x1="314.5" y1="176.3" x2="317.5" y2="176.3" stroke="#8c8c8c" stroke-width="0.8"/>
<line x1="314.5" y1="156.3" x2="316.3" y2="156.3" stroke="#8c8c8c" stroke-width="0.8"/>
<line x1="314.5" y1="144.5" x2="316.3" y2="144.5" stroke="#8c8c8c" stroke-width="0.8"/>
<line x1="314.5" y1="136.2" x2="316.3" y2="136.2" stroke="#8c8c8c" stroke-width="0.8"/>
<line x1="314.5" y1="129.8" x2="316.3" y2="129.8" stroke="#8c8c8c" stroke-width="0.8"/>
<line x1="314.5" y1="124.5" x2="316.3" y2="124.5" stroke="#8c8c8c" stroke-width="0.8"/>
<line x1="314.5" y1="120.1" x2="316.3" y2="120.1" stroke="#8c8c8c" stroke-width="0.8"/>
<line x1="314.5" y1="116.2" x2="316.3" y2="116.2" stroke="#8c8c8c" stroke-width="0.8"/>
<line x1="314.5" y1="112.8" x2="316.3" y2="112.8" stroke="#8c8c8c" stroke-width="0.8"/>
<line x1="314.5" y1="109.8" x2="317.5" y2="109.8" stroke="#8c8c8c" stroke-width="0.8"/>
<line x1="314.5" y1="89.7" x2="316.3" y2="89.7" stroke="#8c8c8c" stroke-width="0.8"/>
<line x1="314.5" y1="78" x2="316.3" y2="78" stroke="#8c8c8c" stroke-width="0.8"/>
<line x1="314.5" y1="69.7" x2="316.3" y2="69.7" stroke="#8c8c8c" stroke-width="0.8"/>
<line x1="314.5" y1="63.2" x2="316.3" y2="63.2" stroke="#8c8c8c" stroke-width="0.8"/>
<line x1="314.5" y1="58" x2="316.3" y2="58" stroke="#8c8c8c" stroke-width="0.8"/>
<line x1="314.5" y1="53.5" x2="316.3" y2="53.5" stroke="#8c8c8c" stroke-width="0.8"/>
<line x1="314.5" y1="49.6" x2="316.3" y2="49.6" stroke="#8c8c8c" stroke-width="0.8"/>
<line x1="314.5" y1="46.2" x2="316.3" y2="46.2" stroke="#8c8c8c" stroke-width="0.8"/>
<line x1="314.5" y1="43.2" x2="317.5" y2="43.2" stroke="#8c8c8c" stroke-width="0.8"/>
<text transform="translate(311,179.9) scale(0.88,1)" font-size="10.4" text-anchor="end" fill="#2b2b2b">10<tspan font-size="7.2" dy="-3.9">1</tspan></text>
<text transform="translate(311,113.3) scale(0.88,1)" font-size="10.4" text-anchor="end" fill="#2b2b2b">10<tspan font-size="7.2" dy="-3.9">2</tspan></text>
<text transform="translate(311,46.8) scale(0.88,1)" font-size="10.4" text-anchor="end" fill="#2b2b2b">10<tspan font-size="7.2" dy="-3.9">3</tspan></text>
<text font-size="10.4" text-anchor="middle" fill="#2b2b2b" transform="translate(286,100) rotate(-90) scale(0.88,1)"><tspan font-style="italic">L</tspan><tspan font-size="8" dy="2.4">RH</tspan><tspan dy="-2.4"> (mm)</tspan></text>
<text transform="translate(392,202) scale(0.88,1)" font-size="10.4" text-anchor="middle" fill="#2b2b2b"><tspan font-style="italic">t</tspan> &#8211; <tspan font-style="italic">t</tspan>* (h)</text>
<polygon points="527.5,94.7 531.3,93 535.1,91.6 539,91.6 542.8,89.6 546.6,85.9 550.5,82.4 554.3,79 558.1,76.3 561.9,72.7 565.8,69.1 569.6,66.3 573.4,63.8 577.2,61.2 581,58.7 584.9,57 588.7,55.3 592.5,53.6 596.4,52 600.2,50.7 604,49.3 607.8,48 611.6,46.4 615.5,44.9 619.3,43.3 623.1,41.8 627,40.7 630.8,39.6 634.6,38.4 638.4,37.5 642.2,36.6 646.1,35.7 649.9,34.9 653.7,34.2 657.5,33.6 661.4,32.9 665.2,32.4 669,32 672.9,31.7 676.7,31.3 680.5,31 680.5,46.3 676.7,46.8 672.9,47.2 669,47.7 665.2,48.1 661.4,48.8 657.5,49.6 653.7,50.3 649.9,51.1 646.1,52.1 642.2,53.1 638.4,54.1 634.6,55 630.8,55.7 627,56.5 623.1,57.3 619.3,58.3 615.5,59.5 611.6,60.7 607.8,61.9 604,63.1 600.2,64.2 596.4,65.4 592.5,66.7 588.7,68.2 584.9,69.7 581,71.2 577.2,73.3 573.4,75.4 569.6,77.6 565.8,80 561.9,83.1 558.1,86.3 554.3,91.5 550.5,97.4 546.6,103.4 542.8,109.6 539,116.1 535.1,120.6 531.3,126 527.5,131.7" fill="#cdced1"/>
<circle cx="532.8" cy="93.6" r="1.05" fill="#82c77a"/>
<circle cx="542.2" cy="89.8" r="1.05" fill="#82c77a"/>
<circle cx="550" cy="78.5" r="1.05" fill="#82c77a"/>
<circle cx="557.2" cy="72.4" r="1.05" fill="#82c77a"/>
<circle cx="566.6" cy="62.7" r="1.05" fill="#82c77a"/>
<circle cx="574.3" cy="57.1" r="1.05" fill="#82c77a"/>
<circle cx="584.1" cy="50.6" r="1.05" fill="#82c77a"/>
<circle cx="592.1" cy="47.5" r="1.05" fill="#82c77a"/>
<circle cx="601.4" cy="43.4" r="1.05" fill="#82c77a"/>
<circle cx="611" cy="37.7" r="1.05" fill="#82c77a"/>
<circle cx="619.4" cy="35.4" r="1.05" fill="#82c77a"/>
<circle cx="628.4" cy="34" r="1.05" fill="#82c77a"/>
<circle cx="636.4" cy="31.4" r="1.05" fill="#82c77a"/>
<circle cx="643.6" cy="29.8" r="1.05" fill="#82c77a"/>
<circle cx="651.8" cy="29.4" r="1.05" fill="#82c77a"/>
<circle cx="659.1" cy="24.2" r="1.05" fill="#82c77a"/>
<circle cx="666.7" cy="24.4" r="1.05" fill="#82c77a"/>
<circle cx="674.4" cy="24" r="1.05" fill="#82c77a"/>
<circle cx="529.8" cy="101.2" r="1.05" fill="#8fd3e4"/>
<circle cx="533.4" cy="93.8" r="1.05" fill="#8fd3e4"/>
<circle cx="536.9" cy="92.3" r="1.05" fill="#8fd3e4"/>
<circle cx="540.4" cy="96.1" r="1.05" fill="#8fd3e4"/>
<circle cx="544" cy="91.5" r="1.05" fill="#8fd3e4"/>
<circle cx="547.9" cy="83.7" r="1.05" fill="#8fd3e4"/>
<circle cx="552.5" cy="80.9" r="1.05" fill="#8fd3e4"/>
<circle cx="557" cy="79.4" r="1.05" fill="#8fd3e4"/>
<circle cx="560.2" cy="74.7" r="1.05" fill="#8fd3e4"/>
<circle cx="564.4" cy="66.8" r="1.05" fill="#8fd3e4"/>
<circle cx="568.2" cy="67.8" r="1.05" fill="#8fd3e4"/>
<circle cx="572.7" cy="67.1" r="1.05" fill="#8fd3e4"/>
<circle cx="576.5" cy="60.5" r="1.05" fill="#8fd3e4"/>
<circle cx="580.9" cy="58.9" r="1.05" fill="#8fd3e4"/>
<circle cx="584.2" cy="56.4" r="1.05" fill="#8fd3e4"/>
<circle cx="587.7" cy="54.5" r="1.05" fill="#8fd3e4"/>
<circle cx="591.4" cy="52" r="1.05" fill="#8fd3e4"/>
<circle cx="594.9" cy="50.4" r="1.05" fill="#8fd3e4"/>
<circle cx="599.1" cy="50" r="1.05" fill="#8fd3e4"/>
<circle cx="602.8" cy="48.8" r="1.05" fill="#8fd3e4"/>
<circle cx="606.4" cy="47" r="1.05" fill="#8fd3e4"/>
<circle cx="610.7" cy="45.1" r="1.05" fill="#8fd3e4"/>
<circle cx="613.9" cy="42.7" r="1.05" fill="#8fd3e4"/>
<circle cx="617.8" cy="40.5" r="1.05" fill="#8fd3e4"/>
<circle cx="622.3" cy="39.1" r="1.05" fill="#8fd3e4"/>
<circle cx="626.5" cy="38.8" r="1.05" fill="#8fd3e4"/>
<circle cx="630.8" cy="38.7" r="1.05" fill="#8fd3e4"/>
<circle cx="634.2" cy="38.9" r="1.05" fill="#8fd3e4"/>
<circle cx="638.9" cy="37" r="1.05" fill="#8fd3e4"/>
<circle cx="643.3" cy="34.9" r="1.05" fill="#8fd3e4"/>
<circle cx="646.6" cy="33.8" r="1.05" fill="#8fd3e4"/>
<circle cx="651.1" cy="33.7" r="1.05" fill="#8fd3e4"/>
<circle cx="655.4" cy="33" r="1.05" fill="#8fd3e4"/>
<circle cx="659.3" cy="32.9" r="1.05" fill="#8fd3e4"/>
<circle cx="663.5" cy="30.7" r="1.05" fill="#8fd3e4"/>
<circle cx="668.1" cy="32" r="1.05" fill="#8fd3e4"/>
<circle cx="672.1" cy="32.6" r="1.05" fill="#8fd3e4"/>
<circle cx="675.5" cy="31.2" r="1.05" fill="#8fd3e4"/>
<circle cx="679.3" cy="30" r="1.05" fill="#8fd3e4"/>
<circle cx="529.8" cy="107.9" r="1.05" fill="#d64b8f"/>
<circle cx="534.1" cy="107.7" r="1.05" fill="#d64b8f"/>
<circle cx="537.4" cy="103.2" r="1.05" fill="#d64b8f"/>
<circle cx="541.4" cy="102.1" r="1.05" fill="#d64b8f"/>
<circle cx="546" cy="95.8" r="1.05" fill="#d64b8f"/>
<circle cx="549.2" cy="90" r="1.05" fill="#d64b8f"/>
<circle cx="553.3" cy="83.4" r="1.05" fill="#d64b8f"/>
<circle cx="557.7" cy="77.8" r="1.05" fill="#d64b8f"/>
<circle cx="561.6" cy="74.1" r="1.05" fill="#d64b8f"/>
<circle cx="565.5" cy="70" r="1.05" fill="#d64b8f"/>
<circle cx="568.9" cy="69.3" r="1.05" fill="#d64b8f"/>
<circle cx="572.6" cy="66.3" r="1.05" fill="#d64b8f"/>
<circle cx="576.5" cy="61.4" r="1.05" fill="#d64b8f"/>
<circle cx="580.4" cy="61.7" r="1.05" fill="#d64b8f"/>
<circle cx="584.1" cy="59.9" r="1.05" fill="#d64b8f"/>
<circle cx="587.9" cy="56.7" r="1.05" fill="#d64b8f"/>
<circle cx="592.6" cy="54.5" r="1.05" fill="#d64b8f"/>
<circle cx="596.1" cy="52" r="1.05" fill="#d64b8f"/>
<circle cx="600.7" cy="51.1" r="1.05" fill="#d64b8f"/>
<circle cx="605.6" cy="49.2" r="1.05" fill="#d64b8f"/>
<circle cx="609.2" cy="46.2" r="1.05" fill="#d64b8f"/>
<circle cx="613.2" cy="46.8" r="1.05" fill="#d64b8f"/>
<circle cx="617.5" cy="44.4" r="1.05" fill="#d64b8f"/>
<circle cx="620.6" cy="43.4" r="1.05" fill="#d64b8f"/>
<circle cx="625" cy="41.6" r="1.05" fill="#d64b8f"/>
<circle cx="629.3" cy="39.1" r="1.05" fill="#d64b8f"/>
<circle cx="633" cy="40.3" r="1.05" fill="#d64b8f"/>
<circle cx="637" cy="40" r="1.05" fill="#d64b8f"/>
<circle cx="641" cy="38.7" r="1.05" fill="#d64b8f"/>
<circle cx="645.1" cy="38.3" r="1.05" fill="#d64b8f"/>
<circle cx="648.4" cy="38" r="1.05" fill="#d64b8f"/>
<circle cx="652.5" cy="36.6" r="1.05" fill="#d64b8f"/>
<circle cx="656.8" cy="34.3" r="1.05" fill="#d64b8f"/>
<circle cx="660.4" cy="33.8" r="1.05" fill="#d64b8f"/>
<circle cx="664.3" cy="33.1" r="1.05" fill="#d64b8f"/>
<circle cx="669.1" cy="32.3" r="1.05" fill="#d64b8f"/>
<circle cx="672.7" cy="33.9" r="1.05" fill="#d64b8f"/>
<circle cx="676.9" cy="32.6" r="1.05" fill="#d64b8f"/>
<circle cx="532.4" cy="116.5" r="1.05" fill="#9a55b3"/>
<circle cx="538.6" cy="113.1" r="1.05" fill="#9a55b3"/>
<circle cx="544.3" cy="105.4" r="1.05" fill="#9a55b3"/>
<circle cx="550.2" cy="97.1" r="1.05" fill="#9a55b3"/>
<circle cx="555.9" cy="87.5" r="1.05" fill="#9a55b3"/>
<circle cx="560.8" cy="82.1" r="1.05" fill="#9a55b3"/>
<circle cx="566.8" cy="77.6" r="1.05" fill="#9a55b3"/>
<circle cx="573.3" cy="73.4" r="1.05" fill="#9a55b3"/>
<circle cx="579.1" cy="70.4" r="1.05" fill="#9a55b3"/>
<circle cx="586" cy="65.2" r="1.05" fill="#9a55b3"/>
<circle cx="592.8" cy="62.1" r="1.05" fill="#9a55b3"/>
<circle cx="599.2" cy="58.8" r="1.05" fill="#9a55b3"/>
<circle cx="605.6" cy="56.4" r="1.05" fill="#9a55b3"/>
<circle cx="611.5" cy="51.8" r="1.05" fill="#9a55b3"/>
<circle cx="617.8" cy="52.1" r="1.05" fill="#9a55b3"/>
<circle cx="624.6" cy="48.4" r="1.05" fill="#9a55b3"/>
<circle cx="630.2" cy="48" r="1.05" fill="#9a55b3"/>
<circle cx="636.8" cy="44.7" r="1.05" fill="#9a55b3"/>
<circle cx="642.4" cy="44.8" r="1.05" fill="#9a55b3"/>
<circle cx="648.9" cy="43" r="1.05" fill="#9a55b3"/>
<circle cx="654.3" cy="41.8" r="1.05" fill="#9a55b3"/>
<circle cx="659.9" cy="43.2" r="1.05" fill="#9a55b3"/>
<circle cx="666.4" cy="40.3" r="1.05" fill="#9a55b3"/>
<circle cx="673.6" cy="39.3" r="1.05" fill="#9a55b3"/>
<circle cx="679.3" cy="40.4" r="1.05" fill="#9a55b3"/>
<circle cx="528.1" cy="115.5" r="1.05" fill="#5070c8"/>
<circle cx="533.4" cy="115.1" r="1.05" fill="#5070c8"/>
<circle cx="538" cy="105.1" r="1.05" fill="#5070c8"/>
<circle cx="543.1" cy="100.4" r="1.05" fill="#5070c8"/>
<circle cx="547.4" cy="95.6" r="1.05" fill="#5070c8"/>
<circle cx="552.2" cy="86.1" r="1.05" fill="#5070c8"/>
<circle cx="556.6" cy="79.9" r="1.05" fill="#5070c8"/>
<circle cx="561.5" cy="72" r="1.05" fill="#5070c8"/>
<circle cx="566.7" cy="72.1" r="1.05" fill="#5070c8"/>
<circle cx="571.6" cy="72.5" r="1.05" fill="#5070c8"/>
<circle cx="576.6" cy="65.4" r="1.05" fill="#5070c8"/>
<circle cx="581.4" cy="66.6" r="1.05" fill="#5070c8"/>
<circle cx="585.9" cy="64.4" r="1.05" fill="#5070c8"/>
<circle cx="590" cy="63.9" r="1.05" fill="#5070c8"/>
<circle cx="594.2" cy="63" r="1.05" fill="#5070c8"/>
<circle cx="598.2" cy="61.9" r="1.05" fill="#5070c8"/>
<circle cx="602.1" cy="60.9" r="1.05" fill="#5070c8"/>
<circle cx="607.3" cy="59.4" r="1.05" fill="#5070c8"/>
<circle cx="612.2" cy="59.3" r="1.05" fill="#5070c8"/>
<circle cx="616.7" cy="57.5" r="1.05" fill="#5070c8"/>
<circle cx="621.7" cy="57.4" r="1.05" fill="#5070c8"/>
<circle cx="626.9" cy="55.5" r="1.05" fill="#5070c8"/>
<circle cx="630.5" cy="54.2" r="1.05" fill="#5070c8"/>
<circle cx="636" cy="53.3" r="1.05" fill="#5070c8"/>
<circle cx="640.7" cy="51.8" r="1.05" fill="#5070c8"/>
<circle cx="644.3" cy="51" r="1.05" fill="#5070c8"/>
<circle cx="649.4" cy="50.3" r="1.05" fill="#5070c8"/>
<circle cx="653.3" cy="50.9" r="1.05" fill="#5070c8"/>
<circle cx="657.9" cy="49.1" r="1.05" fill="#5070c8"/>
<circle cx="663" cy="49.4" r="1.05" fill="#5070c8"/>
<circle cx="668.1" cy="49.4" r="1.05" fill="#5070c8"/>
<circle cx="672.7" cy="48.5" r="1.05" fill="#5070c8"/>
<circle cx="677.1" cy="47.6" r="1.05" fill="#5070c8"/>
<circle cx="528.1" cy="103" r="1.05" fill="#f0d24c"/>
<circle cx="532.6" cy="102" r="1.05" fill="#f0d24c"/>
<circle cx="538.9" cy="103" r="1.05" fill="#f0d24c"/>
<circle cx="544.6" cy="95.7" r="1.05" fill="#f0d24c"/>
<circle cx="550.1" cy="89.3" r="1.05" fill="#f0d24c"/>
<circle cx="556.1" cy="86.7" r="1.05" fill="#f0d24c"/>
<circle cx="561.4" cy="81.5" r="1.05" fill="#f0d24c"/>
<circle cx="566.5" cy="77.5" r="1.05" fill="#f0d24c"/>
<circle cx="572.9" cy="74.7" r="1.05" fill="#f0d24c"/>
<circle cx="578.8" cy="71.5" r="1.05" fill="#f0d24c"/>
<circle cx="584.3" cy="71.1" r="1.05" fill="#f0d24c"/>
<circle cx="589.1" cy="69.3" r="1.05" fill="#f0d24c"/>
<circle cx="594.2" cy="67" r="1.05" fill="#f0d24c"/>
<circle cx="599.4" cy="66" r="1.05" fill="#f0d24c"/>
<circle cx="605" cy="63.7" r="1.05" fill="#f0d24c"/>
<circle cx="611" cy="62.2" r="1.05" fill="#f0d24c"/>
<circle cx="615.9" cy="60.9" r="1.05" fill="#f0d24c"/>
<circle cx="622.3" cy="59.8" r="1.05" fill="#f0d24c"/>
<circle cx="627.7" cy="58.1" r="1.05" fill="#f0d24c"/>
<circle cx="633" cy="55.5" r="1.05" fill="#f0d24c"/>
<circle cx="638.1" cy="56.6" r="1.05" fill="#f0d24c"/>
<circle cx="643.6" cy="55.2" r="1.05" fill="#f0d24c"/>
<circle cx="648.3" cy="53.3" r="1.05" fill="#f0d24c"/>
<circle cx="653.6" cy="53" r="1.05" fill="#f0d24c"/>
<circle cx="658.9" cy="52.3" r="1.05" fill="#f0d24c"/>
<circle cx="664.3" cy="51" r="1.05" fill="#f0d24c"/>
<circle cx="670.1" cy="50" r="1.05" fill="#f0d24c"/>
<circle cx="676" cy="49" r="1.05" fill="#f0d24c"/>
<circle cx="527.8" cy="128.7" r="1.05" fill="#f39b5a"/>
<circle cx="533" cy="118.4" r="1.05" fill="#f39b5a"/>
<circle cx="539.1" cy="118.8" r="1.05" fill="#f39b5a"/>
<circle cx="544.8" cy="110" r="1.05" fill="#f39b5a"/>
<circle cx="550.3" cy="101.8" r="1.05" fill="#f39b5a"/>
<circle cx="556.3" cy="88" r="1.05" fill="#f39b5a"/>
<circle cx="561.6" cy="84" r="1.05" fill="#f39b5a"/>
<circle cx="567.9" cy="80.6" r="1.05" fill="#f39b5a"/>
<circle cx="573.8" cy="74.6" r="1.05" fill="#f39b5a"/>
<circle cx="579.4" cy="72.4" r="1.05" fill="#f39b5a"/>
<circle cx="584.3" cy="72.1" r="1.05" fill="#f39b5a"/>
<circle cx="590.4" cy="67.4" r="1.05" fill="#f39b5a"/>
<circle cx="595.6" cy="65.2" r="1.05" fill="#f39b5a"/>
<circle cx="601.3" cy="62.8" r="1.05" fill="#f39b5a"/>
<circle cx="606.5" cy="60.1" r="1.05" fill="#f39b5a"/>
<circle cx="612.3" cy="57.6" r="1.05" fill="#f39b5a"/>
<circle cx="617.1" cy="58.7" r="1.05" fill="#f39b5a"/>
<circle cx="622.2" cy="58.4" r="1.05" fill="#f39b5a"/>
<circle cx="626.9" cy="56.6" r="1.05" fill="#f39b5a"/>
<circle cx="632.6" cy="55.4" r="1.05" fill="#f39b5a"/>
<circle cx="638.5" cy="56.1" r="1.05" fill="#f39b5a"/>
<circle cx="644.1" cy="56.1" r="1.05" fill="#f39b5a"/>
<circle cx="649.3" cy="56.7" r="1.05" fill="#f39b5a"/>
<circle cx="654.4" cy="55" r="1.05" fill="#f39b5a"/>
<circle cx="659.1" cy="55.3" r="1.05" fill="#f39b5a"/>
<circle cx="663.9" cy="53.9" r="1.05" fill="#f39b5a"/>
<circle cx="669" cy="55.9" r="1.05" fill="#f39b5a"/>
<circle cx="674.4" cy="56.6" r="1.05" fill="#f39b5a"/>
<circle cx="679.4" cy="55.6" r="1.05" fill="#f39b5a"/>
<circle cx="528.6" cy="132.8" r="1.05" fill="#82c77a"/>
<circle cx="536.7" cy="119.1" r="1.05" fill="#82c77a"/>
<circle cx="544.4" cy="115" r="1.05" fill="#82c77a"/>
<circle cx="552.7" cy="100.1" r="1.05" fill="#82c77a"/>
<circle cx="560.9" cy="89.5" r="1.05" fill="#82c77a"/>
<circle cx="567.9" cy="86.5" r="1.05" fill="#82c77a"/>
<circle cx="575.2" cy="80.8" r="1.05" fill="#82c77a"/>
<circle cx="582" cy="78.4" r="1.05" fill="#82c77a"/>
<circle cx="588.7" cy="74.4" r="1.05" fill="#82c77a"/>
<circle cx="596" cy="71.3" r="1.05" fill="#82c77a"/>
<circle cx="603.6" cy="69.1" r="1.05" fill="#82c77a"/>
<circle cx="611.3" cy="67" r="1.05" fill="#82c77a"/>
<circle cx="619.2" cy="66.7" r="1.05" fill="#82c77a"/>
<circle cx="627.6" cy="61.7" r="1.05" fill="#82c77a"/>
<circle cx="636.3" cy="61.5" r="1.05" fill="#82c77a"/>
<circle cx="645" cy="59.1" r="1.05" fill="#82c77a"/>
<circle cx="651.7" cy="57.8" r="1.05" fill="#82c77a"/>
<circle cx="660.1" cy="56.2" r="1.05" fill="#82c77a"/>
<circle cx="667.3" cy="54.7" r="1.05" fill="#82c77a"/>
<circle cx="675.7" cy="53.1" r="1.05" fill="#82c77a"/>
<circle cx="530.5" cy="118.9" r="1.05" fill="#ea7fb3"/>
<circle cx="535.1" cy="109" r="1.05" fill="#ea7fb3"/>
<circle cx="540.4" cy="106" r="1.05" fill="#ea7fb3"/>
<circle cx="545.4" cy="104.2" r="1.05" fill="#ea7fb3"/>
<circle cx="550.1" cy="95.5" r="1.05" fill="#ea7fb3"/>
<circle cx="555.3" cy="89.2" r="1.05" fill="#ea7fb3"/>
<circle cx="560.7" cy="80.7" r="1.05" fill="#ea7fb3"/>
<circle cx="565.3" cy="78.6" r="1.05" fill="#ea7fb3"/>
<circle cx="570.3" cy="73.7" r="1.05" fill="#ea7fb3"/>
<circle cx="575.2" cy="69.3" r="1.05" fill="#ea7fb3"/>
<circle cx="580.9" cy="66" r="1.05" fill="#ea7fb3"/>
<circle cx="585.7" cy="63.3" r="1.05" fill="#ea7fb3"/>
<circle cx="591.4" cy="60" r="1.05" fill="#ea7fb3"/>
<circle cx="596.4" cy="61.2" r="1.05" fill="#ea7fb3"/>
<circle cx="601.9" cy="55.9" r="1.05" fill="#ea7fb3"/>
<circle cx="607.3" cy="52.7" r="1.05" fill="#ea7fb3"/>
<circle cx="612.1" cy="50.3" r="1.05" fill="#ea7fb3"/>
<circle cx="616.8" cy="49.6" r="1.05" fill="#ea7fb3"/>
<circle cx="622" cy="48.2" r="1.05" fill="#ea7fb3"/>
<circle cx="627.6" cy="45.5" r="1.05" fill="#ea7fb3"/>
<circle cx="632.7" cy="42.3" r="1.05" fill="#ea7fb3"/>
<circle cx="638.5" cy="43.1" r="1.05" fill="#ea7fb3"/>
<circle cx="643.1" cy="41.4" r="1.05" fill="#ea7fb3"/>
<circle cx="648.8" cy="41.3" r="1.05" fill="#ea7fb3"/>
<circle cx="653.3" cy="39.9" r="1.05" fill="#ea7fb3"/>
<circle cx="657.5" cy="37.3" r="1.05" fill="#ea7fb3"/>
<circle cx="661.9" cy="38" r="1.05" fill="#ea7fb3"/>
<circle cx="667.7" cy="35.4" r="1.05" fill="#ea7fb3"/>
<circle cx="673.4" cy="34.2" r="1.05" fill="#ea7fb3"/>
<circle cx="678.9" cy="33.5" r="1.05" fill="#ea7fb3"/>
<polyline points="527.5,86.2 608.5,23.5" fill="none" stroke="#555" stroke-width="1.3" stroke-linejoin="round" stroke-dasharray="4,1.6,1.2,1.6"/>
<polyline points="540.3,125.6 553,113.5 566.7,103.3 580,94.5 594.4,86.7 608,80 622.2,74.2 636,69.5 650,65.8 672.2,60.3" fill="none" stroke="#555" stroke-width="1.3" stroke-linejoin="round" stroke-dasharray="4.6,3"/>
<polyline points="527.2,108.9 534.7,102.8 540.3,100.6 547.2,92.2 555.6,82.5 566.7,72.8 580.6,64.4 594.4,58 608.3,52.8 622.2,47.8 636.1,44.4 650,40.8 663.9,38 680.5,36" fill="none" stroke="#111" stroke-width="1.7" stroke-linejoin="round"/>
<rect x="527.5" y="23.5" width="153" height="114" fill="none" stroke="#8c8c8c" stroke-width="1"/>
<line x1="527.5" y1="137.4" x2="530.5" y2="137.4" stroke="#8c8c8c" stroke-width="0.8"/>
<line x1="527.5" y1="126" x2="529.3" y2="126" stroke="#8c8c8c" stroke-width="0.8"/>
<line x1="527.5" y1="119.3" x2="529.3" y2="119.3" stroke="#8c8c8c" stroke-width="0.8"/>
<line x1="527.5" y1="114.5" x2="529.3" y2="114.5" stroke="#8c8c8c" stroke-width="0.8"/>
<line x1="527.5" y1="110.9" x2="529.3" y2="110.9" stroke="#8c8c8c" stroke-width="0.8"/>
<line x1="527.5" y1="107.8" x2="529.3" y2="107.8" stroke="#8c8c8c" stroke-width="0.8"/>
<line x1="527.5" y1="105.3" x2="529.3" y2="105.3" stroke="#8c8c8c" stroke-width="0.8"/>
<line x1="527.5" y1="103.1" x2="529.3" y2="103.1" stroke="#8c8c8c" stroke-width="0.8"/>
<line x1="527.5" y1="101.1" x2="529.3" y2="101.1" stroke="#8c8c8c" stroke-width="0.8"/>
<line x1="527.5" y1="99.4" x2="530.5" y2="99.4" stroke="#8c8c8c" stroke-width="0.8"/>
<line x1="527.5" y1="87.9" x2="529.3" y2="87.9" stroke="#8c8c8c" stroke-width="0.8"/>
<line x1="527.5" y1="81.2" x2="529.3" y2="81.2" stroke="#8c8c8c" stroke-width="0.8"/>
<line x1="527.5" y1="76.5" x2="529.3" y2="76.5" stroke="#8c8c8c" stroke-width="0.8"/>
<line x1="527.5" y1="72.8" x2="529.3" y2="72.8" stroke="#8c8c8c" stroke-width="0.8"/>
<line x1="527.5" y1="69.8" x2="529.3" y2="69.8" stroke="#8c8c8c" stroke-width="0.8"/>
<line x1="527.5" y1="67.2" x2="529.3" y2="67.2" stroke="#8c8c8c" stroke-width="0.8"/>
<line x1="527.5" y1="65" x2="529.3" y2="65" stroke="#8c8c8c" stroke-width="0.8"/>
<line x1="527.5" y1="63.1" x2="529.3" y2="63.1" stroke="#8c8c8c" stroke-width="0.8"/>
<line x1="527.5" y1="61.3" x2="530.5" y2="61.3" stroke="#8c8c8c" stroke-width="0.8"/>
<line x1="527.5" y1="49.9" x2="529.3" y2="49.9" stroke="#8c8c8c" stroke-width="0.8"/>
<line x1="527.5" y1="43.2" x2="529.3" y2="43.2" stroke="#8c8c8c" stroke-width="0.8"/>
<line x1="527.5" y1="38.4" x2="529.3" y2="38.4" stroke="#8c8c8c" stroke-width="0.8"/>
<line x1="527.5" y1="34.8" x2="529.3" y2="34.8" stroke="#8c8c8c" stroke-width="0.8"/>
<line x1="527.5" y1="31.7" x2="529.3" y2="31.7" stroke="#8c8c8c" stroke-width="0.8"/>
<line x1="527.5" y1="29.2" x2="529.3" y2="29.2" stroke="#8c8c8c" stroke-width="0.8"/>
<line x1="527.5" y1="27" x2="529.3" y2="27" stroke="#8c8c8c" stroke-width="0.8"/>
<line x1="527.5" y1="25" x2="529.3" y2="25" stroke="#8c8c8c" stroke-width="0.8"/>
<line x1="527.5" y1="23.3" x2="530.5" y2="23.3" stroke="#8c8c8c" stroke-width="0.8"/>
<text transform="translate(523,103) scale(0.88,1)" font-size="10.4" text-anchor="end" fill="#2b2b2b">10<tspan font-size="7.2" dy="-3.9">1</tspan></text>
<text transform="translate(523,64.9) scale(0.88,1)" font-size="10.4" text-anchor="end" fill="#2b2b2b">10<tspan font-size="7.2" dy="-3.9">2</tspan></text>
<text transform="translate(523,26.9) scale(0.88,1)" font-size="10.4" text-anchor="end" fill="#2b2b2b">10<tspan font-size="7.2" dy="-3.9">3</tspan></text>
<text font-size="10.4" text-anchor="middle" fill="#2b2b2b" transform="translate(499,80) rotate(-90) scale(0.88,1)"><tspan font-style="italic">L</tspan><tspan font-size="7" dy="2.5">BAS</tspan><tspan dy="-2.5"> (mm)</tspan></text>
<polygon points="527.5,151.4 531.3,146.4 535.1,142.1 539,147 542.8,151.2 546.6,151.4 550.5,151.6 554.3,151.6 558.1,151.6 561.9,151.1 565.8,150.2 569.6,149.3 573.4,148.7 577.2,148.5 581,148.2 584.9,148 588.7,147.7 592.5,147.5 596.4,147.3 600.2,147.3 604,147.3 607.8,147.3 611.6,147.3 615.5,147.3 619.3,147.3 623.1,147.2 627,147 630.8,146.9 634.6,146.8 638.4,146.7 642.2,146.6 646.1,146.6 649.9,146.7 653.7,146.7 657.5,146.7 661.4,146.7 665.2,146.8 669,146.9 672.9,147.1 676.7,147.2 680.5,147.4 680.5,155.4 676.7,155.3 672.9,155.3 669,155.2 665.2,155.2 661.4,155.2 657.5,155.3 653.7,155.3 649.9,155.4 646.1,155.5 642.2,155.5 638.4,155.7 634.6,155.9 630.8,156.1 627,156.3 623.1,156.6 619.3,156.8 615.5,156.9 611.6,157 607.8,157.1 604,157.2 600.2,157.3 596.4,157.4 592.5,157.6 588.7,158 584.9,158.3 581,158.6 577.2,159 573.4,159.3 569.6,160 565.8,161 561.9,162 558.1,162.6 554.3,163.1 550.5,163.6 546.6,163.9 542.8,164.2 539,163 535.1,161.1 531.3,161.9 527.5,163.4" fill="#cdced1"/>
<circle cx="528.3" cy="143.3" r="1.05" fill="#8fd3e4"/>
<circle cx="531.5" cy="148.3" r="1.05" fill="#8fd3e4"/>
<circle cx="535.3" cy="150" r="1.05" fill="#8fd3e4"/>
<circle cx="539.1" cy="146.8" r="1.05" fill="#8fd3e4"/>
<circle cx="543.3" cy="150.1" r="1.05" fill="#8fd3e4"/>
<circle cx="547" cy="152.5" r="1.05" fill="#8fd3e4"/>
<circle cx="551.1" cy="151.3" r="1.05" fill="#8fd3e4"/>
<circle cx="554.8" cy="150.3" r="1.05" fill="#8fd3e4"/>
<circle cx="558.8" cy="146.6" r="1.05" fill="#8fd3e4"/>
<circle cx="562.2" cy="148" r="1.05" fill="#8fd3e4"/>
<circle cx="566.4" cy="153.7" r="1.05" fill="#8fd3e4"/>
<circle cx="570.3" cy="146.2" r="1.05" fill="#8fd3e4"/>
<circle cx="573.9" cy="147.8" r="1.05" fill="#8fd3e4"/>
<circle cx="576.9" cy="148.2" r="1.05" fill="#8fd3e4"/>
<circle cx="581.2" cy="147.6" r="1.05" fill="#8fd3e4"/>
<circle cx="585.6" cy="146.5" r="1.05" fill="#8fd3e4"/>
<circle cx="589.4" cy="146.5" r="1.05" fill="#8fd3e4"/>
<circle cx="592.6" cy="148.3" r="1.05" fill="#8fd3e4"/>
<circle cx="597.3" cy="147.3" r="1.05" fill="#8fd3e4"/>
<circle cx="600.7" cy="144.3" r="1.05" fill="#8fd3e4"/>
<circle cx="604.8" cy="146.8" r="1.05" fill="#8fd3e4"/>
<circle cx="609.5" cy="145.5" r="1.05" fill="#8fd3e4"/>
<circle cx="612.5" cy="144.5" r="1.05" fill="#8fd3e4"/>
<circle cx="616.1" cy="144" r="1.05" fill="#8fd3e4"/>
<circle cx="620.3" cy="146.6" r="1.05" fill="#8fd3e4"/>
<circle cx="623.9" cy="144.4" r="1.05" fill="#8fd3e4"/>
<circle cx="628" cy="145" r="1.05" fill="#8fd3e4"/>
<circle cx="632.3" cy="144.4" r="1.05" fill="#8fd3e4"/>
<circle cx="636.6" cy="143.8" r="1.05" fill="#8fd3e4"/>
<circle cx="641.1" cy="145.2" r="1.05" fill="#8fd3e4"/>
<circle cx="645.2" cy="144.4" r="1.05" fill="#8fd3e4"/>
<circle cx="649.8" cy="144.8" r="1.05" fill="#8fd3e4"/>
<circle cx="654" cy="141.8" r="1.05" fill="#8fd3e4"/>
<circle cx="658.5" cy="142.3" r="1.05" fill="#8fd3e4"/>
<circle cx="662.1" cy="145" r="1.05" fill="#8fd3e4"/>
<circle cx="666.4" cy="143.5" r="1.05" fill="#8fd3e4"/>
<circle cx="671" cy="144.2" r="1.05" fill="#8fd3e4"/>
<circle cx="674.5" cy="144.4" r="1.05" fill="#8fd3e4"/>
<circle cx="678.8" cy="144.6" r="1.05" fill="#8fd3e4"/>
<circle cx="530.1" cy="145.5" r="1.05" fill="#5070c8"/>
<circle cx="533.5" cy="148.4" r="1.05" fill="#5070c8"/>
<circle cx="537.8" cy="143.7" r="1.05" fill="#5070c8"/>
<circle cx="540.8" cy="145.8" r="1.05" fill="#5070c8"/>
<circle cx="544.5" cy="149.6" r="1.05" fill="#5070c8"/>
<circle cx="548.3" cy="149.3" r="1.05" fill="#5070c8"/>
<circle cx="552" cy="150.6" r="1.05" fill="#5070c8"/>
<circle cx="555.7" cy="153.8" r="1.05" fill="#5070c8"/>
<circle cx="558.9" cy="151.4" r="1.05" fill="#5070c8"/>
<circle cx="562.6" cy="149.3" r="1.05" fill="#5070c8"/>
<circle cx="566.8" cy="150" r="1.05" fill="#5070c8"/>
<circle cx="570.5" cy="151.4" r="1.05" fill="#5070c8"/>
<circle cx="573.9" cy="151.5" r="1.05" fill="#5070c8"/>
<circle cx="577.4" cy="148.7" r="1.05" fill="#5070c8"/>
<circle cx="580.3" cy="151.1" r="1.05" fill="#5070c8"/>
<circle cx="584.7" cy="151.3" r="1.05" fill="#5070c8"/>
<circle cx="588.6" cy="150.6" r="1.05" fill="#5070c8"/>
<circle cx="592.5" cy="148.8" r="1.05" fill="#5070c8"/>
<circle cx="596" cy="148.7" r="1.05" fill="#5070c8"/>
<circle cx="599.8" cy="147.7" r="1.05" fill="#5070c8"/>
<circle cx="603.8" cy="148" r="1.05" fill="#5070c8"/>
<circle cx="608.1" cy="149.6" r="1.05" fill="#5070c8"/>
<circle cx="611.1" cy="145.2" r="1.05" fill="#5070c8"/>
<circle cx="614.5" cy="148.3" r="1.05" fill="#5070c8"/>
<circle cx="618.7" cy="148" r="1.05" fill="#5070c8"/>
<circle cx="622.3" cy="148" r="1.05" fill="#5070c8"/>
<circle cx="625.8" cy="147.2" r="1.05" fill="#5070c8"/>
<circle cx="629.4" cy="147.2" r="1.05" fill="#5070c8"/>
<circle cx="633.2" cy="148.6" r="1.05" fill="#5070c8"/>
<circle cx="636.7" cy="146.1" r="1.05" fill="#5070c8"/>
<circle cx="641.3" cy="146.8" r="1.05" fill="#5070c8"/>
<circle cx="644.1" cy="146.5" r="1.05" fill="#5070c8"/>
<circle cx="648.7" cy="147.5" r="1.05" fill="#5070c8"/>
<circle cx="652.2" cy="146.8" r="1.05" fill="#5070c8"/>
<circle cx="656.6" cy="144.5" r="1.05" fill="#5070c8"/>
<circle cx="659.3" cy="146.3" r="1.05" fill="#5070c8"/>
<circle cx="663.3" cy="143.5" r="1.05" fill="#5070c8"/>
<circle cx="667.3" cy="147" r="1.05" fill="#5070c8"/>
<circle cx="670.3" cy="146.8" r="1.05" fill="#5070c8"/>
<circle cx="674" cy="146.3" r="1.05" fill="#5070c8"/>
<circle cx="677.8" cy="147" r="1.05" fill="#5070c8"/>
<circle cx="527.8" cy="163.9" r="1.05" fill="#d64b8f"/>
<circle cx="532.8" cy="158.2" r="1.05" fill="#d64b8f"/>
<circle cx="536.8" cy="157.4" r="1.05" fill="#d64b8f"/>
<circle cx="541.8" cy="159.9" r="1.05" fill="#d64b8f"/>
<circle cx="545.7" cy="156.1" r="1.05" fill="#d64b8f"/>
<circle cx="549.7" cy="160.9" r="1.05" fill="#d64b8f"/>
<circle cx="553" cy="159.4" r="1.05" fill="#d64b8f"/>
<circle cx="557" cy="156" r="1.05" fill="#d64b8f"/>
<circle cx="561.5" cy="153" r="1.05" fill="#d64b8f"/>
<circle cx="565.6" cy="153.5" r="1.05" fill="#d64b8f"/>
<circle cx="568.9" cy="150.4" r="1.05" fill="#d64b8f"/>
<circle cx="573.4" cy="151.1" r="1.05" fill="#d64b8f"/>
<circle cx="577.9" cy="152.4" r="1.05" fill="#d64b8f"/>
<circle cx="581.8" cy="148.9" r="1.05" fill="#d64b8f"/>
<circle cx="585.3" cy="150.2" r="1.05" fill="#d64b8f"/>
<circle cx="590.4" cy="150.5" r="1.05" fill="#d64b8f"/>
<circle cx="594.3" cy="148.2" r="1.05" fill="#d64b8f"/>
<circle cx="598.1" cy="151.3" r="1.05" fill="#d64b8f"/>
<circle cx="602" cy="150.8" r="1.05" fill="#d64b8f"/>
<circle cx="605.3" cy="148.6" r="1.05" fill="#d64b8f"/>
<circle cx="609.1" cy="147.4" r="1.05" fill="#d64b8f"/>
<circle cx="613" cy="147.9" r="1.05" fill="#d64b8f"/>
<circle cx="616.5" cy="148.4" r="1.05" fill="#d64b8f"/>
<circle cx="620.9" cy="148.3" r="1.05" fill="#d64b8f"/>
<circle cx="624.1" cy="149" r="1.05" fill="#d64b8f"/>
<circle cx="628.2" cy="148.3" r="1.05" fill="#d64b8f"/>
<circle cx="632" cy="146.7" r="1.05" fill="#d64b8f"/>
<circle cx="635.9" cy="145" r="1.05" fill="#d64b8f"/>
<circle cx="639.6" cy="145.4" r="1.05" fill="#d64b8f"/>
<circle cx="643.1" cy="147.9" r="1.05" fill="#d64b8f"/>
<circle cx="646.9" cy="147.8" r="1.05" fill="#d64b8f"/>
<circle cx="650.4" cy="145.9" r="1.05" fill="#d64b8f"/>
<circle cx="654.3" cy="146.8" r="1.05" fill="#d64b8f"/>
<circle cx="658.4" cy="147.6" r="1.05" fill="#d64b8f"/>
<circle cx="661.9" cy="146.8" r="1.05" fill="#d64b8f"/>
<circle cx="666" cy="146.9" r="1.05" fill="#d64b8f"/>
<circle cx="669.8" cy="146.6" r="1.05" fill="#d64b8f"/>
<circle cx="674.3" cy="145.2" r="1.05" fill="#d64b8f"/>
<circle cx="678.6" cy="147.3" r="1.05" fill="#d64b8f"/>
<circle cx="531.5" cy="161.4" r="1.05" fill="#9a55b3"/>
<circle cx="536.7" cy="161.4" r="1.05" fill="#9a55b3"/>
<circle cx="542.5" cy="163.6" r="1.05" fill="#9a55b3"/>
<circle cx="547.1" cy="163.2" r="1.05" fill="#9a55b3"/>
<circle cx="551.6" cy="166.7" r="1.05" fill="#9a55b3"/>
<circle cx="557.1" cy="164.5" r="1.05" fill="#9a55b3"/>
<circle cx="562.6" cy="160.9" r="1.05" fill="#9a55b3"/>
<circle cx="567.9" cy="161" r="1.05" fill="#9a55b3"/>
<circle cx="572.4" cy="156" r="1.05" fill="#9a55b3"/>
<circle cx="577.8" cy="157.1" r="1.05" fill="#9a55b3"/>
<circle cx="582.7" cy="157.4" r="1.05" fill="#9a55b3"/>
<circle cx="588.5" cy="157" r="1.05" fill="#9a55b3"/>
<circle cx="593.6" cy="156.7" r="1.05" fill="#9a55b3"/>
<circle cx="599.8" cy="153.9" r="1.05" fill="#9a55b3"/>
<circle cx="605.3" cy="155.5" r="1.05" fill="#9a55b3"/>
<circle cx="610.6" cy="154.5" r="1.05" fill="#9a55b3"/>
<circle cx="615" cy="152.9" r="1.05" fill="#9a55b3"/>
<circle cx="620.5" cy="154.6" r="1.05" fill="#9a55b3"/>
<circle cx="626.1" cy="151" r="1.05" fill="#9a55b3"/>
<circle cx="630.4" cy="156.1" r="1.05" fill="#9a55b3"/>
<circle cx="635.2" cy="152.4" r="1.05" fill="#9a55b3"/>
<circle cx="640.5" cy="152.5" r="1.05" fill="#9a55b3"/>
<circle cx="645.7" cy="152.8" r="1.05" fill="#9a55b3"/>
<circle cx="650" cy="154.9" r="1.05" fill="#9a55b3"/>
<circle cx="656.1" cy="152.5" r="1.05" fill="#9a55b3"/>
<circle cx="662" cy="153.1" r="1.05" fill="#9a55b3"/>
<circle cx="667" cy="152.8" r="1.05" fill="#9a55b3"/>
<circle cx="672.5" cy="150.7" r="1.05" fill="#9a55b3"/>
<circle cx="677.9" cy="152.7" r="1.05" fill="#9a55b3"/>
<circle cx="529.6" cy="147.8" r="1.05" fill="#f0d24c"/>
<circle cx="534.5" cy="150.8" r="1.05" fill="#f0d24c"/>
<circle cx="540.4" cy="151" r="1.05" fill="#f0d24c"/>
<circle cx="545.3" cy="155.4" r="1.05" fill="#f0d24c"/>
<circle cx="549.7" cy="158.4" r="1.05" fill="#f0d24c"/>
<circle cx="554.8" cy="160" r="1.05" fill="#f0d24c"/>
<circle cx="559.5" cy="156" r="1.05" fill="#f0d24c"/>
<circle cx="565.2" cy="157.5" r="1.05" fill="#f0d24c"/>
<circle cx="570.4" cy="156.9" r="1.05" fill="#f0d24c"/>
<circle cx="575.9" cy="155.3" r="1.05" fill="#f0d24c"/>
<circle cx="580.9" cy="156.8" r="1.05" fill="#f0d24c"/>
<circle cx="586.1" cy="157.5" r="1.05" fill="#f0d24c"/>
<circle cx="591.3" cy="154.8" r="1.05" fill="#f0d24c"/>
<circle cx="596.4" cy="158.3" r="1.05" fill="#f0d24c"/>
<circle cx="601.4" cy="157.4" r="1.05" fill="#f0d24c"/>
<circle cx="606.9" cy="156.4" r="1.05" fill="#f0d24c"/>
<circle cx="611.9" cy="156.2" r="1.05" fill="#f0d24c"/>
<circle cx="616.7" cy="156.9" r="1.05" fill="#f0d24c"/>
<circle cx="622" cy="157.1" r="1.05" fill="#f0d24c"/>
<circle cx="627.6" cy="159.5" r="1.05" fill="#f0d24c"/>
<circle cx="632.7" cy="155.5" r="1.05" fill="#f0d24c"/>
<circle cx="638.7" cy="154.6" r="1.05" fill="#f0d24c"/>
<circle cx="643.9" cy="155.8" r="1.05" fill="#f0d24c"/>
<circle cx="649.1" cy="153.9" r="1.05" fill="#f0d24c"/>
<circle cx="654.7" cy="157.5" r="1.05" fill="#f0d24c"/>
<circle cx="659.1" cy="157.6" r="1.05" fill="#f0d24c"/>
<circle cx="664.2" cy="157.3" r="1.05" fill="#f0d24c"/>
<circle cx="669.5" cy="155.7" r="1.05" fill="#f0d24c"/>
<circle cx="675.2" cy="155.3" r="1.05" fill="#f0d24c"/>
<circle cx="680.4" cy="157.2" r="1.05" fill="#f0d24c"/>
<circle cx="529.5" cy="163.6" r="1.05" fill="#82c77a"/>
<circle cx="536.7" cy="165.8" r="1.05" fill="#82c77a"/>
<circle cx="542.9" cy="167" r="1.05" fill="#82c77a"/>
<circle cx="548.7" cy="167.6" r="1.05" fill="#82c77a"/>
<circle cx="555" cy="166.6" r="1.05" fill="#82c77a"/>
<circle cx="562.5" cy="163" r="1.05" fill="#82c77a"/>
<circle cx="569.5" cy="158.4" r="1.05" fill="#82c77a"/>
<circle cx="574.8" cy="162.5" r="1.05" fill="#82c77a"/>
<circle cx="581.7" cy="162.4" r="1.05" fill="#82c77a"/>
<circle cx="588.5" cy="158.4" r="1.05" fill="#82c77a"/>
<circle cx="594.6" cy="158.3" r="1.05" fill="#82c77a"/>
<circle cx="600.8" cy="157.4" r="1.05" fill="#82c77a"/>
<circle cx="607.2" cy="157.6" r="1.05" fill="#82c77a"/>
<circle cx="612.5" cy="156.7" r="1.05" fill="#82c77a"/>
<circle cx="618.8" cy="155.5" r="1.05" fill="#82c77a"/>
<circle cx="626.1" cy="154" r="1.05" fill="#82c77a"/>
<circle cx="632.5" cy="153.8" r="1.05" fill="#82c77a"/>
<circle cx="639.1" cy="150.1" r="1.05" fill="#82c77a"/>
<circle cx="644.6" cy="150.7" r="1.05" fill="#82c77a"/>
<circle cx="650.9" cy="147.2" r="1.05" fill="#82c77a"/>
<circle cx="658.5" cy="147.9" r="1.05" fill="#82c77a"/>
<circle cx="665.5" cy="142.1" r="1.05" fill="#82c77a"/>
<circle cx="671.2" cy="143.2" r="1.05" fill="#82c77a"/>
<circle cx="676.9" cy="143.7" r="1.05" fill="#82c77a"/>
<circle cx="530.1" cy="160.2" r="1.05" fill="#f39b5a"/>
<circle cx="534.9" cy="155.8" r="1.05" fill="#f39b5a"/>
<circle cx="540.8" cy="160.4" r="1.05" fill="#f39b5a"/>
<circle cx="546.3" cy="161.9" r="1.05" fill="#f39b5a"/>
<circle cx="551.8" cy="164.2" r="1.05" fill="#f39b5a"/>
<circle cx="557.2" cy="166.7" r="1.05" fill="#f39b5a"/>
<circle cx="563.1" cy="166.2" r="1.05" fill="#f39b5a"/>
<circle cx="568.2" cy="162.4" r="1.05" fill="#f39b5a"/>
<circle cx="573.5" cy="162.2" r="1.05" fill="#f39b5a"/>
<circle cx="578.4" cy="161.7" r="1.05" fill="#f39b5a"/>
<circle cx="584.4" cy="160.9" r="1.05" fill="#f39b5a"/>
<circle cx="589.2" cy="160" r="1.05" fill="#f39b5a"/>
<circle cx="594.4" cy="159.6" r="1.05" fill="#f39b5a"/>
<circle cx="599.2" cy="160.6" r="1.05" fill="#f39b5a"/>
<circle cx="605.6" cy="159.1" r="1.05" fill="#f39b5a"/>
<circle cx="610.6" cy="161" r="1.05" fill="#f39b5a"/>
<circle cx="617.1" cy="161.1" r="1.05" fill="#f39b5a"/>
<circle cx="622.6" cy="159.4" r="1.05" fill="#f39b5a"/>
<circle cx="627.8" cy="160.4" r="1.05" fill="#f39b5a"/>
<circle cx="633.9" cy="158.9" r="1.05" fill="#f39b5a"/>
<circle cx="638.9" cy="161" r="1.05" fill="#f39b5a"/>
<circle cx="645" cy="159.4" r="1.05" fill="#f39b5a"/>
<circle cx="650.6" cy="160.1" r="1.05" fill="#f39b5a"/>
<circle cx="656.6" cy="161.1" r="1.05" fill="#f39b5a"/>
<circle cx="662.4" cy="160.8" r="1.05" fill="#f39b5a"/>
<circle cx="667.9" cy="161.5" r="1.05" fill="#f39b5a"/>
<circle cx="672.8" cy="161.9" r="1.05" fill="#f39b5a"/>
<circle cx="678" cy="162.1" r="1.05" fill="#f39b5a"/>
<circle cx="528.1" cy="158.9" r="1.05" fill="#ea7fb3"/>
<circle cx="532" cy="160.6" r="1.05" fill="#ea7fb3"/>
<circle cx="536.1" cy="158" r="1.05" fill="#ea7fb3"/>
<circle cx="540.6" cy="159.6" r="1.05" fill="#ea7fb3"/>
<circle cx="544.4" cy="163" r="1.05" fill="#ea7fb3"/>
<circle cx="549.2" cy="161.5" r="1.05" fill="#ea7fb3"/>
<circle cx="553.8" cy="160.5" r="1.05" fill="#ea7fb3"/>
<circle cx="558.7" cy="165.1" r="1.05" fill="#ea7fb3"/>
<circle cx="562.9" cy="160.2" r="1.05" fill="#ea7fb3"/>
<circle cx="566.9" cy="160.2" r="1.05" fill="#ea7fb3"/>
<circle cx="571.9" cy="160.6" r="1.05" fill="#ea7fb3"/>
<circle cx="576.3" cy="156.9" r="1.05" fill="#ea7fb3"/>
<circle cx="581" cy="158" r="1.05" fill="#ea7fb3"/>
<circle cx="585.8" cy="156.4" r="1.05" fill="#ea7fb3"/>
<circle cx="590.2" cy="154.9" r="1.05" fill="#ea7fb3"/>
<circle cx="594.6" cy="156.9" r="1.05" fill="#ea7fb3"/>
<circle cx="598.9" cy="156.4" r="1.05" fill="#ea7fb3"/>
<circle cx="603.6" cy="157.2" r="1.05" fill="#ea7fb3"/>
<circle cx="607.6" cy="153.7" r="1.05" fill="#ea7fb3"/>
<circle cx="611.6" cy="155.5" r="1.05" fill="#ea7fb3"/>
<circle cx="616" cy="155.4" r="1.05" fill="#ea7fb3"/>
<circle cx="620.4" cy="155.1" r="1.05" fill="#ea7fb3"/>
<circle cx="625.8" cy="155.1" r="1.05" fill="#ea7fb3"/>
<circle cx="629.6" cy="151.4" r="1.05" fill="#ea7fb3"/>
<circle cx="633.8" cy="152.2" r="1.05" fill="#ea7fb3"/>
<circle cx="638.2" cy="151.5" r="1.05" fill="#ea7fb3"/>
<circle cx="642.9" cy="152.8" r="1.05" fill="#ea7fb3"/>
<circle cx="647.6" cy="151.1" r="1.05" fill="#ea7fb3"/>
<circle cx="652.1" cy="151.7" r="1.05" fill="#ea7fb3"/>
<circle cx="655.5" cy="149.9" r="1.05" fill="#ea7fb3"/>
<circle cx="659.7" cy="151.2" r="1.05" fill="#ea7fb3"/>
<circle cx="663.8" cy="152.5" r="1.05" fill="#ea7fb3"/>
<circle cx="668.5" cy="152.2" r="1.05" fill="#ea7fb3"/>
<circle cx="673.4" cy="150.2" r="1.05" fill="#ea7fb3"/>
<circle cx="678.2" cy="151.4" r="1.05" fill="#ea7fb3"/>
<polyline points="527.3,156.5 534.3,153.7 541.4,157.2 548.4,157.2 560,156.5 571.7,153.7 595,152 618.5,151.8 641.8,150.9 665.2,150.9 680.5,151.4" fill="none" stroke="#111" stroke-width="1.7" stroke-linejoin="round"/>
<rect x="527.5" y="137.5" width="153" height="39" fill="none" stroke="#8c8c8c" stroke-width="1"/>
<line x1="558.1" y1="176.5" x2="558.1" y2="173.5" stroke="#8c8c8c" stroke-width="1"/>
<line x1="588.7" y1="176.5" x2="588.7" y2="173.5" stroke="#8c8c8c" stroke-width="1"/>
<line x1="619.3" y1="176.5" x2="619.3" y2="173.5" stroke="#8c8c8c" stroke-width="1"/>
<line x1="649.9" y1="176.5" x2="649.9" y2="173.5" stroke="#8c8c8c" stroke-width="1"/>
<text transform="translate(527,186.8) scale(0.88,1)" font-size="10.4" text-anchor="middle" fill="#2b2b2b">&#8722;20</text>
<text transform="translate(558.1,186.8) scale(0.88,1)" font-size="10.4" text-anchor="middle" fill="#2b2b2b">0</text>
<text transform="translate(588.7,186.8) scale(0.88,1)" font-size="10.4" text-anchor="middle" fill="#2b2b2b">20</text>
<text transform="translate(619.3,186.8) scale(0.88,1)" font-size="10.4" text-anchor="middle" fill="#2b2b2b">40</text>
<text transform="translate(649.9,186.8) scale(0.88,1)" font-size="10.4" text-anchor="middle" fill="#2b2b2b">60</text>
<text transform="translate(680.5,186.8) scale(0.88,1)" font-size="10.4" text-anchor="middle" fill="#2b2b2b">80</text>
<line x1="558.1" y1="137.5" x2="558.1" y2="134.5" stroke="#8c8c8c"/>
<line x1="588.7" y1="137.5" x2="588.7" y2="134.5" stroke="#8c8c8c"/>
<line x1="619.3" y1="137.5" x2="619.3" y2="134.5" stroke="#8c8c8c"/>
<line x1="649.9" y1="137.5" x2="649.9" y2="134.5" stroke="#8c8c8c"/>
<line x1="527.5" y1="150.5" x2="530" y2="150.5" stroke="#8c8c8c"/>
<text transform="translate(523,154.1) scale(0.88,1)" font-size="10.4" text-anchor="end" fill="#2b2b2b">0.4</text>
<line x1="527.5" y1="165.1" x2="530" y2="165.1" stroke="#8c8c8c"/>
<text transform="translate(523,168.7) scale(0.88,1)" font-size="10.4" text-anchor="end" fill="#2b2b2b">0.2</text>
<text font-size="10.4" text-anchor="middle" fill="#2b2b2b" transform="translate(500.5,158) rotate(-90) scale(0.88,1)"><tspan font-style="italic">ρ</tspan><tspan font-size="7" dy="2.5">BAS</tspan></text>
<text transform="translate(604,202) scale(0.88,1)" font-size="10.4" text-anchor="middle" fill="#2b2b2b"><tspan font-style="italic">t</tspan> &#8211; <tspan font-style="italic">t</tspan>* (h)</text>
<polygon points="314.9,309.6 318.7,308 322.6,306.6 326.4,305.6 330.2,303.7 334.1,299.3 337.9,295.8 341.7,292.4 345.6,288.7 349.4,284.9 353.2,281.1 357.1,277.8 360.9,274.8 364.7,272.1 368.6,270 372.4,268 376.2,266 380.1,264.2 383.9,262.3 387.7,260.6 391.5,259.1 395.4,257.5 399.2,255.9 403,254.1 406.9,252.3 410.7,250.7 414.5,249.6 418.4,248.6 422.2,247.6 426,246.9 429.9,246.1 433.7,245.4 437.5,244.5 441.4,243.6 445.2,242.8 449,242.5 452.9,242.1 456.7,241.8 460.5,241.4 464.4,241 468.2,240.6 468.2,253.6 464.4,254.6 460.5,255.6 456.7,256.6 452.9,257.5 449,258.5 445.2,259.4 441.4,260.7 437.5,263.2 433.7,265.7 429.9,268.2 426,270.6 422.2,273 418.4,273.8 414.5,273.8 410.7,273.8 406.9,273.8 403,273.8 399.2,273.8 395.4,274.7 391.5,275.9 387.7,277.2 383.9,278.7 380.1,280.3 376.2,281.9 372.4,284.8 368.6,288.2 364.7,291.7 360.9,297.5 357.1,303.5 353.2,309.6 349.4,315.8 345.6,322.1 341.7,328.2 337.9,334 334.1,339.3 330.2,343.5 326.4,345.2 322.6,345.6 318.7,346.2 314.9,347.2" fill="#cdced1"/>
<circle cx="317.6" cy="300" r="1.05" fill="#8fd3e4"/>
<circle cx="321.9" cy="296.9" r="1.05" fill="#8fd3e4"/>
<circle cx="325.7" cy="295.8" r="1.05" fill="#8fd3e4"/>
<circle cx="330.8" cy="300" r="1.05" fill="#8fd3e4"/>
<circle cx="335.1" cy="288.4" r="1.05" fill="#8fd3e4"/>
<circle cx="339.6" cy="290.9" r="1.05" fill="#8fd3e4"/>
<circle cx="343.8" cy="284.3" r="1.05" fill="#8fd3e4"/>
<circle cx="348.2" cy="281.8" r="1.05" fill="#8fd3e4"/>
<circle cx="353.1" cy="275.8" r="1.05" fill="#8fd3e4"/>
<circle cx="357.3" cy="276.4" r="1.05" fill="#8fd3e4"/>
<circle cx="362.4" cy="271.3" r="1.05" fill="#8fd3e4"/>
<circle cx="366.4" cy="273.3" r="1.05" fill="#8fd3e4"/>
<circle cx="371.1" cy="266.7" r="1.05" fill="#8fd3e4"/>
<circle cx="376.2" cy="260.9" r="1.05" fill="#8fd3e4"/>
<circle cx="379.9" cy="258.4" r="1.05" fill="#8fd3e4"/>
<circle cx="384.6" cy="257.8" r="1.05" fill="#8fd3e4"/>
<circle cx="388.8" cy="256.3" r="1.05" fill="#8fd3e4"/>
<circle cx="393.4" cy="253.2" r="1.05" fill="#8fd3e4"/>
<circle cx="398.3" cy="253" r="1.05" fill="#8fd3e4"/>
<circle cx="402.3" cy="250.5" r="1.05" fill="#8fd3e4"/>
<circle cx="407" cy="248" r="1.05" fill="#8fd3e4"/>
<circle cx="412.2" cy="247.1" r="1.05" fill="#8fd3e4"/>
<circle cx="417.1" cy="245.6" r="1.05" fill="#8fd3e4"/>
<circle cx="421.7" cy="245.8" r="1.05" fill="#8fd3e4"/>
<circle cx="425.8" cy="244.3" r="1.05" fill="#8fd3e4"/>
<circle cx="429.8" cy="244" r="1.05" fill="#8fd3e4"/>
<circle cx="434.9" cy="243.9" r="1.05" fill="#8fd3e4"/>
<circle cx="438.9" cy="241.3" r="1.05" fill="#8fd3e4"/>
<circle cx="442.9" cy="241.4" r="1.05" fill="#8fd3e4"/>
<circle cx="447.4" cy="240.6" r="1.05" fill="#8fd3e4"/>
<circle cx="452.2" cy="239.6" r="1.05" fill="#8fd3e4"/>
<circle cx="456.4" cy="238.4" r="1.05" fill="#8fd3e4"/>
<circle cx="460.8" cy="239" r="1.05" fill="#8fd3e4"/>
<circle cx="465" cy="237.5" r="1.05" fill="#8fd3e4"/>
<circle cx="318" cy="305" r="1.05" fill="#82c77a"/>
<circle cx="323.5" cy="318.3" r="1.05" fill="#82c77a"/>
<circle cx="330.4" cy="308.9" r="1.05" fill="#82c77a"/>
<circle cx="336.2" cy="307.4" r="1.05" fill="#82c77a"/>
<circle cx="341.8" cy="289.8" r="1.05" fill="#82c77a"/>
<circle cx="348.5" cy="288" r="1.05" fill="#82c77a"/>
<circle cx="355" cy="282.4" r="1.05" fill="#82c77a"/>
<circle cx="361" cy="270.3" r="1.05" fill="#82c77a"/>
<circle cx="366.3" cy="270.3" r="1.05" fill="#82c77a"/>
<circle cx="372.9" cy="262.4" r="1.05" fill="#82c77a"/>
<circle cx="380" cy="254.5" r="1.05" fill="#82c77a"/>
<circle cx="385.9" cy="254.9" r="1.05" fill="#82c77a"/>
<circle cx="391.9" cy="253" r="1.05" fill="#82c77a"/>
<circle cx="398.4" cy="247.1" r="1.05" fill="#82c77a"/>
<circle cx="403.7" cy="249.2" r="1.05" fill="#82c77a"/>
<circle cx="409.8" cy="246.3" r="1.05" fill="#82c77a"/>
<circle cx="417" cy="245.6" r="1.05" fill="#82c77a"/>
<circle cx="423.4" cy="244.8" r="1.05" fill="#82c77a"/>
<circle cx="429.6" cy="246.2" r="1.05" fill="#82c77a"/>
<circle cx="435.4" cy="242.9" r="1.05" fill="#82c77a"/>
<circle cx="442.1" cy="240.8" r="1.05" fill="#82c77a"/>
<circle cx="448" cy="240.9" r="1.05" fill="#82c77a"/>
<circle cx="453.4" cy="241" r="1.05" fill="#82c77a"/>
<circle cx="459.4" cy="243" r="1.05" fill="#82c77a"/>
<circle cx="466.5" cy="239.7" r="1.05" fill="#82c77a"/>
<circle cx="317.4" cy="332.3" r="1.05" fill="#d64b8f"/>
<circle cx="321.8" cy="327.6" r="1.05" fill="#d64b8f"/>
<circle cx="326.9" cy="316.1" r="1.05" fill="#d64b8f"/>
<circle cx="330.9" cy="320.9" r="1.05" fill="#d64b8f"/>
<circle cx="335.8" cy="318.3" r="1.05" fill="#d64b8f"/>
<circle cx="340.4" cy="316.1" r="1.05" fill="#d64b8f"/>
<circle cx="345.3" cy="302.4" r="1.05" fill="#d64b8f"/>
<circle cx="350.1" cy="298.6" r="1.05" fill="#d64b8f"/>
<circle cx="354.3" cy="297.6" r="1.05" fill="#d64b8f"/>
<circle cx="359" cy="294.6" r="1.05" fill="#d64b8f"/>
<circle cx="364.1" cy="286.1" r="1.05" fill="#d64b8f"/>
<circle cx="368.5" cy="281.3" r="1.05" fill="#d64b8f"/>
<circle cx="373.1" cy="274.9" r="1.05" fill="#d64b8f"/>
<circle cx="377.9" cy="271.9" r="1.05" fill="#d64b8f"/>
<circle cx="381.8" cy="271.5" r="1.05" fill="#d64b8f"/>
<circle cx="387" cy="267.7" r="1.05" fill="#d64b8f"/>
<circle cx="392" cy="267.4" r="1.05" fill="#d64b8f"/>
<circle cx="396.5" cy="264.7" r="1.05" fill="#d64b8f"/>
<circle cx="401.7" cy="261.1" r="1.05" fill="#d64b8f"/>
<circle cx="406.7" cy="259.9" r="1.05" fill="#d64b8f"/>
<circle cx="410.8" cy="256.4" r="1.05" fill="#d64b8f"/>
<circle cx="414.7" cy="254.7" r="1.05" fill="#d64b8f"/>
<circle cx="419.6" cy="252.6" r="1.05" fill="#d64b8f"/>
<circle cx="424.5" cy="253.6" r="1.05" fill="#d64b8f"/>
<circle cx="429.2" cy="248.4" r="1.05" fill="#d64b8f"/>
<circle cx="433.9" cy="248.3" r="1.05" fill="#d64b8f"/>
<circle cx="439" cy="247.8" r="1.05" fill="#d64b8f"/>
<circle cx="443.9" cy="244.5" r="1.05" fill="#d64b8f"/>
<circle cx="448.7" cy="247" r="1.05" fill="#d64b8f"/>
<circle cx="452.6" cy="244.2" r="1.05" fill="#d64b8f"/>
<circle cx="456.6" cy="244.2" r="1.05" fill="#d64b8f"/>
<circle cx="461.8" cy="242.6" r="1.05" fill="#d64b8f"/>
<circle cx="465.8" cy="240.5" r="1.05" fill="#d64b8f"/>
<circle cx="315" cy="323.9" r="1.05" fill="#5070c8"/>
<circle cx="319" cy="320.9" r="1.05" fill="#5070c8"/>
<circle cx="322.6" cy="323.9" r="1.05" fill="#5070c8"/>
<circle cx="326.1" cy="320.9" r="1.05" fill="#5070c8"/>
<circle cx="330.8" cy="311.3" r="1.05" fill="#5070c8"/>
<circle cx="334.8" cy="308.6" r="1.05" fill="#5070c8"/>
<circle cx="339.3" cy="307.2" r="1.05" fill="#5070c8"/>
<circle cx="343.1" cy="302.9" r="1.05" fill="#5070c8"/>
<circle cx="347.6" cy="301" r="1.05" fill="#5070c8"/>
<circle cx="351.4" cy="293.2" r="1.05" fill="#5070c8"/>
<circle cx="356.1" cy="284.7" r="1.05" fill="#5070c8"/>
<circle cx="359.4" cy="284.7" r="1.05" fill="#5070c8"/>
<circle cx="363.3" cy="284.2" r="1.05" fill="#5070c8"/>
<circle cx="367.1" cy="274" r="1.05" fill="#5070c8"/>
<circle cx="370.9" cy="274.3" r="1.05" fill="#5070c8"/>
<circle cx="374.5" cy="271.1" r="1.05" fill="#5070c8"/>
<circle cx="378.7" cy="269.6" r="1.05" fill="#5070c8"/>
<circle cx="381.6" cy="267.3" r="1.05" fill="#5070c8"/>
<circle cx="385.5" cy="265.4" r="1.05" fill="#5070c8"/>
<circle cx="389.3" cy="261.9" r="1.05" fill="#5070c8"/>
<circle cx="393.5" cy="263.1" r="1.05" fill="#5070c8"/>
<circle cx="398" cy="263.7" r="1.05" fill="#5070c8"/>
<circle cx="402.1" cy="259.4" r="1.05" fill="#5070c8"/>
<circle cx="405.7" cy="260.2" r="1.05" fill="#5070c8"/>
<circle cx="410.4" cy="255.7" r="1.05" fill="#5070c8"/>
<circle cx="414.2" cy="257.1" r="1.05" fill="#5070c8"/>
<circle cx="418.1" cy="255" r="1.05" fill="#5070c8"/>
<circle cx="422.2" cy="256.4" r="1.05" fill="#5070c8"/>
<circle cx="426.3" cy="255.1" r="1.05" fill="#5070c8"/>
<circle cx="429.9" cy="253.9" r="1.05" fill="#5070c8"/>
<circle cx="433.6" cy="253.9" r="1.05" fill="#5070c8"/>
<circle cx="437.4" cy="251.1" r="1.05" fill="#5070c8"/>
<circle cx="441.2" cy="251.6" r="1.05" fill="#5070c8"/>
<circle cx="444.6" cy="250.2" r="1.05" fill="#5070c8"/>
<circle cx="449.2" cy="250.9" r="1.05" fill="#5070c8"/>
<circle cx="453.5" cy="250.8" r="1.05" fill="#5070c8"/>
<circle cx="456.9" cy="248.6" r="1.05" fill="#5070c8"/>
<circle cx="461.5" cy="247.6" r="1.05" fill="#5070c8"/>
<circle cx="465.3" cy="249.6" r="1.05" fill="#5070c8"/>
<circle cx="317.2" cy="332.3" r="1.05" fill="#9a55b3"/>
<circle cx="321.2" cy="339" r="1.05" fill="#9a55b3"/>
<circle cx="326.4" cy="332.3" r="1.05" fill="#9a55b3"/>
<circle cx="331" cy="332.3" r="1.05" fill="#9a55b3"/>
<circle cx="336.9" cy="323.9" r="1.05" fill="#9a55b3"/>
<circle cx="342.8" cy="320.9" r="1.05" fill="#9a55b3"/>
<circle cx="347.4" cy="312.4" r="1.05" fill="#9a55b3"/>
<circle cx="351.7" cy="302.5" r="1.05" fill="#9a55b3"/>
<circle cx="357.4" cy="293.8" r="1.05" fill="#9a55b3"/>
<circle cx="361.8" cy="287.6" r="1.05" fill="#9a55b3"/>
<circle cx="367.6" cy="283.1" r="1.05" fill="#9a55b3"/>
<circle cx="372.2" cy="282.3" r="1.05" fill="#9a55b3"/>
<circle cx="377.3" cy="275.4" r="1.05" fill="#9a55b3"/>
<circle cx="382.8" cy="272.5" r="1.05" fill="#9a55b3"/>
<circle cx="387.6" cy="273.8" r="1.05" fill="#9a55b3"/>
<circle cx="393.2" cy="268.4" r="1.05" fill="#9a55b3"/>
<circle cx="397.5" cy="265.8" r="1.05" fill="#9a55b3"/>
<circle cx="401.8" cy="262.6" r="1.05" fill="#9a55b3"/>
<circle cx="406.8" cy="263.1" r="1.05" fill="#9a55b3"/>
<circle cx="411.8" cy="260.7" r="1.05" fill="#9a55b3"/>
<circle cx="417.1" cy="257.7" r="1.05" fill="#9a55b3"/>
<circle cx="422.2" cy="256.3" r="1.05" fill="#9a55b3"/>
<circle cx="427" cy="256.7" r="1.05" fill="#9a55b3"/>
<circle cx="432" cy="253.7" r="1.05" fill="#9a55b3"/>
<circle cx="437.7" cy="253.9" r="1.05" fill="#9a55b3"/>
<circle cx="443.4" cy="253.9" r="1.05" fill="#9a55b3"/>
<circle cx="448.1" cy="251.1" r="1.05" fill="#9a55b3"/>
<circle cx="453.4" cy="250.2" r="1.05" fill="#9a55b3"/>
<circle cx="458" cy="251.3" r="1.05" fill="#9a55b3"/>
<circle cx="462.3" cy="250.7" r="1.05" fill="#9a55b3"/>
<circle cx="467.8" cy="250.9" r="1.05" fill="#9a55b3"/>
<circle cx="315.4" cy="350.5" r="1.05" fill="#5dc0b0"/>
<circle cx="322.1" cy="339" r="1.05" fill="#5dc0b0"/>
<circle cx="328" cy="339" r="1.05" fill="#5dc0b0"/>
<circle cx="334.8" cy="327.6" r="1.05" fill="#5dc0b0"/>
<circle cx="341.1" cy="318.3" r="1.05" fill="#5dc0b0"/>
<circle cx="346.9" cy="318.3" r="1.05" fill="#5dc0b0"/>
<circle cx="351.8" cy="310.6" r="1.05" fill="#5dc0b0"/>
<circle cx="357.6" cy="303.4" r="1.05" fill="#5dc0b0"/>
<circle cx="363.3" cy="293.9" r="1.05" fill="#5dc0b0"/>
<circle cx="369.8" cy="286" r="1.05" fill="#5dc0b0"/>
<circle cx="375" cy="281.5" r="1.05" fill="#5dc0b0"/>
<circle cx="380.3" cy="277.2" r="1.05" fill="#5dc0b0"/>
<circle cx="386.2" cy="272.3" r="1.05" fill="#5dc0b0"/>
<circle cx="391.3" cy="273.3" r="1.05" fill="#5dc0b0"/>
<circle cx="397.6" cy="271.2" r="1.05" fill="#5dc0b0"/>
<circle cx="404.2" cy="266.2" r="1.05" fill="#5dc0b0"/>
<circle cx="410" cy="265" r="1.05" fill="#5dc0b0"/>
<circle cx="415.1" cy="261.8" r="1.05" fill="#5dc0b0"/>
<circle cx="421.2" cy="260.8" r="1.05" fill="#5dc0b0"/>
<circle cx="426.5" cy="259.1" r="1.05" fill="#5dc0b0"/>
<circle cx="432.6" cy="260.4" r="1.05" fill="#5dc0b0"/>
<circle cx="439.5" cy="257.2" r="1.05" fill="#5dc0b0"/>
<circle cx="444.6" cy="256.1" r="1.05" fill="#5dc0b0"/>
<circle cx="449.6" cy="256.3" r="1.05" fill="#5dc0b0"/>
<circle cx="454.3" cy="256.1" r="1.05" fill="#5dc0b0"/>
<circle cx="460.4" cy="252.7" r="1.05" fill="#5dc0b0"/>
<circle cx="467" cy="255" r="1.05" fill="#5dc0b0"/>
<circle cx="314.9" cy="339" r="1.05" fill="#f0d24c"/>
<circle cx="319.5" cy="332.3" r="1.05" fill="#f0d24c"/>
<circle cx="324.3" cy="339" r="1.05" fill="#f0d24c"/>
<circle cx="330.2" cy="339" r="1.05" fill="#f0d24c"/>
<circle cx="335.9" cy="332.3" r="1.05" fill="#f0d24c"/>
<circle cx="341" cy="327.6" r="1.05" fill="#f0d24c"/>
<circle cx="346.5" cy="320.9" r="1.05" fill="#f0d24c"/>
<circle cx="351.2" cy="309.3" r="1.05" fill="#f0d24c"/>
<circle cx="356.8" cy="303.2" r="1.05" fill="#f0d24c"/>
<circle cx="362.7" cy="296.7" r="1.05" fill="#f0d24c"/>
<circle cx="367.9" cy="290.8" r="1.05" fill="#f0d24c"/>
<circle cx="372.3" cy="287.4" r="1.05" fill="#f0d24c"/>
<circle cx="377.7" cy="281.2" r="1.05" fill="#f0d24c"/>
<circle cx="382.4" cy="280.6" r="1.05" fill="#f0d24c"/>
<circle cx="387.7" cy="277.4" r="1.05" fill="#f0d24c"/>
<circle cx="393.9" cy="277.2" r="1.05" fill="#f0d24c"/>
<circle cx="399.2" cy="275.8" r="1.05" fill="#f0d24c"/>
<circle cx="405.1" cy="275.7" r="1.05" fill="#f0d24c"/>
<circle cx="410.1" cy="275.9" r="1.05" fill="#f0d24c"/>
<circle cx="414.7" cy="276.1" r="1.05" fill="#f0d24c"/>
<circle cx="420.4" cy="271.6" r="1.05" fill="#f0d24c"/>
<circle cx="425.1" cy="271.3" r="1.05" fill="#f0d24c"/>
<circle cx="430.1" cy="272.1" r="1.05" fill="#f0d24c"/>
<circle cx="434.6" cy="268.8" r="1.05" fill="#f0d24c"/>
<circle cx="439.5" cy="269.5" r="1.05" fill="#f0d24c"/>
<circle cx="445" cy="269.3" r="1.05" fill="#f0d24c"/>
<circle cx="451.1" cy="268.1" r="1.05" fill="#f0d24c"/>
<circle cx="456.8" cy="269.2" r="1.05" fill="#f0d24c"/>
<circle cx="462.5" cy="268" r="1.05" fill="#f0d24c"/>
<circle cx="467.4" cy="270" r="1.05" fill="#f0d24c"/>
<circle cx="317.6" cy="332.3" r="1.05" fill="#f39b5a"/>
<circle cx="322.6" cy="332.3" r="1.05" fill="#f39b5a"/>
<circle cx="327.6" cy="327.6" r="1.05" fill="#f39b5a"/>
<circle cx="332.6" cy="332.3" r="1.05" fill="#f39b5a"/>
<circle cx="337.2" cy="332.3" r="1.05" fill="#f39b5a"/>
<circle cx="342.6" cy="320.9" r="1.05" fill="#f39b5a"/>
<circle cx="348.2" cy="318.3" r="1.05" fill="#f39b5a"/>
<circle cx="353.6" cy="312.3" r="1.05" fill="#f39b5a"/>
<circle cx="359.4" cy="298.4" r="1.05" fill="#f39b5a"/>
<circle cx="364.4" cy="291.2" r="1.05" fill="#f39b5a"/>
<circle cx="369.7" cy="287.9" r="1.05" fill="#f39b5a"/>
<circle cx="374.4" cy="284.4" r="1.05" fill="#f39b5a"/>
<circle cx="380.2" cy="280.2" r="1.05" fill="#f39b5a"/>
<circle cx="385.6" cy="279.3" r="1.05" fill="#f39b5a"/>
<circle cx="390.7" cy="275.4" r="1.05" fill="#f39b5a"/>
<circle cx="396.2" cy="276.3" r="1.05" fill="#f39b5a"/>
<circle cx="401.8" cy="273.7" r="1.05" fill="#f39b5a"/>
<circle cx="406.8" cy="273" r="1.05" fill="#f39b5a"/>
<circle cx="411.6" cy="272.5" r="1.05" fill="#f39b5a"/>
<circle cx="416.3" cy="272.9" r="1.05" fill="#f39b5a"/>
<circle cx="421.9" cy="270.4" r="1.05" fill="#f39b5a"/>
<circle cx="427.5" cy="270.8" r="1.05" fill="#f39b5a"/>
<circle cx="433.4" cy="269.7" r="1.05" fill="#f39b5a"/>
<circle cx="438.9" cy="269.5" r="1.05" fill="#f39b5a"/>
<circle cx="443.6" cy="266.7" r="1.05" fill="#f39b5a"/>
<circle cx="449.3" cy="267.8" r="1.05" fill="#f39b5a"/>
<circle cx="454.5" cy="267.8" r="1.05" fill="#f39b5a"/>
<circle cx="459.5" cy="266.3" r="1.05" fill="#f39b5a"/>
<circle cx="465.2" cy="268.6" r="1.05" fill="#f39b5a"/>
<circle cx="318.4" cy="339" r="1.05" fill="#82c77a"/>
<circle cx="324.5" cy="339" r="1.05" fill="#82c77a"/>
<circle cx="331.3" cy="339" r="1.05" fill="#82c77a"/>
<circle cx="338.1" cy="327.6" r="1.05" fill="#82c77a"/>
<circle cx="345.2" cy="318.3" r="1.05" fill="#82c77a"/>
<circle cx="351.6" cy="316.1" r="1.05" fill="#82c77a"/>
<circle cx="358.3" cy="302.1" r="1.05" fill="#82c77a"/>
<circle cx="365.8" cy="294.7" r="1.05" fill="#82c77a"/>
<circle cx="371.7" cy="286.9" r="1.05" fill="#82c77a"/>
<circle cx="378.6" cy="283.5" r="1.05" fill="#82c77a"/>
<circle cx="384.3" cy="280.6" r="1.05" fill="#82c77a"/>
<circle cx="391.7" cy="280.9" r="1.05" fill="#82c77a"/>
<circle cx="398.6" cy="278.4" r="1.05" fill="#82c77a"/>
<circle cx="406.1" cy="275" r="1.05" fill="#82c77a"/>
<circle cx="413.1" cy="274.1" r="1.05" fill="#82c77a"/>
<circle cx="420.3" cy="274.4" r="1.05" fill="#82c77a"/>
<circle cx="425.9" cy="270.8" r="1.05" fill="#82c77a"/>
<circle cx="432.5" cy="273.2" r="1.05" fill="#82c77a"/>
<circle cx="439" cy="271.1" r="1.05" fill="#82c77a"/>
<circle cx="445.6" cy="268.1" r="1.05" fill="#82c77a"/>
<circle cx="451.7" cy="267.7" r="1.05" fill="#82c77a"/>
<circle cx="458.5" cy="267.5" r="1.05" fill="#82c77a"/>
<circle cx="464.3" cy="263.8" r="1.05" fill="#82c77a"/>
<circle cx="332.5" cy="339" r="1.05" fill="#ea7fb3"/>
<circle cx="338.2" cy="339" r="1.05" fill="#ea7fb3"/>
<circle cx="344.1" cy="332.3" r="1.05" fill="#ea7fb3"/>
<circle cx="348.9" cy="320.9" r="1.05" fill="#ea7fb3"/>
<circle cx="354.6" cy="309.3" r="1.05" fill="#ea7fb3"/>
<circle cx="359.9" cy="301.3" r="1.05" fill="#ea7fb3"/>
<circle cx="365.1" cy="295.5" r="1.05" fill="#ea7fb3"/>
<circle cx="370.6" cy="285.5" r="1.05" fill="#ea7fb3"/>
<circle cx="376" cy="283.3" r="1.05" fill="#ea7fb3"/>
<circle cx="381.3" cy="279.8" r="1.05" fill="#ea7fb3"/>
<circle cx="387.4" cy="276.3" r="1.05" fill="#ea7fb3"/>
<circle cx="393.9" cy="274.7" r="1.05" fill="#ea7fb3"/>
<circle cx="399.9" cy="272.5" r="1.05" fill="#ea7fb3"/>
<circle cx="404.9" cy="270.2" r="1.05" fill="#ea7fb3"/>
<circle cx="411" cy="271" r="1.05" fill="#ea7fb3"/>
<circle cx="415.8" cy="269.7" r="1.05" fill="#ea7fb3"/>
<circle cx="422.3" cy="268.3" r="1.05" fill="#ea7fb3"/>
<circle cx="427.4" cy="270.3" r="1.05" fill="#ea7fb3"/>
<circle cx="432.8" cy="270.7" r="1.05" fill="#ea7fb3"/>
<circle cx="437.9" cy="269.2" r="1.05" fill="#ea7fb3"/>
<circle cx="442.7" cy="267" r="1.05" fill="#ea7fb3"/>
<circle cx="448.3" cy="267" r="1.05" fill="#ea7fb3"/>
<circle cx="454.6" cy="267.7" r="1.05" fill="#ea7fb3"/>
<circle cx="461" cy="266.7" r="1.05" fill="#ea7fb3"/>
<circle cx="465.8" cy="265.9" r="1.05" fill="#ea7fb3"/>
<polyline points="314.9,316.2 320.6,315.3 329.2,315.3 340.7,305.3 352.2,293.8 363.7,282.3 375.2,273.7 386.7,267.9 398.2,263 409.7,257.9 421.2,255 432.7,252.1 444.2,248.7 455.7,247 468.2,244.9" fill="none" stroke="#111" stroke-width="1.7" stroke-linejoin="round"/>
<rect x="314.5" y="236.5" width="154" height="115" fill="none" stroke="#8c8c8c" stroke-width="1"/>
<line x1="314.9" y1="350.5" x2="317.9" y2="350.5" stroke="#8c8c8c" stroke-width="0.8"/>
<line x1="314.9" y1="339" x2="316.7" y2="339" stroke="#8c8c8c" stroke-width="0.8"/>
<line x1="314.9" y1="332.3" x2="316.7" y2="332.3" stroke="#8c8c8c" stroke-width="0.8"/>
<line x1="314.9" y1="327.6" x2="316.7" y2="327.6" stroke="#8c8c8c" stroke-width="0.8"/>
<line x1="314.9" y1="323.9" x2="316.7" y2="323.9" stroke="#8c8c8c" stroke-width="0.8"/>
<line x1="314.9" y1="320.9" x2="316.7" y2="320.9" stroke="#8c8c8c" stroke-width="0.8"/>
<line x1="314.9" y1="318.3" x2="316.7" y2="318.3" stroke="#8c8c8c" stroke-width="0.8"/>
<line x1="314.9" y1="316.1" x2="316.7" y2="316.1" stroke="#8c8c8c" stroke-width="0.8"/>
<line x1="314.9" y1="314.1" x2="316.7" y2="314.1" stroke="#8c8c8c" stroke-width="0.8"/>
<line x1="314.9" y1="312.4" x2="317.9" y2="312.4" stroke="#8c8c8c" stroke-width="0.8"/>
<line x1="314.9" y1="300.9" x2="316.7" y2="300.9" stroke="#8c8c8c" stroke-width="0.8"/>
<line x1="314.9" y1="294.2" x2="316.7" y2="294.2" stroke="#8c8c8c" stroke-width="0.8"/>
<line x1="314.9" y1="289.5" x2="316.7" y2="289.5" stroke="#8c8c8c" stroke-width="0.8"/>
<line x1="314.9" y1="285.8" x2="316.7" y2="285.8" stroke="#8c8c8c" stroke-width="0.8"/>
<line x1="314.9" y1="282.8" x2="316.7" y2="282.8" stroke="#8c8c8c" stroke-width="0.8"/>
<line x1="314.9" y1="280.2" x2="316.7" y2="280.2" stroke="#8c8c8c" stroke-width="0.8"/>
<line x1="314.9" y1="278" x2="316.7" y2="278" stroke="#8c8c8c" stroke-width="0.8"/>
<line x1="314.9" y1="276" x2="316.7" y2="276" stroke="#8c8c8c" stroke-width="0.8"/>
<line x1="314.9" y1="274.3" x2="317.9" y2="274.3" stroke="#8c8c8c" stroke-width="0.8"/>
<line x1="314.9" y1="262.8" x2="316.7" y2="262.8" stroke="#8c8c8c" stroke-width="0.8"/>
<line x1="314.9" y1="256.1" x2="316.7" y2="256.1" stroke="#8c8c8c" stroke-width="0.8"/>
<line x1="314.9" y1="251.4" x2="316.7" y2="251.4" stroke="#8c8c8c" stroke-width="0.8"/>
<line x1="314.9" y1="247.7" x2="316.7" y2="247.7" stroke="#8c8c8c" stroke-width="0.8"/>
<line x1="314.9" y1="244.7" x2="316.7" y2="244.7" stroke="#8c8c8c" stroke-width="0.8"/>
<line x1="314.9" y1="242.1" x2="316.7" y2="242.1" stroke="#8c8c8c" stroke-width="0.8"/>
<line x1="314.9" y1="239.9" x2="316.7" y2="239.9" stroke="#8c8c8c" stroke-width="0.8"/>
<line x1="314.9" y1="237.9" x2="316.7" y2="237.9" stroke="#8c8c8c" stroke-width="0.8"/>
<line x1="314.9" y1="236.2" x2="317.9" y2="236.2" stroke="#8c8c8c" stroke-width="0.8"/>
<text transform="translate(311,316) scale(0.88,1)" font-size="10.4" text-anchor="end" fill="#2b2b2b">10<tspan font-size="7.2" dy="-3.9">1</tspan></text>
<text transform="translate(311,277.9) scale(0.88,1)" font-size="10.4" text-anchor="end" fill="#2b2b2b">10<tspan font-size="7.2" dy="-3.9">2</tspan></text>
<text transform="translate(311,239.8) scale(0.88,1)" font-size="10.4" text-anchor="end" fill="#2b2b2b">10<tspan font-size="7.2" dy="-3.9">3</tspan></text>
<text font-size="10.4" text-anchor="middle" fill="#2b2b2b" transform="translate(288,293.2) rotate(-90) scale(0.88,1)">Anastomosis</text>
<polygon points="314.9,376.5 318.7,371.8 322.6,366.7 326.4,370.7 330.2,374.7 334.1,375.2 337.9,375.6 341.7,376 345.6,376.4 349.4,376.2 353.2,375.6 357.1,375.1 360.9,374.7 364.7,374.4 368.6,374.1 372.4,373.8 376.2,373.5 380.1,373.2 383.9,372.9 387.7,372.7 391.5,372.6 395.4,372.4 399.2,372.2 403,372 406.9,371.9 410.7,371.9 414.5,371.9 418.4,371.9 422.2,371.9 426,371.9 429.9,371.9 433.7,371.8 437.5,371.6 441.4,371.5 445.2,371.4 449,371.3 452.9,371.2 456.7,371.4 460.5,371.6 464.4,371.7 468.2,371.9 468.2,377.9 464.4,377.7 460.5,377.6 456.7,377.4 452.9,377.2 449,377.3 445.2,377.4 441.4,377.5 437.5,377.6 433.7,377.8 429.9,377.9 426,377.9 422.2,377.9 418.4,377.9 414.5,377.9 410.7,377.9 406.9,377.9 403,378 399.2,378.2 395.4,378.4 391.5,378.6 387.7,378.7 383.9,378.9 380.1,379.2 376.2,379.5 372.4,379.8 368.6,380.1 364.7,380.4 360.9,380.7 357.1,381.1 353.2,381.6 349.4,382.2 345.6,382.4 341.7,382.4 337.9,382.4 334.1,382.3 330.2,382.2 326.4,381.3 322.6,380.5 318.7,382.1 314.9,383.5" fill="#cdced1"/>
<circle cx="316.7" cy="369.6" r="1.05" fill="#8fd3e4"/>
<circle cx="321.6" cy="364" r="1.05" fill="#8fd3e4"/>
<circle cx="325.7" cy="369.5" r="1.05" fill="#8fd3e4"/>
<circle cx="329.9" cy="374.8" r="1.05" fill="#8fd3e4"/>
<circle cx="334.1" cy="371.9" r="1.05" fill="#8fd3e4"/>
<circle cx="338.8" cy="369.5" r="1.05" fill="#8fd3e4"/>
<circle cx="342.7" cy="374.6" r="1.05" fill="#8fd3e4"/>
<circle cx="347.8" cy="374.7" r="1.05" fill="#8fd3e4"/>
<circle cx="351.7" cy="374.5" r="1.05" fill="#8fd3e4"/>
<circle cx="357.2" cy="374.2" r="1.05" fill="#8fd3e4"/>
<circle cx="361" cy="376.5" r="1.05" fill="#8fd3e4"/>
<circle cx="366.1" cy="374.6" r="1.05" fill="#8fd3e4"/>
<circle cx="370.1" cy="371.4" r="1.05" fill="#8fd3e4"/>
<circle cx="374.6" cy="371.6" r="1.05" fill="#8fd3e4"/>
<circle cx="379.6" cy="370.2" r="1.05" fill="#8fd3e4"/>
<circle cx="383.8" cy="372.1" r="1.05" fill="#8fd3e4"/>
<circle cx="388.8" cy="371.3" r="1.05" fill="#8fd3e4"/>
<circle cx="393" cy="369.3" r="1.05" fill="#8fd3e4"/>
<circle cx="397.8" cy="369.5" r="1.05" fill="#8fd3e4"/>
<circle cx="402.7" cy="367.7" r="1.05" fill="#8fd3e4"/>
<circle cx="406.7" cy="370.3" r="1.05" fill="#8fd3e4"/>
<circle cx="412" cy="370.2" r="1.05" fill="#8fd3e4"/>
<circle cx="416.5" cy="366.3" r="1.05" fill="#8fd3e4"/>
<circle cx="420.9" cy="369.6" r="1.05" fill="#8fd3e4"/>
<circle cx="425.1" cy="369.3" r="1.05" fill="#8fd3e4"/>
<circle cx="429.7" cy="366.6" r="1.05" fill="#8fd3e4"/>
<circle cx="434.2" cy="367.5" r="1.05" fill="#8fd3e4"/>
<circle cx="438.6" cy="368.2" r="1.05" fill="#8fd3e4"/>
<circle cx="443.9" cy="367.9" r="1.05" fill="#8fd3e4"/>
<circle cx="448.8" cy="368.3" r="1.05" fill="#8fd3e4"/>
<circle cx="454.1" cy="366.2" r="1.05" fill="#8fd3e4"/>
<circle cx="458.8" cy="366.8" r="1.05" fill="#8fd3e4"/>
<circle cx="462.9" cy="366.1" r="1.05" fill="#8fd3e4"/>
<circle cx="467.7" cy="366.2" r="1.05" fill="#8fd3e4"/>
<circle cx="317.7" cy="380" r="1.05" fill="#82c77a"/>
<circle cx="324.7" cy="374.4" r="1.05" fill="#82c77a"/>
<circle cx="330.5" cy="375.6" r="1.05" fill="#82c77a"/>
<circle cx="337.5" cy="375" r="1.05" fill="#82c77a"/>
<circle cx="344.8" cy="375.8" r="1.05" fill="#82c77a"/>
<circle cx="351.9" cy="376.7" r="1.05" fill="#82c77a"/>
<circle cx="359.1" cy="375.1" r="1.05" fill="#82c77a"/>
<circle cx="365.2" cy="374.5" r="1.05" fill="#82c77a"/>
<circle cx="372" cy="375.8" r="1.05" fill="#82c77a"/>
<circle cx="378.2" cy="373" r="1.05" fill="#82c77a"/>
<circle cx="384.8" cy="372.9" r="1.05" fill="#82c77a"/>
<circle cx="392.1" cy="369.7" r="1.05" fill="#82c77a"/>
<circle cx="399.1" cy="370.8" r="1.05" fill="#82c77a"/>
<circle cx="405.9" cy="370.5" r="1.05" fill="#82c77a"/>
<circle cx="413.1" cy="369.3" r="1.05" fill="#82c77a"/>
<circle cx="418.7" cy="364.9" r="1.05" fill="#82c77a"/>
<circle cx="426" cy="364.5" r="1.05" fill="#82c77a"/>
<circle cx="432.6" cy="365.2" r="1.05" fill="#82c77a"/>
<circle cx="440.2" cy="360.9" r="1.05" fill="#82c77a"/>
<circle cx="447.3" cy="362.2" r="1.05" fill="#82c77a"/>
<circle cx="454.3" cy="362.6" r="1.05" fill="#82c77a"/>
<circle cx="461.2" cy="365.1" r="1.05" fill="#82c77a"/>
<circle cx="315.6" cy="384.7" r="1.05" fill="#d64b8f"/>
<circle cx="319.8" cy="384.4" r="1.05" fill="#d64b8f"/>
<circle cx="323.8" cy="381.5" r="1.05" fill="#d64b8f"/>
<circle cx="327.8" cy="386.1" r="1.05" fill="#d64b8f"/>
<circle cx="332.3" cy="382.8" r="1.05" fill="#d64b8f"/>
<circle cx="337.2" cy="382.7" r="1.05" fill="#d64b8f"/>
<circle cx="341.7" cy="380.9" r="1.05" fill="#d64b8f"/>
<circle cx="345.6" cy="385.1" r="1.05" fill="#d64b8f"/>
<circle cx="350.1" cy="382.8" r="1.05" fill="#d64b8f"/>
<circle cx="354.3" cy="382.9" r="1.05" fill="#d64b8f"/>
<circle cx="358.6" cy="382.5" r="1.05" fill="#d64b8f"/>
<circle cx="362.6" cy="380.8" r="1.05" fill="#d64b8f"/>
<circle cx="366.4" cy="381.9" r="1.05" fill="#d64b8f"/>
<circle cx="371.3" cy="380.9" r="1.05" fill="#d64b8f"/>
<circle cx="375.4" cy="381.2" r="1.05" fill="#d64b8f"/>
<circle cx="379.5" cy="380.4" r="1.05" fill="#d64b8f"/>
<circle cx="383.7" cy="379" r="1.05" fill="#d64b8f"/>
<circle cx="388.5" cy="378.8" r="1.05" fill="#d64b8f"/>
<circle cx="392.6" cy="382.4" r="1.05" fill="#d64b8f"/>
<circle cx="397.7" cy="379.7" r="1.05" fill="#d64b8f"/>
<circle cx="402.2" cy="377.4" r="1.05" fill="#d64b8f"/>
<circle cx="406.5" cy="378.9" r="1.05" fill="#d64b8f"/>
<circle cx="410.1" cy="380.2" r="1.05" fill="#d64b8f"/>
<circle cx="413.5" cy="379.2" r="1.05" fill="#d64b8f"/>
<circle cx="418.2" cy="377.2" r="1.05" fill="#d64b8f"/>
<circle cx="422.2" cy="375.2" r="1.05" fill="#d64b8f"/>
<circle cx="426.7" cy="376.7" r="1.05" fill="#d64b8f"/>
<circle cx="431.9" cy="377.2" r="1.05" fill="#d64b8f"/>
<circle cx="436.1" cy="376.8" r="1.05" fill="#d64b8f"/>
<circle cx="440.9" cy="376" r="1.05" fill="#d64b8f"/>
<circle cx="445.1" cy="375.3" r="1.05" fill="#d64b8f"/>
<circle cx="449.9" cy="375.4" r="1.05" fill="#d64b8f"/>
<circle cx="454.3" cy="376.5" r="1.05" fill="#d64b8f"/>
<circle cx="459.4" cy="375.4" r="1.05" fill="#d64b8f"/>
<circle cx="464.1" cy="376.3" r="1.05" fill="#d64b8f"/>
<circle cx="317" cy="376.5" r="1.05" fill="#5070c8"/>
<circle cx="322.1" cy="376.4" r="1.05" fill="#5070c8"/>
<circle cx="325.4" cy="375.6" r="1.05" fill="#5070c8"/>
<circle cx="329.4" cy="377.1" r="1.05" fill="#5070c8"/>
<circle cx="333.3" cy="378.2" r="1.05" fill="#5070c8"/>
<circle cx="337.4" cy="377.2" r="1.05" fill="#5070c8"/>
<circle cx="342.1" cy="379.9" r="1.05" fill="#5070c8"/>
<circle cx="346.1" cy="377.3" r="1.05" fill="#5070c8"/>
<circle cx="350.2" cy="378.9" r="1.05" fill="#5070c8"/>
<circle cx="354.3" cy="379.3" r="1.05" fill="#5070c8"/>
<circle cx="358.4" cy="379" r="1.05" fill="#5070c8"/>
<circle cx="362.7" cy="378.8" r="1.05" fill="#5070c8"/>
<circle cx="367" cy="376.8" r="1.05" fill="#5070c8"/>
<circle cx="370.9" cy="377.1" r="1.05" fill="#5070c8"/>
<circle cx="375.8" cy="376.8" r="1.05" fill="#5070c8"/>
<circle cx="379.8" cy="377" r="1.05" fill="#5070c8"/>
<circle cx="383.7" cy="376.5" r="1.05" fill="#5070c8"/>
<circle cx="387.6" cy="376.1" r="1.05" fill="#5070c8"/>
<circle cx="392" cy="376" r="1.05" fill="#5070c8"/>
<circle cx="396.3" cy="377.8" r="1.05" fill="#5070c8"/>
<circle cx="400.4" cy="374.4" r="1.05" fill="#5070c8"/>
<circle cx="404.5" cy="375.2" r="1.05" fill="#5070c8"/>
<circle cx="408.7" cy="374.4" r="1.05" fill="#5070c8"/>
<circle cx="412.7" cy="373.3" r="1.05" fill="#5070c8"/>
<circle cx="416.3" cy="373.6" r="1.05" fill="#5070c8"/>
<circle cx="420.5" cy="373.5" r="1.05" fill="#5070c8"/>
<circle cx="425.2" cy="372.4" r="1.05" fill="#5070c8"/>
<circle cx="428.7" cy="376.7" r="1.05" fill="#5070c8"/>
<circle cx="432.3" cy="374.1" r="1.05" fill="#5070c8"/>
<circle cx="436.4" cy="372" r="1.05" fill="#5070c8"/>
<circle cx="439.6" cy="371.8" r="1.05" fill="#5070c8"/>
<circle cx="444" cy="371" r="1.05" fill="#5070c8"/>
<circle cx="448.1" cy="375.4" r="1.05" fill="#5070c8"/>
<circle cx="451.9" cy="372.6" r="1.05" fill="#5070c8"/>
<circle cx="456.2" cy="374.5" r="1.05" fill="#5070c8"/>
<circle cx="460.3" cy="375.9" r="1.05" fill="#5070c8"/>
<circle cx="464.8" cy="374.5" r="1.05" fill="#5070c8"/>
<circle cx="467.9" cy="374.7" r="1.05" fill="#5070c8"/>
<circle cx="318.3" cy="378.6" r="1.05" fill="#9a55b3"/>
<circle cx="323.1" cy="377.9" r="1.05" fill="#9a55b3"/>
<circle cx="328.8" cy="380.8" r="1.05" fill="#9a55b3"/>
<circle cx="334" cy="380.1" r="1.05" fill="#9a55b3"/>
<circle cx="339" cy="383.3" r="1.05" fill="#9a55b3"/>
<circle cx="344.2" cy="379.9" r="1.05" fill="#9a55b3"/>
<circle cx="349.4" cy="380.5" r="1.05" fill="#9a55b3"/>
<circle cx="354.5" cy="378.2" r="1.05" fill="#9a55b3"/>
<circle cx="359" cy="380.3" r="1.05" fill="#9a55b3"/>
<circle cx="363.2" cy="378.3" r="1.05" fill="#9a55b3"/>
<circle cx="367.8" cy="381.6" r="1.05" fill="#9a55b3"/>
<circle cx="372.5" cy="378.2" r="1.05" fill="#9a55b3"/>
<circle cx="376.9" cy="378.1" r="1.05" fill="#9a55b3"/>
<circle cx="381.6" cy="377.8" r="1.05" fill="#9a55b3"/>
<circle cx="386.1" cy="375.8" r="1.05" fill="#9a55b3"/>
<circle cx="391.4" cy="377.8" r="1.05" fill="#9a55b3"/>
<circle cx="396.9" cy="377.2" r="1.05" fill="#9a55b3"/>
<circle cx="401.7" cy="378.5" r="1.05" fill="#9a55b3"/>
<circle cx="406.6" cy="376.7" r="1.05" fill="#9a55b3"/>
<circle cx="412.4" cy="375.5" r="1.05" fill="#9a55b3"/>
<circle cx="416.9" cy="376.4" r="1.05" fill="#9a55b3"/>
<circle cx="422" cy="376" r="1.05" fill="#9a55b3"/>
<circle cx="426.4" cy="376" r="1.05" fill="#9a55b3"/>
<circle cx="431.1" cy="374.4" r="1.05" fill="#9a55b3"/>
<circle cx="435.9" cy="378.8" r="1.05" fill="#9a55b3"/>
<circle cx="441.7" cy="372.7" r="1.05" fill="#9a55b3"/>
<circle cx="446.4" cy="376.9" r="1.05" fill="#9a55b3"/>
<circle cx="450.5" cy="376" r="1.05" fill="#9a55b3"/>
<circle cx="455.8" cy="374.4" r="1.05" fill="#9a55b3"/>
<circle cx="460" cy="375.9" r="1.05" fill="#9a55b3"/>
<circle cx="464.5" cy="375.6" r="1.05" fill="#9a55b3"/>
<circle cx="315.8" cy="372.8" r="1.05" fill="#f0d24c"/>
<circle cx="320.3" cy="371.1" r="1.05" fill="#f0d24c"/>
<circle cx="326.6" cy="373.7" r="1.05" fill="#f0d24c"/>
<circle cx="332.6" cy="376.1" r="1.05" fill="#f0d24c"/>
<circle cx="336.7" cy="374.5" r="1.05" fill="#f0d24c"/>
<circle cx="341.5" cy="377.4" r="1.05" fill="#f0d24c"/>
<circle cx="346.1" cy="376.4" r="1.05" fill="#f0d24c"/>
<circle cx="350.9" cy="379.4" r="1.05" fill="#f0d24c"/>
<circle cx="355.1" cy="377.5" r="1.05" fill="#f0d24c"/>
<circle cx="360.6" cy="377.7" r="1.05" fill="#f0d24c"/>
<circle cx="364.7" cy="375.4" r="1.05" fill="#f0d24c"/>
<circle cx="369.7" cy="372.3" r="1.05" fill="#f0d24c"/>
<circle cx="375.6" cy="377" r="1.05" fill="#f0d24c"/>
<circle cx="380.8" cy="376.4" r="1.05" fill="#f0d24c"/>
<circle cx="385.9" cy="376.3" r="1.05" fill="#f0d24c"/>
<circle cx="390.5" cy="378.7" r="1.05" fill="#f0d24c"/>
<circle cx="396.5" cy="376" r="1.05" fill="#f0d24c"/>
<circle cx="402.1" cy="375.3" r="1.05" fill="#f0d24c"/>
<circle cx="408.1" cy="374.1" r="1.05" fill="#f0d24c"/>
<circle cx="412.2" cy="375.9" r="1.05" fill="#f0d24c"/>
<circle cx="417.3" cy="377.4" r="1.05" fill="#f0d24c"/>
<circle cx="423.4" cy="375.4" r="1.05" fill="#f0d24c"/>
<circle cx="429.1" cy="376" r="1.05" fill="#f0d24c"/>
<circle cx="433.5" cy="374" r="1.05" fill="#f0d24c"/>
<circle cx="438.9" cy="374" r="1.05" fill="#f0d24c"/>
<circle cx="443.4" cy="376.9" r="1.05" fill="#f0d24c"/>
<circle cx="448.2" cy="375.1" r="1.05" fill="#f0d24c"/>
<circle cx="452.6" cy="374.3" r="1.05" fill="#f0d24c"/>
<circle cx="458.4" cy="376.7" r="1.05" fill="#f0d24c"/>
<circle cx="463.1" cy="376.5" r="1.05" fill="#f0d24c"/>
<circle cx="316.6" cy="381.3" r="1.05" fill="#f39b5a"/>
<circle cx="321.5" cy="377.7" r="1.05" fill="#f39b5a"/>
<circle cx="326.3" cy="377.6" r="1.05" fill="#f39b5a"/>
<circle cx="332.1" cy="382" r="1.05" fill="#f39b5a"/>
<circle cx="337.5" cy="381.1" r="1.05" fill="#f39b5a"/>
<circle cx="342.6" cy="381.5" r="1.05" fill="#f39b5a"/>
<circle cx="347.4" cy="378.5" r="1.05" fill="#f39b5a"/>
<circle cx="352.3" cy="379.9" r="1.05" fill="#f39b5a"/>
<circle cx="356.1" cy="378.8" r="1.05" fill="#f39b5a"/>
<circle cx="361.6" cy="376.9" r="1.05" fill="#f39b5a"/>
<circle cx="367.1" cy="375.1" r="1.05" fill="#f39b5a"/>
<circle cx="371.2" cy="380.1" r="1.05" fill="#f39b5a"/>
<circle cx="376.1" cy="377.5" r="1.05" fill="#f39b5a"/>
<circle cx="380.8" cy="377.1" r="1.05" fill="#f39b5a"/>
<circle cx="385.7" cy="375.7" r="1.05" fill="#f39b5a"/>
<circle cx="391.5" cy="376.3" r="1.05" fill="#f39b5a"/>
<circle cx="396.7" cy="375.9" r="1.05" fill="#f39b5a"/>
<circle cx="402" cy="374.3" r="1.05" fill="#f39b5a"/>
<circle cx="407.1" cy="374.2" r="1.05" fill="#f39b5a"/>
<circle cx="411.7" cy="375" r="1.05" fill="#f39b5a"/>
<circle cx="416" cy="376.6" r="1.05" fill="#f39b5a"/>
<circle cx="420.2" cy="375.8" r="1.05" fill="#f39b5a"/>
<circle cx="424.5" cy="373.9" r="1.05" fill="#f39b5a"/>
<circle cx="428.8" cy="377.9" r="1.05" fill="#f39b5a"/>
<circle cx="433.7" cy="377.3" r="1.05" fill="#f39b5a"/>
<circle cx="438.3" cy="376.3" r="1.05" fill="#f39b5a"/>
<circle cx="442.4" cy="372.7" r="1.05" fill="#f39b5a"/>
<circle cx="447.2" cy="375.5" r="1.05" fill="#f39b5a"/>
<circle cx="452.8" cy="375.7" r="1.05" fill="#f39b5a"/>
<circle cx="456.6" cy="375.9" r="1.05" fill="#f39b5a"/>
<circle cx="461.9" cy="375.9" r="1.05" fill="#f39b5a"/>
<circle cx="466.7" cy="373.5" r="1.05" fill="#f39b5a"/>
<circle cx="318.1" cy="382.4" r="1.05" fill="#e9654e"/>
<circle cx="324" cy="382.4" r="1.05" fill="#e9654e"/>
<circle cx="329.5" cy="383" r="1.05" fill="#e9654e"/>
<circle cx="334.6" cy="385.5" r="1.05" fill="#e9654e"/>
<circle cx="339.7" cy="387.1" r="1.05" fill="#e9654e"/>
<circle cx="344.2" cy="382.7" r="1.05" fill="#e9654e"/>
<circle cx="348.9" cy="384.3" r="1.05" fill="#e9654e"/>
<circle cx="355" cy="384.7" r="1.05" fill="#e9654e"/>
<circle cx="360.9" cy="380.7" r="1.05" fill="#e9654e"/>
<circle cx="366.1" cy="381.3" r="1.05" fill="#e9654e"/>
<circle cx="370.5" cy="382.4" r="1.05" fill="#e9654e"/>
<circle cx="376.8" cy="379.3" r="1.05" fill="#e9654e"/>
<circle cx="382.4" cy="382.1" r="1.05" fill="#e9654e"/>
<circle cx="387.9" cy="381.8" r="1.05" fill="#e9654e"/>
<circle cx="392.8" cy="381.1" r="1.05" fill="#e9654e"/>
<circle cx="397.8" cy="380.1" r="1.05" fill="#e9654e"/>
<circle cx="403.1" cy="378.8" r="1.05" fill="#e9654e"/>
<circle cx="408.6" cy="376.4" r="1.05" fill="#e9654e"/>
<circle cx="414.1" cy="380.5" r="1.05" fill="#e9654e"/>
<circle cx="418.2" cy="378.2" r="1.05" fill="#e9654e"/>
<circle cx="422.7" cy="381.7" r="1.05" fill="#e9654e"/>
<circle cx="428.7" cy="379.5" r="1.05" fill="#e9654e"/>
<circle cx="434" cy="380" r="1.05" fill="#e9654e"/>
<circle cx="439.6" cy="378.6" r="1.05" fill="#e9654e"/>
<circle cx="444.1" cy="379.4" r="1.05" fill="#e9654e"/>
<circle cx="448.6" cy="380.1" r="1.05" fill="#e9654e"/>
<circle cx="454.2" cy="377.9" r="1.05" fill="#e9654e"/>
<circle cx="459.5" cy="378.4" r="1.05" fill="#e9654e"/>
<circle cx="463.7" cy="379.1" r="1.05" fill="#e9654e"/>
<polyline points="314.9,379.5 316.7,379.1 322.5,376.7 330.7,378.8 347,379.5 358.7,377.9 382,376 405.5,374.9 428.8,374.9 452.2,374.2 468.2,374.9" fill="none" stroke="#111" stroke-width="1.7" stroke-linejoin="round"/>
<rect x="314.5" y="351.5" width="154" height="37" fill="none" stroke="#8c8c8c" stroke-width="1"/>
<line x1="345.6" y1="388.5" x2="345.6" y2="385.5" stroke="#8c8c8c" stroke-width="1"/>
<line x1="376.2" y1="388.5" x2="376.2" y2="385.5" stroke="#8c8c8c" stroke-width="1"/>
<line x1="406.9" y1="388.5" x2="406.9" y2="385.5" stroke="#8c8c8c" stroke-width="1"/>
<line x1="437.5" y1="388.5" x2="437.5" y2="385.5" stroke="#8c8c8c" stroke-width="1"/>
<text transform="translate(314.4,400.8) scale(0.88,1)" font-size="10.4" text-anchor="middle" fill="#2b2b2b">&#8722;20</text>
<text transform="translate(345.6,400.8) scale(0.88,1)" font-size="10.4" text-anchor="middle" fill="#2b2b2b">0</text>
<text transform="translate(376.2,400.8) scale(0.88,1)" font-size="10.4" text-anchor="middle" fill="#2b2b2b">20</text>
<text transform="translate(406.9,400.8) scale(0.88,1)" font-size="10.4" text-anchor="middle" fill="#2b2b2b">40</text>
<text transform="translate(437.5,400.8) scale(0.88,1)" font-size="10.4" text-anchor="middle" fill="#2b2b2b">60</text>
<text transform="translate(468.2,400.8) scale(0.88,1)" font-size="10.4" text-anchor="middle" fill="#2b2b2b">80</text>
<line x1="345.6" y1="351.5" x2="345.6" y2="348.5" stroke="#8c8c8c"/>
<line x1="376.2" y1="351.5" x2="376.2" y2="348.5" stroke="#8c8c8c"/>
<line x1="406.9" y1="351.5" x2="406.9" y2="348.5" stroke="#8c8c8c"/>
<line x1="437.5" y1="351.5" x2="437.5" y2="348.5" stroke="#8c8c8c"/>
<line x1="314.5" y1="359" x2="317" y2="359" stroke="#8c8c8c"/>
<text transform="translate(311,362.6) scale(0.88,1)" font-size="10.4" text-anchor="end" fill="#2b2b2b">2</text>
<line x1="314.5" y1="384.5" x2="317" y2="384.5" stroke="#8c8c8c"/>
<text transform="translate(311,388.1) scale(0.88,1)" font-size="10.4" text-anchor="end" fill="#2b2b2b">0</text>
<text font-size="10.4" text-anchor="middle" fill="#2b2b2b" transform="translate(287,370) rotate(-90) scale(0.88,1)"><tspan font-style="italic">ρ</tspan><tspan font-size="7" dy="2.5">A</tspan><tspan dy="-2.5"> (m</tspan><tspan font-size="7" dy="-3.5">−1</tspan><tspan dy="3.5">)</tspan></text>
<text transform="translate(391.5,414.5) scale(0.88,1)" font-size="10.4" text-anchor="middle" fill="#2b2b2b"><tspan font-style="italic">t</tspan> &#8211; <tspan font-style="italic">t</tspan>* (h)</text>
<polygon points="527.5,278.8 531.3,276.9 535.1,275.2 539,274 542.8,272.8 546.6,273.1 550.5,273.8 554.3,273.5 558.1,271.3 561.9,269.4 565.8,267.8 569.6,266.2 573.4,265.9 577.2,267.1 581,266.6 584.9,264.8 588.7,263.2 592.5,261.9 596.4,261.6 600.2,263.5 604,262.4 607.8,260.8 611.6,259.8 615.5,258.9 619.3,258.1 623.1,257.8 627,257.5 630.8,257.2 634.6,256.6 638.4,256.1 642.2,255.5 646.1,255.1 649.9,254.6 653.7,254.1 657.5,254 661.4,253.8 665.2,253.6 669,252.3 672.9,252.1 676.7,252.1 680.5,252.2 680.5,262.2 676.7,262.3 672.9,262.3 669,262.7 665.2,264.1 661.4,264.4 657.5,264.7 653.7,265 649.9,265.6 646.1,266.2 642.2,266.8 638.4,267.4 634.6,268.1 630.8,268.8 627,269.3 623.1,269.7 619.3,270.1 615.5,270.9 611.6,271.8 607.8,272.8 604,274.4 600.2,275.5 596.4,273.6 592.5,273.9 588.7,275.2 584.9,276.8 581,278.6 577.2,279.1 573.4,277.9 569.6,278.2 565.8,279.8 561.9,281.4 558.1,283.3 554.3,285 550.5,284.8 546.6,283.6 542.8,282.8 539,283.5 535.1,284.2 531.3,285.4 527.5,286.8" fill="#cdced1"/>
<circle cx="527.7" cy="273" r="0.85" fill="#82c77a"/>
<circle cx="532" cy="277.7" r="0.85" fill="#82c77a"/>
<circle cx="536.3" cy="277.3" r="0.85" fill="#82c77a"/>
<circle cx="540.5" cy="275.5" r="0.85" fill="#82c77a"/>
<circle cx="544.4" cy="277.6" r="0.85" fill="#82c77a"/>
<circle cx="548.3" cy="276.8" r="0.85" fill="#82c77a"/>
<circle cx="551.7" cy="275.2" r="0.85" fill="#82c77a"/>
<circle cx="555.9" cy="277.1" r="0.85" fill="#82c77a"/>
<circle cx="559.3" cy="272.6" r="0.85" fill="#82c77a"/>
<circle cx="563.2" cy="272.9" r="0.85" fill="#82c77a"/>
<circle cx="567.3" cy="267.4" r="0.85" fill="#82c77a"/>
<circle cx="571" cy="266.1" r="0.85" fill="#82c77a"/>
<circle cx="574.6" cy="264.2" r="0.85" fill="#82c77a"/>
<circle cx="577.7" cy="265.7" r="0.85" fill="#82c77a"/>
<circle cx="582.2" cy="266" r="0.85" fill="#82c77a"/>
<circle cx="586.5" cy="261.8" r="0.85" fill="#82c77a"/>
<circle cx="590.9" cy="259.1" r="0.85" fill="#82c77a"/>
<circle cx="594.4" cy="260.5" r="0.85" fill="#82c77a"/>
<circle cx="598.7" cy="258.9" r="0.85" fill="#82c77a"/>
<circle cx="602.3" cy="262.5" r="0.85" fill="#82c77a"/>
<circle cx="606.1" cy="257.7" r="0.85" fill="#82c77a"/>
<circle cx="610.3" cy="259.3" r="0.85" fill="#82c77a"/>
<circle cx="613.7" cy="257.5" r="0.85" fill="#82c77a"/>
<circle cx="616.9" cy="255.3" r="0.85" fill="#82c77a"/>
<circle cx="620.5" cy="255.4" r="0.85" fill="#82c77a"/>
<circle cx="624" cy="254.6" r="0.85" fill="#82c77a"/>
<circle cx="627.5" cy="254.2" r="0.85" fill="#82c77a"/>
<circle cx="631" cy="254.5" r="0.85" fill="#82c77a"/>
<circle cx="635.3" cy="253.1" r="0.85" fill="#82c77a"/>
<circle cx="638.8" cy="252.7" r="0.85" fill="#82c77a"/>
<circle cx="643" cy="254.3" r="0.85" fill="#82c77a"/>
<circle cx="646.5" cy="251.1" r="0.85" fill="#82c77a"/>
<circle cx="650.1" cy="252.1" r="0.85" fill="#82c77a"/>
<circle cx="653.7" cy="252.6" r="0.85" fill="#82c77a"/>
<circle cx="657.9" cy="248.9" r="0.85" fill="#82c77a"/>
<circle cx="661.1" cy="250.9" r="0.85" fill="#82c77a"/>
<circle cx="664.7" cy="249.9" r="0.85" fill="#82c77a"/>
<circle cx="668.7" cy="248.5" r="0.85" fill="#82c77a"/>
<circle cx="672.2" cy="250.4" r="0.85" fill="#82c77a"/>
<circle cx="676.1" cy="249.2" r="0.85" fill="#82c77a"/>
<circle cx="680.5" cy="248.5" r="0.85" fill="#82c77a"/>
<circle cx="529.1" cy="276.8" r="0.85" fill="#d64b8f"/>
<circle cx="531.9" cy="279.9" r="0.85" fill="#d64b8f"/>
<circle cx="535" cy="273.7" r="0.85" fill="#d64b8f"/>
<circle cx="538.3" cy="274.7" r="0.85" fill="#d64b8f"/>
<circle cx="541.6" cy="276.5" r="0.85" fill="#d64b8f"/>
<circle cx="544.3" cy="272.3" r="0.85" fill="#d64b8f"/>
<circle cx="547.5" cy="274.6" r="0.85" fill="#d64b8f"/>
<circle cx="550.8" cy="272.4" r="0.85" fill="#d64b8f"/>
<circle cx="553.4" cy="277.5" r="0.85" fill="#d64b8f"/>
<circle cx="555.9" cy="269.4" r="0.85" fill="#d64b8f"/>
<circle cx="559.2" cy="272.6" r="0.85" fill="#d64b8f"/>
<circle cx="561.9" cy="272.1" r="0.85" fill="#d64b8f"/>
<circle cx="565.5" cy="268.9" r="0.85" fill="#d64b8f"/>
<circle cx="568.6" cy="268.1" r="0.85" fill="#d64b8f"/>
<circle cx="571.3" cy="269.4" r="0.85" fill="#d64b8f"/>
<circle cx="573.7" cy="270" r="0.85" fill="#d64b8f"/>
<circle cx="576.5" cy="272" r="0.85" fill="#d64b8f"/>
<circle cx="579.2" cy="267.2" r="0.85" fill="#d64b8f"/>
<circle cx="581.8" cy="267.5" r="0.85" fill="#d64b8f"/>
<circle cx="584.9" cy="267.9" r="0.85" fill="#d64b8f"/>
<circle cx="587.7" cy="266.8" r="0.85" fill="#d64b8f"/>
<circle cx="590.8" cy="265" r="0.85" fill="#d64b8f"/>
<circle cx="594.1" cy="264.8" r="0.85" fill="#d64b8f"/>
<circle cx="597.4" cy="263.1" r="0.85" fill="#d64b8f"/>
<circle cx="600.4" cy="264" r="0.85" fill="#d64b8f"/>
<circle cx="604" cy="268.1" r="0.85" fill="#d64b8f"/>
<circle cx="606.4" cy="264.8" r="0.85" fill="#d64b8f"/>
<circle cx="609.4" cy="265.8" r="0.85" fill="#d64b8f"/>
<circle cx="612.5" cy="262" r="0.85" fill="#d64b8f"/>
<circle cx="616" cy="260.9" r="0.85" fill="#d64b8f"/>
<circle cx="618.4" cy="260" r="0.85" fill="#d64b8f"/>
<circle cx="621.8" cy="261.7" r="0.85" fill="#d64b8f"/>
<circle cx="625" cy="258.3" r="0.85" fill="#d64b8f"/>
<circle cx="628.1" cy="259.8" r="0.85" fill="#d64b8f"/>
<circle cx="630.9" cy="259.8" r="0.85" fill="#d64b8f"/>
<circle cx="633.7" cy="258" r="0.85" fill="#d64b8f"/>
<circle cx="636.6" cy="259.1" r="0.85" fill="#d64b8f"/>
<circle cx="639.6" cy="257.9" r="0.85" fill="#d64b8f"/>
<circle cx="642.2" cy="256.7" r="0.85" fill="#d64b8f"/>
<circle cx="645.5" cy="257.7" r="0.85" fill="#d64b8f"/>
<circle cx="649" cy="257.2" r="0.85" fill="#d64b8f"/>
<circle cx="651.6" cy="258.1" r="0.85" fill="#d64b8f"/>
<circle cx="654.9" cy="256.9" r="0.85" fill="#d64b8f"/>
<circle cx="657.8" cy="256.9" r="0.85" fill="#d64b8f"/>
<circle cx="661.3" cy="255.8" r="0.85" fill="#d64b8f"/>
<circle cx="663.7" cy="256.9" r="0.85" fill="#d64b8f"/>
<circle cx="666.3" cy="257" r="0.85" fill="#d64b8f"/>
<circle cx="669.4" cy="256.4" r="0.85" fill="#d64b8f"/>
<circle cx="672.9" cy="255.7" r="0.85" fill="#d64b8f"/>
<circle cx="675.9" cy="254.5" r="0.85" fill="#d64b8f"/>
<circle cx="678.5" cy="255.4" r="0.85" fill="#d64b8f"/>
<circle cx="527.8" cy="278.8" r="0.85" fill="#9a55b3"/>
<circle cx="531.6" cy="272.5" r="0.85" fill="#9a55b3"/>
<circle cx="534.9" cy="274" r="0.85" fill="#9a55b3"/>
<circle cx="538.2" cy="271.7" r="0.85" fill="#9a55b3"/>
<circle cx="541.5" cy="268" r="0.85" fill="#9a55b3"/>
<circle cx="544.9" cy="269" r="0.85" fill="#9a55b3"/>
<circle cx="547.5" cy="269.2" r="0.85" fill="#9a55b3"/>
<circle cx="550.6" cy="272.9" r="0.85" fill="#9a55b3"/>
<circle cx="553.4" cy="274.1" r="0.85" fill="#9a55b3"/>
<circle cx="556.4" cy="272.8" r="0.85" fill="#9a55b3"/>
<circle cx="560.3" cy="272.4" r="0.85" fill="#9a55b3"/>
<circle cx="563.9" cy="269.9" r="0.85" fill="#9a55b3"/>
<circle cx="566.4" cy="267" r="0.85" fill="#9a55b3"/>
<circle cx="569.6" cy="267.1" r="0.85" fill="#9a55b3"/>
<circle cx="572.4" cy="267.8" r="0.85" fill="#9a55b3"/>
<circle cx="575.5" cy="268.3" r="0.85" fill="#9a55b3"/>
<circle cx="578.7" cy="269.6" r="0.85" fill="#9a55b3"/>
<circle cx="581.9" cy="264.9" r="0.85" fill="#9a55b3"/>
<circle cx="585.1" cy="265.8" r="0.85" fill="#9a55b3"/>
<circle cx="587.9" cy="264.8" r="0.85" fill="#9a55b3"/>
<circle cx="591" cy="264.3" r="0.85" fill="#9a55b3"/>
<circle cx="594.1" cy="265.5" r="0.85" fill="#9a55b3"/>
<circle cx="597.5" cy="263.2" r="0.85" fill="#9a55b3"/>
<circle cx="601" cy="263" r="0.85" fill="#9a55b3"/>
<circle cx="604.1" cy="263.4" r="0.85" fill="#9a55b3"/>
<circle cx="607" cy="262.5" r="0.85" fill="#9a55b3"/>
<circle cx="609.9" cy="262.2" r="0.85" fill="#9a55b3"/>
<circle cx="613" cy="262.4" r="0.85" fill="#9a55b3"/>
<circle cx="616.1" cy="260.5" r="0.85" fill="#9a55b3"/>
<circle cx="619.5" cy="259.3" r="0.85" fill="#9a55b3"/>
<circle cx="622.9" cy="260.5" r="0.85" fill="#9a55b3"/>
<circle cx="626" cy="259.1" r="0.85" fill="#9a55b3"/>
<circle cx="628.7" cy="259.7" r="0.85" fill="#9a55b3"/>
<circle cx="632.5" cy="260.9" r="0.85" fill="#9a55b3"/>
<circle cx="636.3" cy="258" r="0.85" fill="#9a55b3"/>
<circle cx="639.3" cy="258.8" r="0.85" fill="#9a55b3"/>
<circle cx="642.6" cy="258.7" r="0.85" fill="#9a55b3"/>
<circle cx="646" cy="257.5" r="0.85" fill="#9a55b3"/>
<circle cx="649.3" cy="256.8" r="0.85" fill="#9a55b3"/>
<circle cx="652.6" cy="256.8" r="0.85" fill="#9a55b3"/>
<circle cx="655.8" cy="254.2" r="0.85" fill="#9a55b3"/>
<circle cx="658.2" cy="255.6" r="0.85" fill="#9a55b3"/>
<circle cx="661.6" cy="255.8" r="0.85" fill="#9a55b3"/>
<circle cx="664.5" cy="257.2" r="0.85" fill="#9a55b3"/>
<circle cx="667.9" cy="254.9" r="0.85" fill="#9a55b3"/>
<circle cx="671.2" cy="253.1" r="0.85" fill="#9a55b3"/>
<circle cx="674.7" cy="255" r="0.85" fill="#9a55b3"/>
<circle cx="677.8" cy="254.8" r="0.85" fill="#9a55b3"/>
<circle cx="529.8" cy="286.7" r="0.85" fill="#5070c8"/>
<circle cx="532.2" cy="286.7" r="0.85" fill="#5070c8"/>
<circle cx="534.8" cy="284.4" r="0.85" fill="#5070c8"/>
<circle cx="536.9" cy="281.1" r="0.85" fill="#5070c8"/>
<circle cx="539.6" cy="284.9" r="0.85" fill="#5070c8"/>
<circle cx="542" cy="283" r="0.85" fill="#5070c8"/>
<circle cx="544.3" cy="283.8" r="0.85" fill="#5070c8"/>
<circle cx="547.2" cy="285.5" r="0.85" fill="#5070c8"/>
<circle cx="550" cy="282.1" r="0.85" fill="#5070c8"/>
<circle cx="552" cy="285.4" r="0.85" fill="#5070c8"/>
<circle cx="555" cy="283.5" r="0.85" fill="#5070c8"/>
<circle cx="558.4" cy="285.6" r="0.85" fill="#5070c8"/>
<circle cx="561.1" cy="280.6" r="0.85" fill="#5070c8"/>
<circle cx="563.6" cy="280.5" r="0.85" fill="#5070c8"/>
<circle cx="566.1" cy="282.9" r="0.85" fill="#5070c8"/>
<circle cx="568.8" cy="285.4" r="0.85" fill="#5070c8"/>
<circle cx="571" cy="280.7" r="0.85" fill="#5070c8"/>
<circle cx="574" cy="283.5" r="0.85" fill="#5070c8"/>
<circle cx="577" cy="281.5" r="0.85" fill="#5070c8"/>
<circle cx="579.5" cy="280.7" r="0.85" fill="#5070c8"/>
<circle cx="582.5" cy="276.5" r="0.85" fill="#5070c8"/>
<circle cx="584.7" cy="270.6" r="0.85" fill="#5070c8"/>
<circle cx="587.5" cy="270.3" r="0.85" fill="#5070c8"/>
<circle cx="590.4" cy="266.3" r="0.85" fill="#5070c8"/>
<circle cx="592.6" cy="264.8" r="0.85" fill="#5070c8"/>
<circle cx="595" cy="266.1" r="0.85" fill="#5070c8"/>
<circle cx="597.9" cy="264.5" r="0.85" fill="#5070c8"/>
<circle cx="600.8" cy="268.9" r="0.85" fill="#5070c8"/>
<circle cx="603.4" cy="268.3" r="0.85" fill="#5070c8"/>
<circle cx="606.1" cy="261.5" r="0.85" fill="#5070c8"/>
<circle cx="608.7" cy="263.8" r="0.85" fill="#5070c8"/>
<circle cx="611.6" cy="262.8" r="0.85" fill="#5070c8"/>
<circle cx="614.4" cy="263.7" r="0.85" fill="#5070c8"/>
<circle cx="617.6" cy="261.4" r="0.85" fill="#5070c8"/>
<circle cx="620.1" cy="263.9" r="0.85" fill="#5070c8"/>
<circle cx="623.2" cy="261.1" r="0.85" fill="#5070c8"/>
<circle cx="625.7" cy="260.4" r="0.85" fill="#5070c8"/>
<circle cx="628.1" cy="261.1" r="0.85" fill="#5070c8"/>
<circle cx="631.1" cy="261.4" r="0.85" fill="#5070c8"/>
<circle cx="633.1" cy="261.8" r="0.85" fill="#5070c8"/>
<circle cx="635.5" cy="260.7" r="0.85" fill="#5070c8"/>
<circle cx="637.9" cy="259.3" r="0.85" fill="#5070c8"/>
<circle cx="640.8" cy="258.6" r="0.85" fill="#5070c8"/>
<circle cx="644.2" cy="259.6" r="0.85" fill="#5070c8"/>
<circle cx="646.5" cy="260" r="0.85" fill="#5070c8"/>
<circle cx="649.5" cy="257.9" r="0.85" fill="#5070c8"/>
<circle cx="652.1" cy="257.9" r="0.85" fill="#5070c8"/>
<circle cx="654.8" cy="257.9" r="0.85" fill="#5070c8"/>
<circle cx="657.3" cy="256.1" r="0.85" fill="#5070c8"/>
<circle cx="659.9" cy="259" r="0.85" fill="#5070c8"/>
<circle cx="662.5" cy="259.3" r="0.85" fill="#5070c8"/>
<circle cx="665.2" cy="257.2" r="0.85" fill="#5070c8"/>
<circle cx="667.3" cy="255.4" r="0.85" fill="#5070c8"/>
<circle cx="669.6" cy="256.7" r="0.85" fill="#5070c8"/>
<circle cx="672.7" cy="256.3" r="0.85" fill="#5070c8"/>
<circle cx="675.1" cy="255.2" r="0.85" fill="#5070c8"/>
<circle cx="677.7" cy="258.5" r="0.85" fill="#5070c8"/>
<circle cx="680.4" cy="254.1" r="0.85" fill="#5070c8"/>
<circle cx="529.6" cy="283.1" r="0.85" fill="#8fd3e4"/>
<circle cx="532.8" cy="284.5" r="0.85" fill="#8fd3e4"/>
<circle cx="536.1" cy="280.8" r="0.85" fill="#8fd3e4"/>
<circle cx="539.8" cy="279.5" r="0.85" fill="#8fd3e4"/>
<circle cx="542.8" cy="281.9" r="0.85" fill="#8fd3e4"/>
<circle cx="545.9" cy="284.5" r="0.85" fill="#8fd3e4"/>
<circle cx="549" cy="282.2" r="0.85" fill="#8fd3e4"/>
<circle cx="551.7" cy="280.9" r="0.85" fill="#8fd3e4"/>
<circle cx="555.3" cy="283.2" r="0.85" fill="#8fd3e4"/>
<circle cx="558.5" cy="278.5" r="0.85" fill="#8fd3e4"/>
<circle cx="561.3" cy="278.5" r="0.85" fill="#8fd3e4"/>
<circle cx="564.2" cy="274.6" r="0.85" fill="#8fd3e4"/>
<circle cx="567.1" cy="273.2" r="0.85" fill="#8fd3e4"/>
<circle cx="569.5" cy="274.1" r="0.85" fill="#8fd3e4"/>
<circle cx="572.9" cy="273.9" r="0.85" fill="#8fd3e4"/>
<circle cx="575.6" cy="273.5" r="0.85" fill="#8fd3e4"/>
<circle cx="578.3" cy="276.8" r="0.85" fill="#8fd3e4"/>
<circle cx="581.5" cy="274.1" r="0.85" fill="#8fd3e4"/>
<circle cx="584.8" cy="273" r="0.85" fill="#8fd3e4"/>
<circle cx="588.3" cy="270.7" r="0.85" fill="#8fd3e4"/>
<circle cx="590.9" cy="270.4" r="0.85" fill="#8fd3e4"/>
<circle cx="593.5" cy="270.4" r="0.85" fill="#8fd3e4"/>
<circle cx="596.3" cy="268.2" r="0.85" fill="#8fd3e4"/>
<circle cx="599.9" cy="272.6" r="0.85" fill="#8fd3e4"/>
<circle cx="603.1" cy="271.8" r="0.85" fill="#8fd3e4"/>
<circle cx="606.3" cy="270.9" r="0.85" fill="#8fd3e4"/>
<circle cx="608.8" cy="269.4" r="0.85" fill="#8fd3e4"/>
<circle cx="611.7" cy="269.2" r="0.85" fill="#8fd3e4"/>
<circle cx="614.7" cy="266.7" r="0.85" fill="#8fd3e4"/>
<circle cx="618.3" cy="267.4" r="0.85" fill="#8fd3e4"/>
<circle cx="621.7" cy="267.4" r="0.85" fill="#8fd3e4"/>
<circle cx="624.3" cy="268.1" r="0.85" fill="#8fd3e4"/>
<circle cx="627.2" cy="267.6" r="0.85" fill="#8fd3e4"/>
<circle cx="630" cy="265.9" r="0.85" fill="#8fd3e4"/>
<circle cx="633" cy="265.1" r="0.85" fill="#8fd3e4"/>
<circle cx="636.3" cy="265.5" r="0.85" fill="#8fd3e4"/>
<circle cx="639.1" cy="264.5" r="0.85" fill="#8fd3e4"/>
<circle cx="642.3" cy="263.1" r="0.85" fill="#8fd3e4"/>
<circle cx="644.9" cy="263.3" r="0.85" fill="#8fd3e4"/>
<circle cx="648.3" cy="264.7" r="0.85" fill="#8fd3e4"/>
<circle cx="651.4" cy="261.4" r="0.85" fill="#8fd3e4"/>
<circle cx="655" cy="264.1" r="0.85" fill="#8fd3e4"/>
<circle cx="658" cy="263.6" r="0.85" fill="#8fd3e4"/>
<circle cx="660.9" cy="261.7" r="0.85" fill="#8fd3e4"/>
<circle cx="664" cy="262.1" r="0.85" fill="#8fd3e4"/>
<circle cx="666.6" cy="261.2" r="0.85" fill="#8fd3e4"/>
<circle cx="669.6" cy="261.1" r="0.85" fill="#8fd3e4"/>
<circle cx="673" cy="259.6" r="0.85" fill="#8fd3e4"/>
<circle cx="675.8" cy="259.7" r="0.85" fill="#8fd3e4"/>
<circle cx="679.2" cy="261.1" r="0.85" fill="#8fd3e4"/>
<circle cx="528.4" cy="272.8" r="0.85" fill="#f39b5a"/>
<circle cx="531.8" cy="279" r="0.85" fill="#f39b5a"/>
<circle cx="535.4" cy="275.6" r="0.85" fill="#f39b5a"/>
<circle cx="538" cy="276" r="0.85" fill="#f39b5a"/>
<circle cx="541.3" cy="273.2" r="0.85" fill="#f39b5a"/>
<circle cx="543.9" cy="273" r="0.85" fill="#f39b5a"/>
<circle cx="547.8" cy="277" r="0.85" fill="#f39b5a"/>
<circle cx="551.4" cy="270.7" r="0.85" fill="#f39b5a"/>
<circle cx="554.4" cy="272.1" r="0.85" fill="#f39b5a"/>
<circle cx="558.1" cy="272" r="0.85" fill="#f39b5a"/>
<circle cx="560.9" cy="271.9" r="0.85" fill="#f39b5a"/>
<circle cx="564.9" cy="265.5" r="0.85" fill="#f39b5a"/>
<circle cx="567.3" cy="266.7" r="0.85" fill="#f39b5a"/>
<circle cx="571.3" cy="264.9" r="0.85" fill="#f39b5a"/>
<circle cx="574" cy="266.1" r="0.85" fill="#f39b5a"/>
<circle cx="578.1" cy="268.2" r="0.85" fill="#f39b5a"/>
<circle cx="581.4" cy="263.5" r="0.85" fill="#f39b5a"/>
<circle cx="584.1" cy="264.1" r="0.85" fill="#f39b5a"/>
<circle cx="588.5" cy="261.1" r="0.85" fill="#f39b5a"/>
<circle cx="591.1" cy="261.4" r="0.85" fill="#f39b5a"/>
<circle cx="594.7" cy="265.5" r="0.85" fill="#f39b5a"/>
<circle cx="597.8" cy="268.6" r="0.85" fill="#f39b5a"/>
<circle cx="601.6" cy="270.2" r="0.85" fill="#f39b5a"/>
<circle cx="605.3" cy="271.4" r="0.85" fill="#f39b5a"/>
<circle cx="608.5" cy="274.3" r="0.85" fill="#f39b5a"/>
<circle cx="612.4" cy="271" r="0.85" fill="#f39b5a"/>
<circle cx="615.2" cy="270.5" r="0.85" fill="#f39b5a"/>
<circle cx="618.5" cy="273.2" r="0.85" fill="#f39b5a"/>
<circle cx="622" cy="273.9" r="0.85" fill="#f39b5a"/>
<circle cx="625.5" cy="271.5" r="0.85" fill="#f39b5a"/>
<circle cx="629" cy="268.6" r="0.85" fill="#f39b5a"/>
<circle cx="633" cy="272" r="0.85" fill="#f39b5a"/>
<circle cx="636.2" cy="269.2" r="0.85" fill="#f39b5a"/>
<circle cx="640.3" cy="269.8" r="0.85" fill="#f39b5a"/>
<circle cx="644" cy="270.2" r="0.85" fill="#f39b5a"/>
<circle cx="647.2" cy="267.9" r="0.85" fill="#f39b5a"/>
<circle cx="650.3" cy="268.7" r="0.85" fill="#f39b5a"/>
<circle cx="653.5" cy="268.8" r="0.85" fill="#f39b5a"/>
<circle cx="657.2" cy="268.4" r="0.85" fill="#f39b5a"/>
<circle cx="660.7" cy="265.7" r="0.85" fill="#f39b5a"/>
<circle cx="664.2" cy="265.3" r="0.85" fill="#f39b5a"/>
<circle cx="667.6" cy="264.6" r="0.85" fill="#f39b5a"/>
<circle cx="671.3" cy="264.3" r="0.85" fill="#f39b5a"/>
<circle cx="675.3" cy="264.8" r="0.85" fill="#f39b5a"/>
<circle cx="678.9" cy="264" r="0.85" fill="#f39b5a"/>
<circle cx="529.1" cy="276.7" r="0.85" fill="#f0d24c"/>
<circle cx="532.6" cy="278.6" r="0.85" fill="#f0d24c"/>
<circle cx="537" cy="280.1" r="0.85" fill="#f0d24c"/>
<circle cx="541.1" cy="273.4" r="0.85" fill="#f0d24c"/>
<circle cx="545.2" cy="275.4" r="0.85" fill="#f0d24c"/>
<circle cx="549.3" cy="280.7" r="0.85" fill="#f0d24c"/>
<circle cx="552.9" cy="278.8" r="0.85" fill="#f0d24c"/>
<circle cx="556.3" cy="283.9" r="0.85" fill="#f0d24c"/>
<circle cx="560.1" cy="278.7" r="0.85" fill="#f0d24c"/>
<circle cx="563.4" cy="274.6" r="0.85" fill="#f0d24c"/>
<circle cx="567.2" cy="275.6" r="0.85" fill="#f0d24c"/>
<circle cx="571" cy="275.9" r="0.85" fill="#f0d24c"/>
<circle cx="574.5" cy="271.9" r="0.85" fill="#f0d24c"/>
<circle cx="578.4" cy="276.6" r="0.85" fill="#f0d24c"/>
<circle cx="582.4" cy="274.3" r="0.85" fill="#f0d24c"/>
<circle cx="586.2" cy="275.7" r="0.85" fill="#f0d24c"/>
<circle cx="589.7" cy="275" r="0.85" fill="#f0d24c"/>
<circle cx="593.4" cy="272" r="0.85" fill="#f0d24c"/>
<circle cx="596.9" cy="276.9" r="0.85" fill="#f0d24c"/>
<circle cx="600.4" cy="276.9" r="0.85" fill="#f0d24c"/>
<circle cx="604.4" cy="277.8" r="0.85" fill="#f0d24c"/>
<circle cx="608.3" cy="278.4" r="0.85" fill="#f0d24c"/>
<circle cx="612.6" cy="278.4" r="0.85" fill="#f0d24c"/>
<circle cx="616.5" cy="277.7" r="0.85" fill="#f0d24c"/>
<circle cx="620.8" cy="278.4" r="0.85" fill="#f0d24c"/>
<circle cx="624.6" cy="276.4" r="0.85" fill="#f0d24c"/>
<circle cx="628.3" cy="275.5" r="0.85" fill="#f0d24c"/>
<circle cx="631.9" cy="275.7" r="0.85" fill="#f0d24c"/>
<circle cx="635.6" cy="276.1" r="0.85" fill="#f0d24c"/>
<circle cx="639.7" cy="276.1" r="0.85" fill="#f0d24c"/>
<circle cx="643.5" cy="275.9" r="0.85" fill="#f0d24c"/>
<circle cx="647.4" cy="270.2" r="0.85" fill="#f0d24c"/>
<circle cx="651.3" cy="270.3" r="0.85" fill="#f0d24c"/>
<circle cx="654.6" cy="271" r="0.85" fill="#f0d24c"/>
<circle cx="658.5" cy="270.7" r="0.85" fill="#f0d24c"/>
<circle cx="662.5" cy="269.1" r="0.85" fill="#f0d24c"/>
<circle cx="666.6" cy="267.1" r="0.85" fill="#f0d24c"/>
<circle cx="670.6" cy="265.4" r="0.85" fill="#f0d24c"/>
<circle cx="674.2" cy="264" r="0.85" fill="#f0d24c"/>
<circle cx="678.5" cy="264" r="0.85" fill="#f0d24c"/>
<circle cx="530.3" cy="286.1" r="0.85" fill="#e9654e"/>
<circle cx="536.9" cy="282.6" r="0.85" fill="#e9654e"/>
<circle cx="544.4" cy="273.3" r="0.85" fill="#e9654e"/>
<circle cx="551.8" cy="274.5" r="0.85" fill="#e9654e"/>
<circle cx="557.4" cy="269.8" r="0.85" fill="#e9654e"/>
<circle cx="564.9" cy="265" r="0.85" fill="#e9654e"/>
<circle cx="571.8" cy="261.5" r="0.85" fill="#e9654e"/>
<circle cx="578.5" cy="264" r="0.85" fill="#e9654e"/>
<circle cx="584.5" cy="259.7" r="0.85" fill="#e9654e"/>
<circle cx="590.4" cy="256.6" r="0.85" fill="#e9654e"/>
<circle cx="596.7" cy="260.5" r="0.85" fill="#e9654e"/>
<circle cx="604.4" cy="259.1" r="0.85" fill="#e9654e"/>
<circle cx="612" cy="257.9" r="0.85" fill="#e9654e"/>
<circle cx="617.7" cy="258" r="0.85" fill="#e9654e"/>
<circle cx="624" cy="258.5" r="0.85" fill="#e9654e"/>
<circle cx="631.8" cy="258.9" r="0.85" fill="#e9654e"/>
<circle cx="638.2" cy="256.3" r="0.85" fill="#e9654e"/>
<circle cx="645.6" cy="254" r="0.85" fill="#e9654e"/>
<circle cx="651.5" cy="256.7" r="0.85" fill="#e9654e"/>
<circle cx="657.4" cy="253" r="0.85" fill="#e9654e"/>
<circle cx="663.6" cy="253.4" r="0.85" fill="#e9654e"/>
<circle cx="670.4" cy="251.8" r="0.85" fill="#e9654e"/>
<circle cx="675.8" cy="253.7" r="0.85" fill="#e9654e"/>
<polyline points="527.3,282.9 534.3,279.9 543.7,277.6 553,279.9 562.4,275.2 571.7,271.3 578.7,273.6 588.1,269.4 595.1,267 600.9,269.9 606.8,267 618.5,264.2 630.1,263.1 641.8,261.2 653.5,259.6 665.2,258.9 669.9,257.2 680.5,257.2" fill="none" stroke="#111" stroke-width="1.7" stroke-linejoin="round"/>
<rect x="527.5" y="236.5" width="153" height="51" fill="none" stroke="#8c8c8c" stroke-width="1"/>
<line x1="558.1" y1="287.5" x2="558.1" y2="284.5" stroke="#8c8c8c" stroke-width="1"/>
<line x1="588.7" y1="287.5" x2="588.7" y2="284.5" stroke="#8c8c8c" stroke-width="1"/>
<line x1="619.3" y1="287.5" x2="619.3" y2="284.5" stroke="#8c8c8c" stroke-width="1"/>
<line x1="649.9" y1="287.5" x2="649.9" y2="284.5" stroke="#8c8c8c" stroke-width="1"/>
<line x1="527.5" y1="262" x2="530" y2="262" stroke="#8c8c8c"/>
<text transform="translate(523,265.6) scale(0.88,1)" font-size="10.4" text-anchor="end" fill="#2b2b2b">0.5</text>
<text transform="translate(523,291.1) scale(0.88,1)" font-size="10.4" text-anchor="end" fill="#2b2b2b">0</text>
<polygon points="527.5,315.7 531.3,315.4 535.1,314.4 539,310.3 542.8,307.2 546.6,305.7 550.5,304.6 554.3,304 558.1,303.3 561.9,301.6 565.8,299.9 569.6,300.4 573.4,300.9 577.2,301 581,300.9 584.9,300.4 588.7,299.3 592.5,300.3 596.4,302.7 600.2,302.8 604,302.4 607.8,301.9 611.6,301.5 615.5,301.2 619.3,300.9 623.1,301.2 627,301.4 630.8,301.7 634.6,302.2 638.4,302.7 642.2,303.2 646.1,303.6 649.9,304 653.7,304.4 657.5,304 661.4,303.6 665.2,303.2 669,303.5 672.9,303.8 676.7,304.1 680.5,304.4 680.5,310.4 676.7,310.1 672.9,309.9 669,309.6 665.2,309.4 661.4,309.8 657.5,310.3 653.7,310.7 649.9,310.4 646.1,310.1 642.2,309.7 638.4,309.3 634.6,308.8 630.8,308.3 627,308.1 623.1,307.9 619.3,307.7 615.5,308 611.6,308.4 607.8,308.9 604,309.4 600.2,312.8 596.4,315.7 592.5,310.8 588.7,307.3 584.9,308.6 581,309.4 577.2,309.7 573.4,309.9 569.6,309.6 565.8,309.4 561.9,311.4 558.1,313.3 554.3,314.8 550.5,316.1 546.6,317.9 542.8,320.2 539,324.1 535.1,328.9 531.3,330.7 527.5,331.7" fill="#cdced1"/>
<circle cx="528.1" cy="318.8" r="0.85" fill="#5070c8"/>
<circle cx="530" cy="322.5" r="0.85" fill="#5070c8"/>
<circle cx="532.6" cy="315.2" r="0.85" fill="#5070c8"/>
<circle cx="535.1" cy="319.6" r="0.85" fill="#5070c8"/>
<circle cx="537.6" cy="307.4" r="0.85" fill="#5070c8"/>
<circle cx="540" cy="309.4" r="0.85" fill="#5070c8"/>
<circle cx="542.1" cy="307" r="0.85" fill="#5070c8"/>
<circle cx="544.9" cy="306.8" r="0.85" fill="#5070c8"/>
<circle cx="547.3" cy="306" r="0.85" fill="#5070c8"/>
<circle cx="549.4" cy="302.8" r="0.85" fill="#5070c8"/>
<circle cx="552.1" cy="302" r="0.85" fill="#5070c8"/>
<circle cx="553.8" cy="299.7" r="0.85" fill="#5070c8"/>
<circle cx="556.4" cy="300.4" r="0.85" fill="#5070c8"/>
<circle cx="558.5" cy="299.1" r="0.85" fill="#5070c8"/>
<circle cx="561.1" cy="301.5" r="0.85" fill="#5070c8"/>
<circle cx="563.9" cy="299.7" r="0.85" fill="#5070c8"/>
<circle cx="566.2" cy="294.3" r="0.85" fill="#5070c8"/>
<circle cx="568.5" cy="298.3" r="0.85" fill="#5070c8"/>
<circle cx="570.2" cy="296.5" r="0.85" fill="#5070c8"/>
<circle cx="572.6" cy="298.5" r="0.85" fill="#5070c8"/>
<circle cx="575.2" cy="297.7" r="0.85" fill="#5070c8"/>
<circle cx="577.5" cy="300.5" r="0.85" fill="#5070c8"/>
<circle cx="580.2" cy="298.3" r="0.85" fill="#5070c8"/>
<circle cx="583" cy="298.4" r="0.85" fill="#5070c8"/>
<circle cx="585.2" cy="295.3" r="0.85" fill="#5070c8"/>
<circle cx="587.8" cy="296.5" r="0.85" fill="#5070c8"/>
<circle cx="590.4" cy="294.8" r="0.85" fill="#5070c8"/>
<circle cx="592.9" cy="300.3" r="0.85" fill="#5070c8"/>
<circle cx="595.1" cy="299.4" r="0.85" fill="#5070c8"/>
<circle cx="597.8" cy="300.5" r="0.85" fill="#5070c8"/>
<circle cx="600.3" cy="297.9" r="0.85" fill="#5070c8"/>
<circle cx="602.6" cy="295.6" r="0.85" fill="#5070c8"/>
<circle cx="604.9" cy="297.5" r="0.85" fill="#5070c8"/>
<circle cx="607.4" cy="296.1" r="0.85" fill="#5070c8"/>
<circle cx="609.9" cy="298.4" r="0.85" fill="#5070c8"/>
<circle cx="611.9" cy="296.5" r="0.85" fill="#5070c8"/>
<circle cx="615" cy="295.9" r="0.85" fill="#5070c8"/>
<circle cx="617.7" cy="295.5" r="0.85" fill="#5070c8"/>
<circle cx="619.7" cy="295.9" r="0.85" fill="#5070c8"/>
<circle cx="621.8" cy="296" r="0.85" fill="#5070c8"/>
<circle cx="624.9" cy="295.2" r="0.85" fill="#5070c8"/>
<circle cx="627.5" cy="298.8" r="0.85" fill="#5070c8"/>
<circle cx="630.1" cy="294.8" r="0.85" fill="#5070c8"/>
<circle cx="632.1" cy="294.7" r="0.85" fill="#5070c8"/>
<circle cx="634.8" cy="296.7" r="0.85" fill="#5070c8"/>
<circle cx="637.3" cy="298.5" r="0.85" fill="#5070c8"/>
<circle cx="639.4" cy="296.5" r="0.85" fill="#5070c8"/>
<circle cx="642" cy="298.2" r="0.85" fill="#5070c8"/>
<circle cx="644.2" cy="298.1" r="0.85" fill="#5070c8"/>
<circle cx="647" cy="300.6" r="0.85" fill="#5070c8"/>
<circle cx="649.1" cy="300.1" r="0.85" fill="#5070c8"/>
<circle cx="651.5" cy="298.6" r="0.85" fill="#5070c8"/>
<circle cx="654.2" cy="299.9" r="0.85" fill="#5070c8"/>
<circle cx="656.5" cy="297.9" r="0.85" fill="#5070c8"/>
<circle cx="659" cy="298.5" r="0.85" fill="#5070c8"/>
<circle cx="661.9" cy="299.5" r="0.85" fill="#5070c8"/>
<circle cx="663.9" cy="298.7" r="0.85" fill="#5070c8"/>
<circle cx="666.7" cy="296.8" r="0.85" fill="#5070c8"/>
<circle cx="669.1" cy="299.4" r="0.85" fill="#5070c8"/>
<circle cx="671.6" cy="299" r="0.85" fill="#5070c8"/>
<circle cx="673.9" cy="300.7" r="0.85" fill="#5070c8"/>
<circle cx="676" cy="298.7" r="0.85" fill="#5070c8"/>
<circle cx="678.4" cy="299.1" r="0.85" fill="#5070c8"/>
<circle cx="528.1" cy="317.7" r="0.85" fill="#9a55b3"/>
<circle cx="531.6" cy="322.9" r="0.85" fill="#9a55b3"/>
<circle cx="534.3" cy="315.6" r="0.85" fill="#9a55b3"/>
<circle cx="537.5" cy="316.8" r="0.85" fill="#9a55b3"/>
<circle cx="540.3" cy="314.2" r="0.85" fill="#9a55b3"/>
<circle cx="543.3" cy="313.2" r="0.85" fill="#9a55b3"/>
<circle cx="546.2" cy="305.2" r="0.85" fill="#9a55b3"/>
<circle cx="549.6" cy="310.9" r="0.85" fill="#9a55b3"/>
<circle cx="552.6" cy="309.9" r="0.85" fill="#9a55b3"/>
<circle cx="555.6" cy="308" r="0.85" fill="#9a55b3"/>
<circle cx="558.4" cy="305.3" r="0.85" fill="#9a55b3"/>
<circle cx="561.8" cy="302.2" r="0.85" fill="#9a55b3"/>
<circle cx="564.6" cy="304.6" r="0.85" fill="#9a55b3"/>
<circle cx="567.5" cy="300.6" r="0.85" fill="#9a55b3"/>
<circle cx="570.3" cy="301.1" r="0.85" fill="#9a55b3"/>
<circle cx="573.4" cy="300.4" r="0.85" fill="#9a55b3"/>
<circle cx="576.1" cy="301.2" r="0.85" fill="#9a55b3"/>
<circle cx="579.4" cy="300.6" r="0.85" fill="#9a55b3"/>
<circle cx="581.8" cy="300.9" r="0.85" fill="#9a55b3"/>
<circle cx="584.8" cy="299.2" r="0.85" fill="#9a55b3"/>
<circle cx="587.8" cy="303.3" r="0.85" fill="#9a55b3"/>
<circle cx="590.5" cy="299.8" r="0.85" fill="#9a55b3"/>
<circle cx="593" cy="303.2" r="0.85" fill="#9a55b3"/>
<circle cx="596.7" cy="302.5" r="0.85" fill="#9a55b3"/>
<circle cx="599.9" cy="305.4" r="0.85" fill="#9a55b3"/>
<circle cx="602.1" cy="302.9" r="0.85" fill="#9a55b3"/>
<circle cx="605.7" cy="304.1" r="0.85" fill="#9a55b3"/>
<circle cx="608.5" cy="302" r="0.85" fill="#9a55b3"/>
<circle cx="611.5" cy="301" r="0.85" fill="#9a55b3"/>
<circle cx="614.7" cy="302.5" r="0.85" fill="#9a55b3"/>
<circle cx="616.8" cy="301.8" r="0.85" fill="#9a55b3"/>
<circle cx="619.6" cy="300.1" r="0.85" fill="#9a55b3"/>
<circle cx="622.7" cy="302.1" r="0.85" fill="#9a55b3"/>
<circle cx="626.1" cy="302.2" r="0.85" fill="#9a55b3"/>
<circle cx="629.1" cy="301.6" r="0.85" fill="#9a55b3"/>
<circle cx="632.3" cy="302.7" r="0.85" fill="#9a55b3"/>
<circle cx="634.8" cy="304.8" r="0.85" fill="#9a55b3"/>
<circle cx="638.1" cy="302.9" r="0.85" fill="#9a55b3"/>
<circle cx="641.5" cy="304" r="0.85" fill="#9a55b3"/>
<circle cx="644.3" cy="302.9" r="0.85" fill="#9a55b3"/>
<circle cx="647.3" cy="304" r="0.85" fill="#9a55b3"/>
<circle cx="649.9" cy="305.5" r="0.85" fill="#9a55b3"/>
<circle cx="652.7" cy="304.6" r="0.85" fill="#9a55b3"/>
<circle cx="656.2" cy="303.7" r="0.85" fill="#9a55b3"/>
<circle cx="659.1" cy="304.9" r="0.85" fill="#9a55b3"/>
<circle cx="662.1" cy="303" r="0.85" fill="#9a55b3"/>
<circle cx="664.3" cy="305.2" r="0.85" fill="#9a55b3"/>
<circle cx="668.1" cy="303.7" r="0.85" fill="#9a55b3"/>
<circle cx="670.8" cy="303.4" r="0.85" fill="#9a55b3"/>
<circle cx="673.8" cy="304.5" r="0.85" fill="#9a55b3"/>
<circle cx="676.7" cy="304.3" r="0.85" fill="#9a55b3"/>
<circle cx="679.8" cy="304.5" r="0.85" fill="#9a55b3"/>
<circle cx="527.8" cy="331.4" r="0.85" fill="#d64b8f"/>
<circle cx="530.7" cy="329.2" r="0.85" fill="#d64b8f"/>
<circle cx="534.1" cy="332.9" r="0.85" fill="#d64b8f"/>
<circle cx="537.4" cy="325.9" r="0.85" fill="#d64b8f"/>
<circle cx="540.7" cy="323.5" r="0.85" fill="#d64b8f"/>
<circle cx="543.9" cy="312.8" r="0.85" fill="#d64b8f"/>
<circle cx="547.4" cy="318.1" r="0.85" fill="#d64b8f"/>
<circle cx="550" cy="319.7" r="0.85" fill="#d64b8f"/>
<circle cx="553.5" cy="314.4" r="0.85" fill="#d64b8f"/>
<circle cx="556.4" cy="313.9" r="0.85" fill="#d64b8f"/>
<circle cx="559" cy="314" r="0.85" fill="#d64b8f"/>
<circle cx="562.6" cy="310.4" r="0.85" fill="#d64b8f"/>
<circle cx="566" cy="304.9" r="0.85" fill="#d64b8f"/>
<circle cx="568.7" cy="307.3" r="0.85" fill="#d64b8f"/>
<circle cx="571.1" cy="308.1" r="0.85" fill="#d64b8f"/>
<circle cx="574.1" cy="308.7" r="0.85" fill="#d64b8f"/>
<circle cx="576.8" cy="308.4" r="0.85" fill="#d64b8f"/>
<circle cx="580.5" cy="311" r="0.85" fill="#d64b8f"/>
<circle cx="583.5" cy="303.5" r="0.85" fill="#d64b8f"/>
<circle cx="586.4" cy="307.2" r="0.85" fill="#d64b8f"/>
<circle cx="588.7" cy="302.8" r="0.85" fill="#d64b8f"/>
<circle cx="592.4" cy="303.2" r="0.85" fill="#d64b8f"/>
<circle cx="595.2" cy="304.9" r="0.85" fill="#d64b8f"/>
<circle cx="598.2" cy="306.9" r="0.85" fill="#d64b8f"/>
<circle cx="601.4" cy="307.5" r="0.85" fill="#d64b8f"/>
<circle cx="605" cy="306.8" r="0.85" fill="#d64b8f"/>
<circle cx="607.5" cy="308.4" r="0.85" fill="#d64b8f"/>
<circle cx="610.7" cy="304.9" r="0.85" fill="#d64b8f"/>
<circle cx="613.2" cy="306.7" r="0.85" fill="#d64b8f"/>
<circle cx="616.9" cy="306" r="0.85" fill="#d64b8f"/>
<circle cx="619.5" cy="304.2" r="0.85" fill="#d64b8f"/>
<circle cx="622.9" cy="303.9" r="0.85" fill="#d64b8f"/>
<circle cx="625.8" cy="306" r="0.85" fill="#d64b8f"/>
<circle cx="628.5" cy="305.5" r="0.85" fill="#d64b8f"/>
<circle cx="631.7" cy="304.9" r="0.85" fill="#d64b8f"/>
<circle cx="634.8" cy="305.8" r="0.85" fill="#d64b8f"/>
<circle cx="638" cy="308" r="0.85" fill="#d64b8f"/>
<circle cx="641" cy="306.7" r="0.85" fill="#d64b8f"/>
<circle cx="644.4" cy="307.1" r="0.85" fill="#d64b8f"/>
<circle cx="647.9" cy="306.1" r="0.85" fill="#d64b8f"/>
<circle cx="650.7" cy="306.7" r="0.85" fill="#d64b8f"/>
<circle cx="653.6" cy="308.2" r="0.85" fill="#d64b8f"/>
<circle cx="656.7" cy="305.9" r="0.85" fill="#d64b8f"/>
<circle cx="660.2" cy="307.3" r="0.85" fill="#d64b8f"/>
<circle cx="662.9" cy="307.2" r="0.85" fill="#d64b8f"/>
<circle cx="665.4" cy="307.2" r="0.85" fill="#d64b8f"/>
<circle cx="668.1" cy="305.9" r="0.85" fill="#d64b8f"/>
<circle cx="671.2" cy="305.6" r="0.85" fill="#d64b8f"/>
<circle cx="674.4" cy="307.2" r="0.85" fill="#d64b8f"/>
<circle cx="677.4" cy="307.8" r="0.85" fill="#d64b8f"/>
<circle cx="680.5" cy="307.1" r="0.85" fill="#d64b8f"/>
<circle cx="529" cy="328.4" r="0.85" fill="#82c77a"/>
<circle cx="533" cy="324.5" r="0.85" fill="#82c77a"/>
<circle cx="537.2" cy="320.4" r="0.85" fill="#82c77a"/>
<circle cx="540.4" cy="319.5" r="0.85" fill="#82c77a"/>
<circle cx="544.2" cy="310.6" r="0.85" fill="#82c77a"/>
<circle cx="547.9" cy="310.5" r="0.85" fill="#82c77a"/>
<circle cx="551.7" cy="309.4" r="0.85" fill="#82c77a"/>
<circle cx="555.2" cy="308.5" r="0.85" fill="#82c77a"/>
<circle cx="559.1" cy="305.1" r="0.85" fill="#82c77a"/>
<circle cx="563" cy="306" r="0.85" fill="#82c77a"/>
<circle cx="566.7" cy="302.6" r="0.85" fill="#82c77a"/>
<circle cx="570.3" cy="303.1" r="0.85" fill="#82c77a"/>
<circle cx="574.7" cy="304.4" r="0.85" fill="#82c77a"/>
<circle cx="578" cy="302.9" r="0.85" fill="#82c77a"/>
<circle cx="581.8" cy="301.6" r="0.85" fill="#82c77a"/>
<circle cx="585.1" cy="303" r="0.85" fill="#82c77a"/>
<circle cx="588.6" cy="298.3" r="0.85" fill="#82c77a"/>
<circle cx="592.8" cy="302.3" r="0.85" fill="#82c77a"/>
<circle cx="596.2" cy="304.2" r="0.85" fill="#82c77a"/>
<circle cx="600.2" cy="302.2" r="0.85" fill="#82c77a"/>
<circle cx="604" cy="302.7" r="0.85" fill="#82c77a"/>
<circle cx="607.9" cy="303.8" r="0.85" fill="#82c77a"/>
<circle cx="612" cy="301.9" r="0.85" fill="#82c77a"/>
<circle cx="615.8" cy="301.2" r="0.85" fill="#82c77a"/>
<circle cx="619.9" cy="301.7" r="0.85" fill="#82c77a"/>
<circle cx="624.1" cy="302" r="0.85" fill="#82c77a"/>
<circle cx="627.5" cy="300.5" r="0.85" fill="#82c77a"/>
<circle cx="630.6" cy="300.3" r="0.85" fill="#82c77a"/>
<circle cx="634.3" cy="301.9" r="0.85" fill="#82c77a"/>
<circle cx="638.1" cy="303.2" r="0.85" fill="#82c77a"/>
<circle cx="642.3" cy="301.3" r="0.85" fill="#82c77a"/>
<circle cx="645.9" cy="303" r="0.85" fill="#82c77a"/>
<circle cx="649.3" cy="305.7" r="0.85" fill="#82c77a"/>
<circle cx="652.5" cy="304.6" r="0.85" fill="#82c77a"/>
<circle cx="656.4" cy="303.6" r="0.85" fill="#82c77a"/>
<circle cx="660.1" cy="304" r="0.85" fill="#82c77a"/>
<circle cx="664.4" cy="302.6" r="0.85" fill="#82c77a"/>
<circle cx="668.7" cy="303.8" r="0.85" fill="#82c77a"/>
<circle cx="673" cy="302.4" r="0.85" fill="#82c77a"/>
<circle cx="676.1" cy="305.1" r="0.85" fill="#82c77a"/>
<circle cx="679.6" cy="304.8" r="0.85" fill="#82c77a"/>
<circle cx="529.3" cy="331.7" r="0.85" fill="#8fd3e4"/>
<circle cx="532.4" cy="326.5" r="0.85" fill="#8fd3e4"/>
<circle cx="535.8" cy="331" r="0.85" fill="#8fd3e4"/>
<circle cx="539.2" cy="326.3" r="0.85" fill="#8fd3e4"/>
<circle cx="542.8" cy="320.2" r="0.85" fill="#8fd3e4"/>
<circle cx="546.3" cy="321.7" r="0.85" fill="#8fd3e4"/>
<circle cx="548.9" cy="317" r="0.85" fill="#8fd3e4"/>
<circle cx="552.2" cy="312.6" r="0.85" fill="#8fd3e4"/>
<circle cx="555.4" cy="312.4" r="0.85" fill="#8fd3e4"/>
<circle cx="558.4" cy="310.9" r="0.85" fill="#8fd3e4"/>
<circle cx="561.5" cy="309.2" r="0.85" fill="#8fd3e4"/>
<circle cx="564.6" cy="306.2" r="0.85" fill="#8fd3e4"/>
<circle cx="567.5" cy="307.6" r="0.85" fill="#8fd3e4"/>
<circle cx="570.3" cy="310.9" r="0.85" fill="#8fd3e4"/>
<circle cx="573.3" cy="310.2" r="0.85" fill="#8fd3e4"/>
<circle cx="576.6" cy="310.1" r="0.85" fill="#8fd3e4"/>
<circle cx="580.3" cy="308.6" r="0.85" fill="#8fd3e4"/>
<circle cx="583.2" cy="308.1" r="0.85" fill="#8fd3e4"/>
<circle cx="586.2" cy="308.2" r="0.85" fill="#8fd3e4"/>
<circle cx="589.1" cy="305.2" r="0.85" fill="#8fd3e4"/>
<circle cx="592.7" cy="305.9" r="0.85" fill="#8fd3e4"/>
<circle cx="595.4" cy="306.2" r="0.85" fill="#8fd3e4"/>
<circle cx="599" cy="308.6" r="0.85" fill="#8fd3e4"/>
<circle cx="602.5" cy="307.7" r="0.85" fill="#8fd3e4"/>
<circle cx="606.2" cy="311.7" r="0.85" fill="#8fd3e4"/>
<circle cx="609.4" cy="308.3" r="0.85" fill="#8fd3e4"/>
<circle cx="612.8" cy="305.7" r="0.85" fill="#8fd3e4"/>
<circle cx="616" cy="306.6" r="0.85" fill="#8fd3e4"/>
<circle cx="619.2" cy="306.8" r="0.85" fill="#8fd3e4"/>
<circle cx="622.5" cy="307.5" r="0.85" fill="#8fd3e4"/>
<circle cx="625.6" cy="308.5" r="0.85" fill="#8fd3e4"/>
<circle cx="629" cy="305.7" r="0.85" fill="#8fd3e4"/>
<circle cx="632.3" cy="308" r="0.85" fill="#8fd3e4"/>
<circle cx="635.8" cy="307.1" r="0.85" fill="#8fd3e4"/>
<circle cx="638.8" cy="309.2" r="0.85" fill="#8fd3e4"/>
<circle cx="642.2" cy="307.7" r="0.85" fill="#8fd3e4"/>
<circle cx="645.2" cy="310" r="0.85" fill="#8fd3e4"/>
<circle cx="649.3" cy="310" r="0.85" fill="#8fd3e4"/>
<circle cx="652.4" cy="306.4" r="0.85" fill="#8fd3e4"/>
<circle cx="655.3" cy="309.1" r="0.85" fill="#8fd3e4"/>
<circle cx="658.9" cy="306.8" r="0.85" fill="#8fd3e4"/>
<circle cx="661.9" cy="308" r="0.85" fill="#8fd3e4"/>
<circle cx="665" cy="308.6" r="0.85" fill="#8fd3e4"/>
<circle cx="668.6" cy="308.3" r="0.85" fill="#8fd3e4"/>
<circle cx="671.3" cy="308.3" r="0.85" fill="#8fd3e4"/>
<circle cx="674.1" cy="309.5" r="0.85" fill="#8fd3e4"/>
<circle cx="677.5" cy="309.6" r="0.85" fill="#8fd3e4"/>
<circle cx="528.7" cy="334.7" r="0.85" fill="#f0d24c"/>
<circle cx="531.6" cy="335.8" r="0.85" fill="#f0d24c"/>
<circle cx="535.4" cy="336.1" r="0.85" fill="#f0d24c"/>
<circle cx="538.6" cy="327" r="0.85" fill="#f0d24c"/>
<circle cx="542.9" cy="322" r="0.85" fill="#f0d24c"/>
<circle cx="546.3" cy="320.2" r="0.85" fill="#f0d24c"/>
<circle cx="549.9" cy="317.4" r="0.85" fill="#f0d24c"/>
<circle cx="553.9" cy="317.1" r="0.85" fill="#f0d24c"/>
<circle cx="558.4" cy="316" r="0.85" fill="#f0d24c"/>
<circle cx="561.4" cy="314.5" r="0.85" fill="#f0d24c"/>
<circle cx="565.3" cy="306.6" r="0.85" fill="#f0d24c"/>
<circle cx="568.4" cy="308.8" r="0.85" fill="#f0d24c"/>
<circle cx="571.7" cy="311.3" r="0.85" fill="#f0d24c"/>
<circle cx="575.6" cy="313" r="0.85" fill="#f0d24c"/>
<circle cx="579.3" cy="313" r="0.85" fill="#f0d24c"/>
<circle cx="582.8" cy="308.6" r="0.85" fill="#f0d24c"/>
<circle cx="586.9" cy="310" r="0.85" fill="#f0d24c"/>
<circle cx="591" cy="308.7" r="0.85" fill="#f0d24c"/>
<circle cx="594.6" cy="312.2" r="0.85" fill="#f0d24c"/>
<circle cx="598.1" cy="310.1" r="0.85" fill="#f0d24c"/>
<circle cx="601.9" cy="312.1" r="0.85" fill="#f0d24c"/>
<circle cx="605.7" cy="311.3" r="0.85" fill="#f0d24c"/>
<circle cx="609.9" cy="310.2" r="0.85" fill="#f0d24c"/>
<circle cx="613.2" cy="309.9" r="0.85" fill="#f0d24c"/>
<circle cx="617.7" cy="307" r="0.85" fill="#f0d24c"/>
<circle cx="620.9" cy="309.9" r="0.85" fill="#f0d24c"/>
<circle cx="625.1" cy="310.8" r="0.85" fill="#f0d24c"/>
<circle cx="628.3" cy="310.5" r="0.85" fill="#f0d24c"/>
<circle cx="632.1" cy="308.5" r="0.85" fill="#f0d24c"/>
<circle cx="635.8" cy="312.3" r="0.85" fill="#f0d24c"/>
<circle cx="639" cy="310.7" r="0.85" fill="#f0d24c"/>
<circle cx="642.8" cy="312.5" r="0.85" fill="#f0d24c"/>
<circle cx="646.3" cy="313.7" r="0.85" fill="#f0d24c"/>
<circle cx="649.4" cy="313.5" r="0.85" fill="#f0d24c"/>
<circle cx="652.6" cy="312.1" r="0.85" fill="#f0d24c"/>
<circle cx="656.9" cy="314.9" r="0.85" fill="#f0d24c"/>
<circle cx="660.7" cy="313.5" r="0.85" fill="#f0d24c"/>
<circle cx="664" cy="313.4" r="0.85" fill="#f0d24c"/>
<circle cx="667.6" cy="312.8" r="0.85" fill="#f0d24c"/>
<circle cx="671.4" cy="314" r="0.85" fill="#f0d24c"/>
<circle cx="674.8" cy="315.1" r="0.85" fill="#f0d24c"/>
<circle cx="677.9" cy="313.8" r="0.85" fill="#f0d24c"/>
<circle cx="530.4" cy="337.7" r="0.85" fill="#f39b5a"/>
<circle cx="533.6" cy="335.3" r="0.85" fill="#f39b5a"/>
<circle cx="537.8" cy="330.8" r="0.85" fill="#f39b5a"/>
<circle cx="541" cy="323.9" r="0.85" fill="#f39b5a"/>
<circle cx="544.5" cy="321.3" r="0.85" fill="#f39b5a"/>
<circle cx="548" cy="319.3" r="0.85" fill="#f39b5a"/>
<circle cx="551.5" cy="313" r="0.85" fill="#f39b5a"/>
<circle cx="554.2" cy="315.3" r="0.85" fill="#f39b5a"/>
<circle cx="557.8" cy="319.3" r="0.85" fill="#f39b5a"/>
<circle cx="561.1" cy="314.1" r="0.85" fill="#f39b5a"/>
<circle cx="564.6" cy="312.9" r="0.85" fill="#f39b5a"/>
<circle cx="568" cy="311.8" r="0.85" fill="#f39b5a"/>
<circle cx="570.9" cy="314.5" r="0.85" fill="#f39b5a"/>
<circle cx="574.3" cy="312.4" r="0.85" fill="#f39b5a"/>
<circle cx="577.6" cy="310.8" r="0.85" fill="#f39b5a"/>
<circle cx="581.1" cy="308.8" r="0.85" fill="#f39b5a"/>
<circle cx="585" cy="310.7" r="0.85" fill="#f39b5a"/>
<circle cx="587.9" cy="304.7" r="0.85" fill="#f39b5a"/>
<circle cx="591.1" cy="309.2" r="0.85" fill="#f39b5a"/>
<circle cx="594.8" cy="310.9" r="0.85" fill="#f39b5a"/>
<circle cx="598.2" cy="314" r="0.85" fill="#f39b5a"/>
<circle cx="602.2" cy="316.7" r="0.85" fill="#f39b5a"/>
<circle cx="606.1" cy="311.9" r="0.85" fill="#f39b5a"/>
<circle cx="609" cy="313.4" r="0.85" fill="#f39b5a"/>
<circle cx="612" cy="313.1" r="0.85" fill="#f39b5a"/>
<circle cx="615.5" cy="315" r="0.85" fill="#f39b5a"/>
<circle cx="619.4" cy="314" r="0.85" fill="#f39b5a"/>
<circle cx="623" cy="314.2" r="0.85" fill="#f39b5a"/>
<circle cx="627.2" cy="312.4" r="0.85" fill="#f39b5a"/>
<circle cx="631" cy="312.5" r="0.85" fill="#f39b5a"/>
<circle cx="634" cy="313" r="0.85" fill="#f39b5a"/>
<circle cx="637.9" cy="311.4" r="0.85" fill="#f39b5a"/>
<circle cx="641" cy="314.1" r="0.85" fill="#f39b5a"/>
<circle cx="644.5" cy="313" r="0.85" fill="#f39b5a"/>
<circle cx="648.2" cy="313.5" r="0.85" fill="#f39b5a"/>
<circle cx="651.4" cy="314.6" r="0.85" fill="#f39b5a"/>
<circle cx="655.7" cy="313.7" r="0.85" fill="#f39b5a"/>
<circle cx="658.8" cy="314.7" r="0.85" fill="#f39b5a"/>
<circle cx="662.9" cy="312.3" r="0.85" fill="#f39b5a"/>
<circle cx="666.1" cy="312.5" r="0.85" fill="#f39b5a"/>
<circle cx="669.5" cy="312.4" r="0.85" fill="#f39b5a"/>
<circle cx="672.8" cy="312.6" r="0.85" fill="#f39b5a"/>
<circle cx="675.4" cy="312.3" r="0.85" fill="#f39b5a"/>
<circle cx="679" cy="311.9" r="0.85" fill="#f39b5a"/>
<circle cx="529.5" cy="321.1" r="0.85" fill="#5dc0b0"/>
<circle cx="532.2" cy="324.4" r="0.85" fill="#5dc0b0"/>
<circle cx="535.6" cy="320.5" r="0.85" fill="#5dc0b0"/>
<circle cx="539" cy="313.5" r="0.85" fill="#5dc0b0"/>
<circle cx="541.8" cy="313.8" r="0.85" fill="#5dc0b0"/>
<circle cx="545.4" cy="314.2" r="0.85" fill="#5dc0b0"/>
<circle cx="548.6" cy="313" r="0.85" fill="#5dc0b0"/>
<circle cx="552.1" cy="307.8" r="0.85" fill="#5dc0b0"/>
<circle cx="556.3" cy="306.6" r="0.85" fill="#5dc0b0"/>
<circle cx="559.7" cy="308.5" r="0.85" fill="#5dc0b0"/>
<circle cx="562.7" cy="302.9" r="0.85" fill="#5dc0b0"/>
<circle cx="566" cy="304.8" r="0.85" fill="#5dc0b0"/>
<circle cx="569.9" cy="302.7" r="0.85" fill="#5dc0b0"/>
<circle cx="573.7" cy="308.1" r="0.85" fill="#5dc0b0"/>
<circle cx="576.9" cy="305.4" r="0.85" fill="#5dc0b0"/>
<circle cx="580.3" cy="301.6" r="0.85" fill="#5dc0b0"/>
<circle cx="583.7" cy="303.5" r="0.85" fill="#5dc0b0"/>
<circle cx="587.9" cy="304.6" r="0.85" fill="#5dc0b0"/>
<circle cx="591.5" cy="304.5" r="0.85" fill="#5dc0b0"/>
<circle cx="595.4" cy="305.4" r="0.85" fill="#5dc0b0"/>
<circle cx="599.1" cy="306.8" r="0.85" fill="#5dc0b0"/>
<circle cx="603.1" cy="306" r="0.85" fill="#5dc0b0"/>
<circle cx="606.4" cy="306.1" r="0.85" fill="#5dc0b0"/>
<circle cx="609.5" cy="307.4" r="0.85" fill="#5dc0b0"/>
<circle cx="612.9" cy="304.9" r="0.85" fill="#5dc0b0"/>
<circle cx="616.4" cy="304.1" r="0.85" fill="#5dc0b0"/>
<circle cx="619.8" cy="302.4" r="0.85" fill="#5dc0b0"/>
<circle cx="623.8" cy="303.7" r="0.85" fill="#5dc0b0"/>
<circle cx="626.8" cy="306.4" r="0.85" fill="#5dc0b0"/>
<circle cx="630.5" cy="305.9" r="0.85" fill="#5dc0b0"/>
<circle cx="634.4" cy="305.2" r="0.85" fill="#5dc0b0"/>
<circle cx="637.8" cy="307.3" r="0.85" fill="#5dc0b0"/>
<circle cx="641" cy="306.1" r="0.85" fill="#5dc0b0"/>
<circle cx="644.2" cy="307.6" r="0.85" fill="#5dc0b0"/>
<circle cx="647.9" cy="306.9" r="0.85" fill="#5dc0b0"/>
<circle cx="650.4" cy="307.6" r="0.85" fill="#5dc0b0"/>
<circle cx="654" cy="308.8" r="0.85" fill="#5dc0b0"/>
<circle cx="657.5" cy="307.3" r="0.85" fill="#5dc0b0"/>
<circle cx="661" cy="307.9" r="0.85" fill="#5dc0b0"/>
<circle cx="664.7" cy="307.3" r="0.85" fill="#5dc0b0"/>
<circle cx="668.1" cy="307.7" r="0.85" fill="#5dc0b0"/>
<circle cx="670.9" cy="306.8" r="0.85" fill="#5dc0b0"/>
<circle cx="674.2" cy="309" r="0.85" fill="#5dc0b0"/>
<circle cx="677.5" cy="308.4" r="0.85" fill="#5dc0b0"/>
<polyline points="527.3,323.7 534.3,322.6 541.4,314.4 548.4,310.9 557.7,308.5 565.9,304.6 574,305.5 583.4,305 590.4,302.7 597.4,306.2 606.8,305 618.5,303.9 630.1,304.6 641.8,306.2 653.5,307.4 665.2,306.2 680.5,307.4" fill="none" stroke="#111" stroke-width="1.7" stroke-linejoin="round"/>
<rect x="527.5" y="287.5" width="153" height="51" fill="none" stroke="#8c8c8c" stroke-width="1"/>
<line x1="558.1" y1="338.5" x2="558.1" y2="335.5" stroke="#8c8c8c" stroke-width="1"/>
<line x1="588.7" y1="338.5" x2="588.7" y2="335.5" stroke="#8c8c8c" stroke-width="1"/>
<line x1="619.3" y1="338.5" x2="619.3" y2="335.5" stroke="#8c8c8c" stroke-width="1"/>
<line x1="649.9" y1="338.5" x2="649.9" y2="335.5" stroke="#8c8c8c" stroke-width="1"/>
<line x1="527.5" y1="313" x2="530" y2="313" stroke="#8c8c8c"/>
<text transform="translate(523,316.6) scale(0.88,1)" font-size="10.4" text-anchor="end" fill="#2b2b2b">0.5</text>
<text transform="translate(523,342.1) scale(0.88,1)" font-size="10.4" text-anchor="end" fill="#2b2b2b">0</text>
<polygon points="527.5,385.4 531.3,385 535.1,384.5 539,384.1 542.8,383.6 546.6,383 550.5,382.3 554.3,381.7 558.1,381.2 561.9,381.1 565.8,381 569.6,380.9 573.4,380.7 577.2,380.8 581,380.9 584.9,381 588.7,381.1 592.5,381.4 596.4,381.7 600.2,382 604,382.3 607.8,382.6 611.6,382.9 615.5,383.3 619.3,383.5 623.1,383.5 627,383.6 630.8,383.6 634.6,383.7 638.4,383.7 642.2,383.7 646.1,383.8 649.9,383.8 653.7,383.8 657.5,383.8 661.4,383.9 665.2,383.9 669,383.9 672.9,383.9 676.7,384 680.5,384 680.5,387 676.7,387 672.9,386.9 669,386.9 665.2,386.9 661.4,386.9 657.5,386.8 653.7,386.8 649.9,386.8 646.1,386.8 642.2,386.7 638.4,386.7 634.6,386.7 630.8,386.6 627,386.6 623.1,386.5 619.3,386.5 615.5,386.3 611.6,385.9 607.8,385.6 604,385.3 600.2,385 596.4,384.7 592.5,384.4 588.7,384.1 584.9,384 581,383.9 577.2,383.8 573.4,383.7 569.6,383.9 565.8,384 561.9,384.1 558.1,384.2 554.3,384.7 550.5,385.3 546.6,386 542.8,386.6 539,387.1 535.1,387.5 531.3,388 527.5,388.4" fill="#cdced1"/>
<circle cx="528" cy="383.8" r="0.85" fill="#5070c8"/>
<circle cx="530.5" cy="383.8" r="0.85" fill="#5070c8"/>
<circle cx="532.8" cy="381.7" r="0.85" fill="#5070c8"/>
<circle cx="535.3" cy="383.3" r="0.85" fill="#5070c8"/>
<circle cx="537.7" cy="382.3" r="0.85" fill="#5070c8"/>
<circle cx="540.3" cy="383" r="0.85" fill="#5070c8"/>
<circle cx="542.6" cy="379.7" r="0.85" fill="#5070c8"/>
<circle cx="545.2" cy="379.8" r="0.85" fill="#5070c8"/>
<circle cx="548.2" cy="378.9" r="0.85" fill="#5070c8"/>
<circle cx="550.1" cy="376.5" r="0.85" fill="#5070c8"/>
<circle cx="552.8" cy="377" r="0.85" fill="#5070c8"/>
<circle cx="555.6" cy="375.6" r="0.85" fill="#5070c8"/>
<circle cx="558.5" cy="373.9" r="0.85" fill="#5070c8"/>
<circle cx="560.6" cy="377.6" r="0.85" fill="#5070c8"/>
<circle cx="562.5" cy="374.9" r="0.85" fill="#5070c8"/>
<circle cx="564.6" cy="377.1" r="0.85" fill="#5070c8"/>
<circle cx="567.5" cy="376.4" r="0.85" fill="#5070c8"/>
<circle cx="569.8" cy="375.5" r="0.85" fill="#5070c8"/>
<circle cx="571.8" cy="377.3" r="0.85" fill="#5070c8"/>
<circle cx="574.6" cy="376.8" r="0.85" fill="#5070c8"/>
<circle cx="577" cy="377" r="0.85" fill="#5070c8"/>
<circle cx="579.3" cy="376.2" r="0.85" fill="#5070c8"/>
<circle cx="581.9" cy="378" r="0.85" fill="#5070c8"/>
<circle cx="583.9" cy="378.7" r="0.85" fill="#5070c8"/>
<circle cx="586.6" cy="377.9" r="0.85" fill="#5070c8"/>
<circle cx="588.9" cy="378.4" r="0.85" fill="#5070c8"/>
<circle cx="591.6" cy="379.4" r="0.85" fill="#5070c8"/>
<circle cx="594.1" cy="379.6" r="0.85" fill="#5070c8"/>
<circle cx="597.3" cy="379.2" r="0.85" fill="#5070c8"/>
<circle cx="599.7" cy="381.1" r="0.85" fill="#5070c8"/>
<circle cx="602.2" cy="380.2" r="0.85" fill="#5070c8"/>
<circle cx="604.1" cy="380.3" r="0.85" fill="#5070c8"/>
<circle cx="606.5" cy="380.7" r="0.85" fill="#5070c8"/>
<circle cx="609.1" cy="380.8" r="0.85" fill="#5070c8"/>
<circle cx="611.6" cy="381.1" r="0.85" fill="#5070c8"/>
<circle cx="613.4" cy="381.9" r="0.85" fill="#5070c8"/>
<circle cx="615.5" cy="381.7" r="0.85" fill="#5070c8"/>
<circle cx="618" cy="383" r="0.85" fill="#5070c8"/>
<circle cx="620.8" cy="381.9" r="0.85" fill="#5070c8"/>
<circle cx="623.5" cy="381.5" r="0.85" fill="#5070c8"/>
<circle cx="625.9" cy="382.1" r="0.85" fill="#5070c8"/>
<circle cx="628.7" cy="382.8" r="0.85" fill="#5070c8"/>
<circle cx="631.1" cy="382.6" r="0.85" fill="#5070c8"/>
<circle cx="633.3" cy="382.5" r="0.85" fill="#5070c8"/>
<circle cx="636.1" cy="382.2" r="0.85" fill="#5070c8"/>
<circle cx="638.3" cy="383.5" r="0.85" fill="#5070c8"/>
<circle cx="641" cy="383.4" r="0.85" fill="#5070c8"/>
<circle cx="643.4" cy="383" r="0.85" fill="#5070c8"/>
<circle cx="645.8" cy="383.7" r="0.85" fill="#5070c8"/>
<circle cx="648.4" cy="384" r="0.85" fill="#5070c8"/>
<circle cx="650.5" cy="383.6" r="0.85" fill="#5070c8"/>
<circle cx="652.8" cy="383.1" r="0.85" fill="#5070c8"/>
<circle cx="655.3" cy="383.1" r="0.85" fill="#5070c8"/>
<circle cx="657.8" cy="384.2" r="0.85" fill="#5070c8"/>
<circle cx="660.9" cy="384" r="0.85" fill="#5070c8"/>
<circle cx="663.3" cy="384.7" r="0.85" fill="#5070c8"/>
<circle cx="666.4" cy="383.9" r="0.85" fill="#5070c8"/>
<circle cx="668.7" cy="383.1" r="0.85" fill="#5070c8"/>
<circle cx="670.7" cy="384" r="0.85" fill="#5070c8"/>
<circle cx="673.1" cy="383.6" r="0.85" fill="#5070c8"/>
<circle cx="675.5" cy="385" r="0.85" fill="#5070c8"/>
<circle cx="678.5" cy="384.1" r="0.85" fill="#5070c8"/>
<circle cx="528.3" cy="386.8" r="0.85" fill="#9a55b3"/>
<circle cx="531.1" cy="385.4" r="0.85" fill="#9a55b3"/>
<circle cx="534" cy="386.9" r="0.85" fill="#9a55b3"/>
<circle cx="537.3" cy="383.8" r="0.85" fill="#9a55b3"/>
<circle cx="540.9" cy="383.4" r="0.85" fill="#9a55b3"/>
<circle cx="544.1" cy="382.7" r="0.85" fill="#9a55b3"/>
<circle cx="547.5" cy="382" r="0.85" fill="#9a55b3"/>
<circle cx="550.6" cy="381.5" r="0.85" fill="#9a55b3"/>
<circle cx="553.1" cy="382.1" r="0.85" fill="#9a55b3"/>
<circle cx="555.9" cy="380" r="0.85" fill="#9a55b3"/>
<circle cx="559.6" cy="379.3" r="0.85" fill="#9a55b3"/>
<circle cx="562.7" cy="379.4" r="0.85" fill="#9a55b3"/>
<circle cx="565" cy="382.4" r="0.85" fill="#9a55b3"/>
<circle cx="568" cy="380.7" r="0.85" fill="#9a55b3"/>
<circle cx="571.2" cy="380.9" r="0.85" fill="#9a55b3"/>
<circle cx="574.1" cy="380" r="0.85" fill="#9a55b3"/>
<circle cx="576.8" cy="379.9" r="0.85" fill="#9a55b3"/>
<circle cx="580.1" cy="379.5" r="0.85" fill="#9a55b3"/>
<circle cx="582.9" cy="378.9" r="0.85" fill="#9a55b3"/>
<circle cx="586.3" cy="380.5" r="0.85" fill="#9a55b3"/>
<circle cx="589.2" cy="381" r="0.85" fill="#9a55b3"/>
<circle cx="591.6" cy="380.6" r="0.85" fill="#9a55b3"/>
<circle cx="594.4" cy="380.8" r="0.85" fill="#9a55b3"/>
<circle cx="598" cy="381.4" r="0.85" fill="#9a55b3"/>
<circle cx="601.5" cy="381.5" r="0.85" fill="#9a55b3"/>
<circle cx="604.4" cy="380.6" r="0.85" fill="#9a55b3"/>
<circle cx="607.1" cy="381.1" r="0.85" fill="#9a55b3"/>
<circle cx="609.7" cy="381.8" r="0.85" fill="#9a55b3"/>
<circle cx="613.3" cy="383.3" r="0.85" fill="#9a55b3"/>
<circle cx="615.6" cy="383.1" r="0.85" fill="#9a55b3"/>
<circle cx="619.3" cy="382.7" r="0.85" fill="#9a55b3"/>
<circle cx="622.2" cy="382.5" r="0.85" fill="#9a55b3"/>
<circle cx="625.7" cy="383.1" r="0.85" fill="#9a55b3"/>
<circle cx="628.8" cy="383" r="0.85" fill="#9a55b3"/>
<circle cx="631.5" cy="383.2" r="0.85" fill="#9a55b3"/>
<circle cx="634.7" cy="384.4" r="0.85" fill="#9a55b3"/>
<circle cx="637.5" cy="383.5" r="0.85" fill="#9a55b3"/>
<circle cx="640.8" cy="384.6" r="0.85" fill="#9a55b3"/>
<circle cx="643.8" cy="383.7" r="0.85" fill="#9a55b3"/>
<circle cx="646.7" cy="384.9" r="0.85" fill="#9a55b3"/>
<circle cx="649.3" cy="385.8" r="0.85" fill="#9a55b3"/>
<circle cx="652.4" cy="383.4" r="0.85" fill="#9a55b3"/>
<circle cx="655" cy="385.8" r="0.85" fill="#9a55b3"/>
<circle cx="657.9" cy="383.9" r="0.85" fill="#9a55b3"/>
<circle cx="661.5" cy="384.2" r="0.85" fill="#9a55b3"/>
<circle cx="664.3" cy="385.1" r="0.85" fill="#9a55b3"/>
<circle cx="667.7" cy="385.8" r="0.85" fill="#9a55b3"/>
<circle cx="671.1" cy="385.8" r="0.85" fill="#9a55b3"/>
<circle cx="673.7" cy="386.4" r="0.85" fill="#9a55b3"/>
<circle cx="676.8" cy="385.8" r="0.85" fill="#9a55b3"/>
<circle cx="679.8" cy="386.7" r="0.85" fill="#9a55b3"/>
<circle cx="527.8" cy="386.5" r="0.85" fill="#d64b8f"/>
<circle cx="530.6" cy="387.7" r="0.85" fill="#d64b8f"/>
<circle cx="533.2" cy="386.4" r="0.85" fill="#d64b8f"/>
<circle cx="536.3" cy="386.2" r="0.85" fill="#d64b8f"/>
<circle cx="539.4" cy="387" r="0.85" fill="#d64b8f"/>
<circle cx="542.7" cy="387.6" r="0.85" fill="#d64b8f"/>
<circle cx="545.8" cy="384.3" r="0.85" fill="#d64b8f"/>
<circle cx="548.4" cy="383.6" r="0.85" fill="#d64b8f"/>
<circle cx="551" cy="383.1" r="0.85" fill="#d64b8f"/>
<circle cx="554" cy="383.8" r="0.85" fill="#d64b8f"/>
<circle cx="557.4" cy="383.5" r="0.85" fill="#d64b8f"/>
<circle cx="560" cy="382.1" r="0.85" fill="#d64b8f"/>
<circle cx="563.3" cy="382.2" r="0.85" fill="#d64b8f"/>
<circle cx="566.3" cy="382.9" r="0.85" fill="#d64b8f"/>
<circle cx="568.8" cy="382.2" r="0.85" fill="#d64b8f"/>
<circle cx="571.7" cy="381.3" r="0.85" fill="#d64b8f"/>
<circle cx="574.8" cy="383.2" r="0.85" fill="#d64b8f"/>
<circle cx="577.9" cy="383.2" r="0.85" fill="#d64b8f"/>
<circle cx="581" cy="382.1" r="0.85" fill="#d64b8f"/>
<circle cx="584.6" cy="382.4" r="0.85" fill="#d64b8f"/>
<circle cx="587.2" cy="382.1" r="0.85" fill="#d64b8f"/>
<circle cx="590.7" cy="382.7" r="0.85" fill="#d64b8f"/>
<circle cx="593.7" cy="382.4" r="0.85" fill="#d64b8f"/>
<circle cx="596.5" cy="383.1" r="0.85" fill="#d64b8f"/>
<circle cx="599.3" cy="382.8" r="0.85" fill="#d64b8f"/>
<circle cx="601.9" cy="384" r="0.85" fill="#d64b8f"/>
<circle cx="605.5" cy="384.9" r="0.85" fill="#d64b8f"/>
<circle cx="608.2" cy="384.4" r="0.85" fill="#d64b8f"/>
<circle cx="611.5" cy="385.5" r="0.85" fill="#d64b8f"/>
<circle cx="614.7" cy="386" r="0.85" fill="#d64b8f"/>
<circle cx="617" cy="384.6" r="0.85" fill="#d64b8f"/>
<circle cx="619.8" cy="384.1" r="0.85" fill="#d64b8f"/>
<circle cx="623.1" cy="385.3" r="0.85" fill="#d64b8f"/>
<circle cx="626.2" cy="385.6" r="0.85" fill="#d64b8f"/>
<circle cx="628.8" cy="385" r="0.85" fill="#d64b8f"/>
<circle cx="631.5" cy="386.5" r="0.85" fill="#d64b8f"/>
<circle cx="634.5" cy="386.5" r="0.85" fill="#d64b8f"/>
<circle cx="636.9" cy="386.3" r="0.85" fill="#d64b8f"/>
<circle cx="640.7" cy="387.2" r="0.85" fill="#d64b8f"/>
<circle cx="643.6" cy="385.9" r="0.85" fill="#d64b8f"/>
<circle cx="647" cy="386.3" r="0.85" fill="#d64b8f"/>
<circle cx="650.3" cy="386.4" r="0.85" fill="#d64b8f"/>
<circle cx="653.7" cy="386.8" r="0.85" fill="#d64b8f"/>
<circle cx="656.6" cy="385.7" r="0.85" fill="#d64b8f"/>
<circle cx="659.5" cy="385.5" r="0.85" fill="#d64b8f"/>
<circle cx="661.8" cy="386.3" r="0.85" fill="#d64b8f"/>
<circle cx="665" cy="387.1" r="0.85" fill="#d64b8f"/>
<circle cx="668.5" cy="386.1" r="0.85" fill="#d64b8f"/>
<circle cx="671.3" cy="386.4" r="0.85" fill="#d64b8f"/>
<circle cx="674.2" cy="385.4" r="0.85" fill="#d64b8f"/>
<circle cx="677" cy="385.7" r="0.85" fill="#d64b8f"/>
<circle cx="680.6" cy="387.3" r="0.85" fill="#d64b8f"/>
<circle cx="528.5" cy="387.5" r="0.85" fill="#82c77a"/>
<circle cx="532.6" cy="386.3" r="0.85" fill="#82c77a"/>
<circle cx="536.2" cy="385.7" r="0.85" fill="#82c77a"/>
<circle cx="540.1" cy="383.8" r="0.85" fill="#82c77a"/>
<circle cx="544" cy="383.5" r="0.85" fill="#82c77a"/>
<circle cx="548.1" cy="384.2" r="0.85" fill="#82c77a"/>
<circle cx="551.9" cy="380.6" r="0.85" fill="#82c77a"/>
<circle cx="556.1" cy="381.6" r="0.85" fill="#82c77a"/>
<circle cx="559.6" cy="381.1" r="0.85" fill="#82c77a"/>
<circle cx="562.9" cy="380.2" r="0.85" fill="#82c77a"/>
<circle cx="567.2" cy="380.4" r="0.85" fill="#82c77a"/>
<circle cx="571.3" cy="380.2" r="0.85" fill="#82c77a"/>
<circle cx="575.3" cy="380.8" r="0.85" fill="#82c77a"/>
<circle cx="578.8" cy="381.4" r="0.85" fill="#82c77a"/>
<circle cx="582.8" cy="381.9" r="0.85" fill="#82c77a"/>
<circle cx="586.1" cy="379.4" r="0.85" fill="#82c77a"/>
<circle cx="590.3" cy="380.9" r="0.85" fill="#82c77a"/>
<circle cx="594.4" cy="382.2" r="0.85" fill="#82c77a"/>
<circle cx="598.2" cy="380.6" r="0.85" fill="#82c77a"/>
<circle cx="602.1" cy="382.2" r="0.85" fill="#82c77a"/>
<circle cx="605" cy="381.6" r="0.85" fill="#82c77a"/>
<circle cx="609.2" cy="383" r="0.85" fill="#82c77a"/>
<circle cx="613.4" cy="382.1" r="0.85" fill="#82c77a"/>
<circle cx="617.1" cy="384.8" r="0.85" fill="#82c77a"/>
<circle cx="620.2" cy="384.5" r="0.85" fill="#82c77a"/>
<circle cx="624.5" cy="384" r="0.85" fill="#82c77a"/>
<circle cx="628.4" cy="382.6" r="0.85" fill="#82c77a"/>
<circle cx="631.7" cy="383.8" r="0.85" fill="#82c77a"/>
<circle cx="635.9" cy="383.4" r="0.85" fill="#82c77a"/>
<circle cx="639.1" cy="384.9" r="0.85" fill="#82c77a"/>
<circle cx="642.8" cy="383.2" r="0.85" fill="#82c77a"/>
<circle cx="646.6" cy="384.2" r="0.85" fill="#82c77a"/>
<circle cx="650.1" cy="383" r="0.85" fill="#82c77a"/>
<circle cx="653.9" cy="383.1" r="0.85" fill="#82c77a"/>
<circle cx="657.7" cy="385.3" r="0.85" fill="#82c77a"/>
<circle cx="661.8" cy="382.4" r="0.85" fill="#82c77a"/>
<circle cx="665" cy="383.9" r="0.85" fill="#82c77a"/>
<circle cx="668.8" cy="384.6" r="0.85" fill="#82c77a"/>
<circle cx="672.6" cy="384.1" r="0.85" fill="#82c77a"/>
<circle cx="676.5" cy="385.5" r="0.85" fill="#82c77a"/>
<circle cx="679.7" cy="384.5" r="0.85" fill="#82c77a"/>
<circle cx="528.9" cy="387.7" r="0.85" fill="#8fd3e4"/>
<circle cx="532" cy="387.7" r="0.85" fill="#8fd3e4"/>
<circle cx="535.4" cy="386.9" r="0.85" fill="#8fd3e4"/>
<circle cx="538.6" cy="387.3" r="0.85" fill="#8fd3e4"/>
<circle cx="542.6" cy="386.1" r="0.85" fill="#8fd3e4"/>
<circle cx="544.9" cy="384.1" r="0.85" fill="#8fd3e4"/>
<circle cx="548" cy="382.8" r="0.85" fill="#8fd3e4"/>
<circle cx="552.1" cy="385.5" r="0.85" fill="#8fd3e4"/>
<circle cx="554.6" cy="384.4" r="0.85" fill="#8fd3e4"/>
<circle cx="557.6" cy="383.2" r="0.85" fill="#8fd3e4"/>
<circle cx="560.7" cy="381.7" r="0.85" fill="#8fd3e4"/>
<circle cx="563.7" cy="382.1" r="0.85" fill="#8fd3e4"/>
<circle cx="567.1" cy="381.3" r="0.85" fill="#8fd3e4"/>
<circle cx="569.8" cy="382.2" r="0.85" fill="#8fd3e4"/>
<circle cx="573.3" cy="382.4" r="0.85" fill="#8fd3e4"/>
<circle cx="577" cy="383.1" r="0.85" fill="#8fd3e4"/>
<circle cx="580.3" cy="381.8" r="0.85" fill="#8fd3e4"/>
<circle cx="584.1" cy="382" r="0.85" fill="#8fd3e4"/>
<circle cx="586.4" cy="380.9" r="0.85" fill="#8fd3e4"/>
<circle cx="589.7" cy="381.9" r="0.85" fill="#8fd3e4"/>
<circle cx="593.4" cy="382" r="0.85" fill="#8fd3e4"/>
<circle cx="596.4" cy="381" r="0.85" fill="#8fd3e4"/>
<circle cx="600.3" cy="381.7" r="0.85" fill="#8fd3e4"/>
<circle cx="603.6" cy="381.4" r="0.85" fill="#8fd3e4"/>
<circle cx="607.5" cy="382.3" r="0.85" fill="#8fd3e4"/>
<circle cx="610.9" cy="382.3" r="0.85" fill="#8fd3e4"/>
<circle cx="614.4" cy="383.8" r="0.85" fill="#8fd3e4"/>
<circle cx="617.6" cy="382.3" r="0.85" fill="#8fd3e4"/>
<circle cx="620.7" cy="383.8" r="0.85" fill="#8fd3e4"/>
<circle cx="624.1" cy="381.5" r="0.85" fill="#8fd3e4"/>
<circle cx="627.5" cy="380.8" r="0.85" fill="#8fd3e4"/>
<circle cx="630.7" cy="383.4" r="0.85" fill="#8fd3e4"/>
<circle cx="633.9" cy="382.3" r="0.85" fill="#8fd3e4"/>
<circle cx="637.2" cy="381.7" r="0.85" fill="#8fd3e4"/>
<circle cx="639.8" cy="382.6" r="0.85" fill="#8fd3e4"/>
<circle cx="642.8" cy="383.3" r="0.85" fill="#8fd3e4"/>
<circle cx="646" cy="383.7" r="0.85" fill="#8fd3e4"/>
<circle cx="649.7" cy="381.4" r="0.85" fill="#8fd3e4"/>
<circle cx="652.7" cy="384.6" r="0.85" fill="#8fd3e4"/>
<circle cx="656.3" cy="383.4" r="0.85" fill="#8fd3e4"/>
<circle cx="659.3" cy="383.9" r="0.85" fill="#8fd3e4"/>
<circle cx="662.5" cy="383.4" r="0.85" fill="#8fd3e4"/>
<circle cx="666.1" cy="384.9" r="0.85" fill="#8fd3e4"/>
<circle cx="669" cy="385.3" r="0.85" fill="#8fd3e4"/>
<circle cx="672.4" cy="384.1" r="0.85" fill="#8fd3e4"/>
<circle cx="675.3" cy="384.3" r="0.85" fill="#8fd3e4"/>
<circle cx="677.9" cy="384.9" r="0.85" fill="#8fd3e4"/>
<circle cx="619.5" cy="379.6" r="0.85" fill="#f0d24c"/>
<circle cx="623.5" cy="381.1" r="0.85" fill="#f0d24c"/>
<circle cx="626.6" cy="381.4" r="0.85" fill="#f0d24c"/>
<circle cx="630.6" cy="381.5" r="0.85" fill="#f0d24c"/>
<circle cx="633.7" cy="381.9" r="0.85" fill="#f0d24c"/>
<circle cx="637" cy="382.4" r="0.85" fill="#f0d24c"/>
<circle cx="640.3" cy="381.8" r="0.85" fill="#f0d24c"/>
<circle cx="643.3" cy="381.8" r="0.85" fill="#f0d24c"/>
<circle cx="646.9" cy="381.6" r="0.85" fill="#f0d24c"/>
<circle cx="650.1" cy="380.7" r="0.85" fill="#f0d24c"/>
<circle cx="653.2" cy="382.9" r="0.85" fill="#f0d24c"/>
<circle cx="656.6" cy="383.3" r="0.85" fill="#f0d24c"/>
<circle cx="660.3" cy="383.4" r="0.85" fill="#f0d24c"/>
<circle cx="663.8" cy="382.3" r="0.85" fill="#f0d24c"/>
<circle cx="666.8" cy="382.5" r="0.85" fill="#f0d24c"/>
<circle cx="670.5" cy="384" r="0.85" fill="#f0d24c"/>
<circle cx="673.4" cy="383.2" r="0.85" fill="#f0d24c"/>
<circle cx="677.2" cy="383.4" r="0.85" fill="#f0d24c"/>
<circle cx="528.8" cy="387.7" r="0.85" fill="#f39b5a"/>
<circle cx="532" cy="387.7" r="0.85" fill="#f39b5a"/>
<circle cx="535.5" cy="386.5" r="0.85" fill="#f39b5a"/>
<circle cx="538" cy="385.2" r="0.85" fill="#f39b5a"/>
<circle cx="542" cy="386.4" r="0.85" fill="#f39b5a"/>
<circle cx="545" cy="385.8" r="0.85" fill="#f39b5a"/>
<circle cx="548.3" cy="385.1" r="0.85" fill="#f39b5a"/>
<circle cx="552.1" cy="384.9" r="0.85" fill="#f39b5a"/>
<circle cx="555.7" cy="385.5" r="0.85" fill="#f39b5a"/>
<circle cx="558.7" cy="382.8" r="0.85" fill="#f39b5a"/>
<circle cx="562.1" cy="383.2" r="0.85" fill="#f39b5a"/>
<circle cx="565.4" cy="384" r="0.85" fill="#f39b5a"/>
<circle cx="568.3" cy="382.4" r="0.85" fill="#f39b5a"/>
<circle cx="572.2" cy="384.1" r="0.85" fill="#f39b5a"/>
<circle cx="575.3" cy="383.8" r="0.85" fill="#f39b5a"/>
<circle cx="578.6" cy="384.8" r="0.85" fill="#f39b5a"/>
<circle cx="582.6" cy="383" r="0.85" fill="#f39b5a"/>
<circle cx="585.9" cy="384.7" r="0.85" fill="#f39b5a"/>
<circle cx="589.8" cy="383.6" r="0.85" fill="#f39b5a"/>
<circle cx="592.8" cy="384.4" r="0.85" fill="#f39b5a"/>
<circle cx="595.7" cy="383.2" r="0.85" fill="#f39b5a"/>
<circle cx="598.8" cy="385.7" r="0.85" fill="#f39b5a"/>
<circle cx="602.5" cy="384" r="0.85" fill="#f39b5a"/>
<circle cx="605.9" cy="384.3" r="0.85" fill="#f39b5a"/>
<circle cx="610" cy="383.3" r="0.85" fill="#f39b5a"/>
<circle cx="612.6" cy="386.2" r="0.85" fill="#f39b5a"/>
<circle cx="616.7" cy="386.1" r="0.85" fill="#f39b5a"/>
<circle cx="620" cy="385.9" r="0.85" fill="#f39b5a"/>
<circle cx="623" cy="385.9" r="0.85" fill="#f39b5a"/>
<circle cx="626.2" cy="385.8" r="0.85" fill="#f39b5a"/>
<circle cx="630.1" cy="384.5" r="0.85" fill="#f39b5a"/>
<circle cx="634.1" cy="386.6" r="0.85" fill="#f39b5a"/>
<circle cx="636.8" cy="386.1" r="0.85" fill="#f39b5a"/>
<circle cx="640.5" cy="386.2" r="0.85" fill="#f39b5a"/>
<circle cx="643.5" cy="385.8" r="0.85" fill="#f39b5a"/>
<circle cx="646.7" cy="384.2" r="0.85" fill="#f39b5a"/>
<circle cx="649.8" cy="385.3" r="0.85" fill="#f39b5a"/>
<circle cx="653.7" cy="386" r="0.85" fill="#f39b5a"/>
<circle cx="657.5" cy="385.1" r="0.85" fill="#f39b5a"/>
<circle cx="660.7" cy="385.2" r="0.85" fill="#f39b5a"/>
<circle cx="663.7" cy="385.4" r="0.85" fill="#f39b5a"/>
<circle cx="666.6" cy="385.3" r="0.85" fill="#f39b5a"/>
<circle cx="670.2" cy="384.4" r="0.85" fill="#f39b5a"/>
<circle cx="674.2" cy="385.1" r="0.85" fill="#f39b5a"/>
<circle cx="677.4" cy="385.2" r="0.85" fill="#f39b5a"/>
<circle cx="528.1" cy="386.4" r="0.85" fill="#e9654e"/>
<circle cx="531" cy="385.9" r="0.85" fill="#e9654e"/>
<circle cx="534.5" cy="386.7" r="0.85" fill="#e9654e"/>
<circle cx="538.6" cy="387.7" r="0.85" fill="#e9654e"/>
<circle cx="542.1" cy="384.8" r="0.85" fill="#e9654e"/>
<circle cx="545.2" cy="384.8" r="0.85" fill="#e9654e"/>
<circle cx="549.8" cy="385.3" r="0.85" fill="#e9654e"/>
<circle cx="553.1" cy="384.8" r="0.85" fill="#e9654e"/>
<circle cx="555.9" cy="383.8" r="0.85" fill="#e9654e"/>
<circle cx="559.4" cy="383.7" r="0.85" fill="#e9654e"/>
<circle cx="562.5" cy="383.5" r="0.85" fill="#e9654e"/>
<circle cx="566.2" cy="384.1" r="0.85" fill="#e9654e"/>
<circle cx="569.6" cy="385" r="0.85" fill="#e9654e"/>
<circle cx="573.5" cy="383.4" r="0.85" fill="#e9654e"/>
<circle cx="576.4" cy="384" r="0.85" fill="#e9654e"/>
<circle cx="580.1" cy="382.8" r="0.85" fill="#e9654e"/>
<circle cx="583.7" cy="382.4" r="0.85" fill="#e9654e"/>
<circle cx="587" cy="383.6" r="0.85" fill="#e9654e"/>
<circle cx="590.9" cy="382.9" r="0.85" fill="#e9654e"/>
<circle cx="594" cy="383.2" r="0.85" fill="#e9654e"/>
<circle cx="597.6" cy="385.4" r="0.85" fill="#e9654e"/>
<circle cx="600.7" cy="383.2" r="0.85" fill="#e9654e"/>
<circle cx="603.7" cy="385.3" r="0.85" fill="#e9654e"/>
<circle cx="607.9" cy="386.6" r="0.85" fill="#e9654e"/>
<circle cx="611.5" cy="385.3" r="0.85" fill="#e9654e"/>
<circle cx="614.8" cy="386.7" r="0.85" fill="#e9654e"/>
<circle cx="618.2" cy="386.1" r="0.85" fill="#e9654e"/>
<circle cx="621.5" cy="385.6" r="0.85" fill="#e9654e"/>
<circle cx="625.5" cy="384.6" r="0.85" fill="#e9654e"/>
<circle cx="629.1" cy="385.9" r="0.85" fill="#e9654e"/>
<circle cx="632.8" cy="386.2" r="0.85" fill="#e9654e"/>
<circle cx="636" cy="386.6" r="0.85" fill="#e9654e"/>
<circle cx="640.2" cy="386.7" r="0.85" fill="#e9654e"/>
<circle cx="643.8" cy="386.5" r="0.85" fill="#e9654e"/>
<circle cx="646.7" cy="385.3" r="0.85" fill="#e9654e"/>
<circle cx="650.2" cy="385.9" r="0.85" fill="#e9654e"/>
<circle cx="653.5" cy="385.7" r="0.85" fill="#e9654e"/>
<circle cx="657.4" cy="386.2" r="0.85" fill="#e9654e"/>
<circle cx="661" cy="387.5" r="0.85" fill="#e9654e"/>
<circle cx="664.9" cy="384.6" r="0.85" fill="#e9654e"/>
<circle cx="668.8" cy="387.7" r="0.85" fill="#e9654e"/>
<circle cx="672.5" cy="386" r="0.85" fill="#e9654e"/>
<circle cx="676.3" cy="386.6" r="0.85" fill="#e9654e"/>
<circle cx="679.7" cy="387.7" r="0.85" fill="#e9654e"/>
<polyline points="527.3,386.9 540,385.5 557.7,382.7 575,382.2 590.4,382.7 618.5,385 650,385.3 680.5,385.5" fill="none" stroke="#111" stroke-width="1.8" stroke-linejoin="round"/>
<rect x="527.5" y="338.5" width="153" height="50" fill="none" stroke="#8c8c8c" stroke-width="1"/>
<line x1="558.1" y1="388.5" x2="558.1" y2="385.5" stroke="#8c8c8c" stroke-width="1"/>
<line x1="588.7" y1="388.5" x2="588.7" y2="385.5" stroke="#8c8c8c" stroke-width="1"/>
<line x1="619.3" y1="388.5" x2="619.3" y2="385.5" stroke="#8c8c8c" stroke-width="1"/>
<line x1="649.9" y1="388.5" x2="649.9" y2="385.5" stroke="#8c8c8c" stroke-width="1"/>
<text transform="translate(527,400.8) scale(0.88,1)" font-size="10.4" text-anchor="middle" fill="#2b2b2b">&#8722;20</text>
<text transform="translate(558.1,400.8) scale(0.88,1)" font-size="10.4" text-anchor="middle" fill="#2b2b2b">0</text>
<text transform="translate(588.7,400.8) scale(0.88,1)" font-size="10.4" text-anchor="middle" fill="#2b2b2b">20</text>
<text transform="translate(619.3,400.8) scale(0.88,1)" font-size="10.4" text-anchor="middle" fill="#2b2b2b">40</text>
<text transform="translate(649.9,400.8) scale(0.88,1)" font-size="10.4" text-anchor="middle" fill="#2b2b2b">60</text>
<text transform="translate(680.5,400.8) scale(0.88,1)" font-size="10.4" text-anchor="middle" fill="#2b2b2b">80</text>
<line x1="527.5" y1="363.5" x2="530" y2="363.5" stroke="#8c8c8c"/>
<text transform="translate(523,367.1) scale(0.88,1)" font-size="10.4" text-anchor="end" fill="#2b2b2b">0.5</text>
<text transform="translate(523,392.1) scale(0.88,1)" font-size="10.4" text-anchor="end" fill="#2b2b2b">0</text>
<text transform="translate(523,240.1) scale(0.88,1)" font-size="10.4" text-anchor="end" fill="#2b2b2b">1.0</text>
<text font-size="10.4" text-anchor="middle" fill="#2b2b2b" transform="translate(498.5,262) rotate(-90) scale(0.88,1)"><tspan font-style="italic">Ê</tspan><tspan font-size="7" dy="2.5">g</tspan></text>
<text font-size="10.4" text-anchor="middle" fill="#2b2b2b" transform="translate(498.5,313) rotate(-90) scale(0.88,1)"><tspan font-style="italic">Ê</tspan><tspan font-size="7" dy="2.5">r</tspan></text>
<text font-size="10.4" text-anchor="middle" fill="#2b2b2b" transform="translate(502,364) rotate(-90) scale(0.88,1)"><tspan font-style="italic">Ĉ</tspan></text>
<text transform="translate(604,414.5) scale(0.88,1)" font-size="10.4" text-anchor="middle" fill="#2b2b2b"><tspan font-style="italic">t</tspan> &#8211; <tspan font-style="italic">t</tspan>* (h)</text>
<text x="-0.8" y="7.7" font-size="10.5" font-weight="bold" fill="#111">a</text>
<text x="275" y="7.6" font-size="10.5" font-weight="bold" fill="#111">b</text>
<text x="491" y="8.2" font-size="10.5" font-weight="bold" fill="#111">c</text>
<text x="275" y="229.8" font-size="10.5" font-weight="bold" fill="#111">d</text>
<text x="491" y="230.3" font-size="10.5" font-weight="bold" fill="#111">e</text>
</svg></body></html>
